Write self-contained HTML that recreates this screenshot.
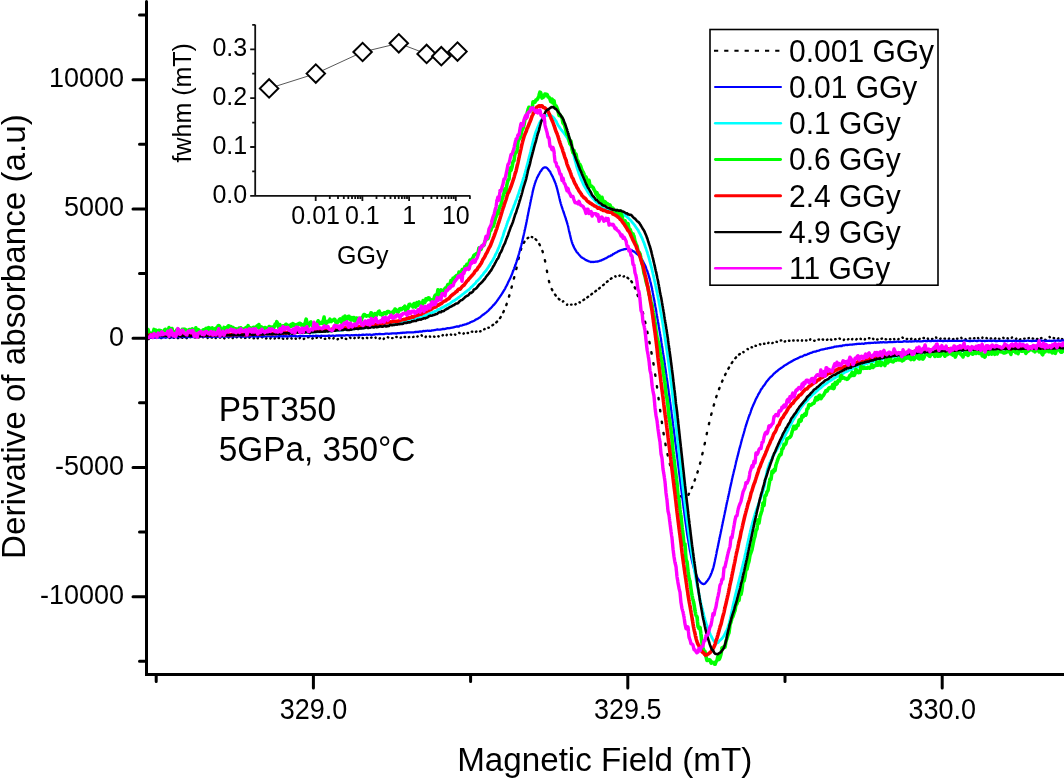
<!DOCTYPE html><html><head><meta charset="utf-8"><style>html,body{margin:0;padding:0;background:#fff;overflow:hidden}svg{display:block;will-change:transform}text{font-family:'Liberation Sans',sans-serif;fill:#000}</style></head><body>
<svg width="1064" height="778" viewBox="0 0 1064 778">
<rect width="1064" height="778" fill="#fff"/>
<defs><clipPath id="pc"><rect x="147.5" y="0" width="920" height="673"/></clipPath></defs>
<g clip-path="url(#pc)">
<path d="M148.6,339.0l0.28,-0.35M152.6,337.7l0.44,0.11M156.9,337.9l0.30,-0.34M161.2,338.1l0.23,-0.39M165.4,336.8l0.21,0.40M169.6,337.9l0.43,-0.14M173.6,337.7l0.42,0.17M177.9,338.2l0.29,-0.34M182.1,337.6l0.41,0.18M186.4,337.9l0.33,0.31M190.7,336.8l0.18,0.41M194.6,337.4l0.45,0.06M198.8,337.4l0.42,-0.16M203.1,337.3l0.36,-0.27M207.4,337.6l0.29,0.35M211.6,337.6l0.45,-0.04M215.7,338.1l0.24,-0.38M219.8,337.6l0.44,-0.08M224.1,338.2l0.41,0.18M228.4,337.2l0.26,0.37M232.7,338.1l0.20,-0.41M236.6,337.3l0.42,-0.16M240.9,337.2l0.25,0.37M245.1,338.0l0.42,-0.17M249.4,337.7l0.31,-0.33M253.6,338.3l0.45,-0.04M257.7,338.3l0.22,-0.39M261.9,337.1l0.30,0.33M266.1,338.4l0.40,-0.20M270.4,338.4l0.25,-0.38M274.7,338.6l0.19,-0.41M278.6,338.1l0.45,-0.04M282.8,338.5l0.38,0.24M287.2,338.6l0.22,-0.39M291.4,338.2l0.26,0.37M295.6,338.5l0.33,0.30M299.7,338.2l0.25,-0.37M303.8,338.9l0.40,-0.21M308.1,337.4l0.45,-0.01M312.4,338.5l0.35,-0.28M316.6,337.8l0.38,-0.25M320.7,337.3l0.22,0.39M324.8,338.9l0.44,-0.07M329.1,337.9l0.37,0.25M333.4,338.5l0.23,-0.39M337.6,339.3l0.37,-0.26M341.6,337.7l0.38,0.25M345.8,338.8l0.42,0.17M350.1,337.6l0.35,0.28M354.4,338.2l0.30,-0.34M358.6,337.8l0.30,-0.34M362.6,338.0l0.35,0.29M366.9,337.7l0.37,0.26M371.1,337.7l0.42,-0.15M375.5,337.5l0.16,0.42M379.6,338.5l0.37,-0.26M383.7,338.9l0.22,-0.39M387.8,337.3l0.43,0.14M392.1,338.1l0.45,-0.00M396.3,336.9l0.43,0.12M400.7,337.8l0.20,-0.40M404.6,337.0l0.45,0.06M408.8,337.2l0.41,-0.18M413.1,337.0l0.42,-0.16M417.3,336.6l0.41,-0.19M421.6,335.3l0.25,0.38M425.6,337.0l0.25,-0.38M429.9,336.4l0.20,0.40M434.1,336.6l0.40,0.21M438.3,336.2l0.33,0.30M442.6,335.4l0.30,-0.34M446.6,335.2l0.21,-0.40M450.8,334.5l0.39,0.23M455.0,334.4l0.36,0.26M459.2,332.8l0.35,0.29M463.5,333.7l0.29,-0.34M467.6,333.0l0.45,-0.00M471.8,331.6l0.44,0.11M476.0,331.7l0.37,-0.26M480.1,331.4l0.42,-0.15M484.2,329.3l0.39,-0.22M488.4,327.7l0.44,-0.09M492.4,325.3l0.76,-0.51M496.3,322.4l0.76,-0.77M500.0,318.1l0.67,-1.02M503.3,312.3l0.54,-1.18M506.3,305.1l0.43,-1.27M509.0,296.6l0.38,-1.30M511.5,287.7l0.36,-1.31M513.9,278.5l0.33,-1.33M516.3,269.0l0.31,-1.34M518.5,259.0l0.30,-1.34M520.8,249.8l0.43,-1.27M523.8,242.8l0.66,-1.03M527.5,238.2l0.75,-0.48M531.8,237.0l0.41,0.18M535.6,239.2l0.75,0.81M539.3,244.1l0.60,1.12M542.4,250.9l0.42,1.28M544.9,260.1l0.28,1.35M546.9,270.6l0.24,1.36M548.9,280.9l0.36,1.31M551.7,289.0l0.58,1.15M555.0,294.6l0.72,0.92M558.7,298.8l0.77,0.68M562.9,301.6l0.38,-0.25M567.0,304.8l0.25,-0.37M571.1,304.6l0.45,0.05M575.4,304.4l0.30,-0.33M579.5,302.2l0.35,0.28M583.4,300.1l0.76,-0.49M587.3,297.4l0.77,-0.57M591.3,294.4l0.77,-0.59M595.3,291.4l0.77,-0.59M599.1,288.5l0.77,-0.61M603.1,285.2l0.77,-0.66M606.9,281.9l0.77,-0.66M610.8,278.8l0.75,-0.49M615.3,276.2l0.26,0.37M619.4,275.7l0.40,-0.21M623.6,276.5l0.42,-0.17M627.5,277.8l0.77,0.57M631.3,281.3l0.69,0.99M634.7,287.3l0.50,1.22M637.5,294.8l0.43,1.27M640.2,303.1l0.38,1.30M642.8,312.3l0.34,1.32M645.1,321.7l0.30,1.34M647.3,331.8l0.28,1.35M649.4,342.0l0.27,1.35M651.4,352.3l0.26,1.36M653.4,363.2l0.23,1.36M655.2,374.5l0.21,1.37M656.9,386.1l0.19,1.38M658.5,398.0l0.18,1.38M660.1,409.9l0.19,1.38M661.8,421.6l0.20,1.37M663.5,432.9l0.23,1.37M665.4,443.8l0.26,1.36M667.5,454.1l0.30,1.34M669.8,463.8l0.34,1.32M672.2,473.2l0.33,1.32M674.5,482.7l0.35,1.32M677.2,490.8l0.59,1.13M680.7,496.2l0.77,0.69M684.9,498.2l0.28,0.35M688.4,494.8l0.61,-1.11M691.7,488.1l0.51,-1.21M694.6,480.6l0.45,-1.26M697.4,472.6l0.40,-1.29M700.0,463.7l0.35,-1.32M702.3,454.3l0.31,-1.34M704.6,444.3l0.29,-1.34M706.7,434.2l0.29,-1.34M708.9,424.2l0.31,-1.34M711.2,414.8l0.34,-1.32M713.7,405.6l0.38,-1.30M716.2,397.2l0.42,-1.28M719.0,389.2l0.47,-1.24M722.0,381.7l0.52,-1.20M725.1,374.9l0.58,-1.15M728.4,368.7l0.62,-1.09M731.7,363.1l0.68,-1.00M735.3,358.2l0.75,-0.81M739.1,354.5l0.77,-0.58M743.3,351.9l0.37,0.25M747.5,348.9l0.35,0.28M751.6,347.3l0.44,0.07M755.5,345.8l0.45,0.06M759.9,344.2l0.40,0.21M764.0,343.8l0.45,-0.00M768.2,343.1l0.27,-0.36M772.3,343.1l0.43,-0.14M776.5,341.8l0.43,0.13M780.8,340.5l0.44,-0.08M784.8,341.6l0.29,-0.34M789.0,340.8l0.44,-0.09M793.2,340.5l0.45,-0.00M797.5,340.5l0.45,0.01M801.9,340.7l0.17,-0.41M806.0,340.5l0.45,-0.04M810.1,339.7l0.21,-0.40M814.2,340.7l0.45,0.04M818.5,339.6l0.44,-0.09M822.7,339.4l0.39,0.22M827.0,339.8l0.39,-0.22M831.0,339.5l0.29,0.35M835.2,339.2l0.44,-0.07M839.5,338.5l0.38,0.24M843.8,339.9l0.24,-0.38M848.0,339.3l0.43,-0.15M852.1,339.3l0.23,-0.39M856.3,339.4l0.35,-0.28M860.5,338.8l0.38,0.24M864.8,339.5l0.19,-0.41M869.0,338.3l0.45,-0.05M873.1,338.7l0.27,0.36M877.2,339.5l0.44,-0.10M881.5,338.7l0.43,-0.14M885.7,339.3l0.44,0.08M890.0,339.2l0.42,0.17M894.1,338.9l0.24,0.38M898.3,339.3l0.27,-0.36M902.5,337.5l0.28,0.35M906.7,338.9l0.44,0.10M911.0,338.9l0.43,-0.13M915.0,339.5l0.39,-0.22M919.2,339.0l0.41,-0.18M923.5,338.0l0.45,0.00M927.8,338.6l0.20,0.41M932.0,338.9l0.45,-0.01M936.1,337.4l0.22,0.39M940.2,338.8l0.41,-0.18M944.5,338.6l0.44,0.10M948.8,338.9l0.28,-0.35M953.0,339.2l0.43,-0.12M957.0,338.7l0.45,0.02M961.3,337.8l0.25,0.38M965.5,339.1l0.34,0.30M969.7,338.4l0.45,0.03M974.0,338.3l0.44,-0.11M978.0,338.0l0.34,0.30M982.3,337.9l0.19,-0.41M986.5,338.1l0.39,0.22M990.7,338.5l0.43,-0.14M995.0,338.7l0.31,-0.33M999.0,338.7l0.44,0.10M1003.3,337.7l0.29,0.35M1007.5,338.2l0.35,0.29M1011.8,337.8l0.19,-0.41M1016.0,338.9l0.36,-0.27M1020.0,339.5l0.28,-0.35M1024.2,338.6l0.44,0.07M1028.5,338.2l0.43,-0.14M1032.7,338.5l0.44,0.08M1037.0,339.0l0.43,-0.12M1041.0,338.2l0.43,-0.12M1045.2,339.8l0.45,0.06M1049.6,336.9l0.20,0.40M1053.7,338.0l0.42,0.16M1058.0,338.6l0.35,-0.28M1062.0,338.9l0.37,0.25" fill="none" stroke="#000" stroke-width="2.4" stroke-linecap="round"/>
<path d="M148.0,337.9 L148.6,337.8 L149.2,337.8 L149.8,337.9 L150.4,337.9 L151.0,337.7 L151.6,337.7 L152.2,337.7 L152.8,337.6 L153.4,337.7 L154.0,337.8 L154.6,337.7 L155.2,337.7 L155.8,337.7 L156.4,337.6 L157.0,337.5 L157.6,337.6 L158.2,337.6 L158.8,337.4 L159.4,337.5 L160.0,337.6 L160.6,337.6 L161.2,337.5 L161.8,337.5 L162.4,337.5 L163.0,337.5 L163.6,337.3 L164.2,337.3 L164.8,337.4 L165.4,337.6 L166.0,337.7 L166.6,337.3 L167.2,337.1 L167.8,337.0 L168.4,337.0 L169.0,337.0 L169.6,337.2 L170.2,337.3 L170.8,337.3 L171.4,337.3 L172.0,337.4 L172.6,337.3 L173.2,337.3 L173.8,337.2 L174.4,337.2 L175.0,337.2 L175.6,337.1 L176.2,337.1 L176.8,337.2 L177.4,337.1 L178.0,336.9 L178.6,337.0 L179.2,337.0 L179.8,337.1 L180.4,337.2 L181.0,337.3 L181.6,337.0 L182.2,336.9 L182.8,336.8 L183.4,336.8 L184.0,336.9 L184.6,337.0 L185.2,337.0 L185.8,336.9 L186.4,337.0 L187.0,337.1 L187.6,336.8 L188.2,336.7 L188.8,337.0 L189.4,337.0 L190.0,337.0 L190.6,336.8 L191.2,336.7 L191.8,336.8 L192.4,336.9 L193.0,337.0 L193.6,336.9 L194.2,336.8 L194.8,336.9 L195.4,337.0 L196.0,337.1 L196.6,336.9 L197.2,336.8 L197.8,336.7 L198.4,336.7 L199.0,336.6 L199.6,336.7 L200.2,336.8 L200.8,336.7 L201.4,336.7 L202.0,336.7 L202.6,336.7 L203.2,336.7 L203.8,336.8 L204.4,336.7 L205.0,336.5 L205.6,336.5 L206.2,336.4 L206.8,336.3 L207.4,336.5 L208.0,336.8 L208.6,336.7 L209.2,336.7 L209.8,336.8 L210.4,336.8 L211.0,336.6 L211.6,336.5 L212.2,336.5 L212.8,336.6 L213.4,336.6 L214.0,336.6 L214.6,336.5 L215.2,336.4 L215.8,336.4 L216.4,336.6 L217.0,336.8 L217.6,336.7 L218.2,336.6 L218.8,336.6 L219.4,336.6 L220.0,336.5 L220.6,336.5 L221.2,336.5 L221.8,336.6 L222.4,336.6 L223.0,336.5 L223.6,336.4 L224.2,336.4 L224.8,336.5 L225.4,336.4 L226.0,336.4 L226.6,336.5 L227.2,336.5 L227.8,336.6 L228.4,336.5 L229.0,336.4 L229.6,336.6 L230.2,336.6 L230.8,336.4 L231.4,336.4 L232.0,336.5 L232.6,336.4 L233.2,336.4 L233.8,336.4 L234.4,336.4 L235.0,336.5 L235.6,336.4 L236.2,336.4 L236.8,336.3 L237.4,336.3 L238.0,336.3 L238.6,336.3 L239.2,336.3 L239.8,336.2 L240.4,336.3 L241.0,336.4 L241.6,336.4 L242.2,336.5 L242.8,336.5 L243.4,336.5 L244.0,336.5 L244.6,336.7 L245.2,336.7 L245.8,336.5 L246.4,336.4 L247.0,336.3 L247.6,336.5 L248.2,336.6 L248.8,336.3 L249.4,336.4 L250.0,336.5 L250.6,336.4 L251.2,336.3 L251.8,336.4 L252.4,336.3 L253.0,336.1 L253.6,336.3 L254.2,336.5 L254.8,336.4 L255.4,336.3 L256.0,336.2 L256.6,336.5 L257.2,336.6 L257.8,336.5 L258.4,336.4 L259.0,336.4 L259.6,336.3 L260.2,336.3 L260.8,336.3 L261.4,336.3 L262.0,336.3 L262.6,336.4 L263.2,336.5 L263.8,336.5 L264.4,336.4 L265.0,336.2 L265.6,336.3 L266.2,336.3 L266.8,336.3 L267.4,336.2 L268.0,336.1 L268.6,336.2 L269.2,336.3 L269.8,336.3 L270.4,336.4 L271.0,336.4 L271.6,336.5 L272.2,336.5 L272.8,336.3 L273.4,336.3 L274.0,336.4 L274.6,336.3 L275.2,336.3 L275.8,336.5 L276.4,336.5 L277.0,336.3 L277.6,336.3 L278.2,336.3 L278.8,336.2 L279.4,336.2 L280.0,336.2 L280.6,336.3 L281.2,336.3 L281.8,336.2 L282.4,336.3 L283.0,336.3 L283.6,336.1 L284.2,336.1 L284.8,336.3 L285.4,336.3 L286.0,336.1 L286.6,336.3 L287.2,336.4 L287.8,336.3 L288.4,336.3 L289.0,336.4 L289.6,336.2 L290.2,336.1 L290.8,336.2 L291.4,336.2 L292.0,336.1 L292.6,336.1 L293.2,336.1 L293.8,336.2 L294.4,336.2 L295.0,336.1 L295.6,336.2 L296.2,336.2 L296.8,336.3 L297.4,336.3 L298.0,336.3 L298.6,336.2 L299.2,336.1 L299.8,336.0 L300.4,336.0 L301.0,336.0 L301.6,336.1 L302.2,336.0 L302.8,335.9 L303.4,336.0 L304.0,336.2 L304.6,336.1 L305.2,336.1 L305.8,336.1 L306.4,336.1 L307.0,336.2 L307.6,336.2 L308.2,336.2 L308.8,336.1 L309.4,336.0 L310.0,335.9 L310.6,336.0 L311.2,336.1 L311.8,336.1 L312.4,336.0 L313.0,335.9 L313.6,336.0 L314.2,336.1 L314.8,336.1 L315.4,335.9 L316.0,335.7 L316.6,335.9 L317.2,335.9 L317.8,335.8 L318.4,335.9 L319.0,336.1 L319.6,336.1 L320.2,336.0 L320.8,335.8 L321.4,335.7 L322.0,335.8 L322.6,335.8 L323.2,335.9 L323.8,335.8 L324.4,335.9 L325.0,336.1 L325.6,336.0 L326.2,335.9 L326.8,335.8 L327.4,335.8 L328.0,335.9 L328.6,335.6 L329.2,335.5 L329.8,335.7 L330.4,335.8 L331.0,335.9 L331.6,335.8 L332.2,335.7 L332.8,335.6 L333.4,335.7 L334.0,335.8 L334.6,335.9 L335.2,335.9 L335.8,335.7 L336.4,335.6 L337.0,335.4 L337.6,335.7 L338.2,335.7 L338.8,335.4 L339.4,335.4 L340.0,335.6 L340.6,335.5 L341.2,335.5 L341.8,335.6 L342.4,335.5 L343.0,335.3 L343.6,335.5 L344.2,335.6 L344.8,335.5 L345.4,335.3 L346.0,335.1 L346.6,335.1 L347.2,335.1 L347.8,335.2 L348.4,335.4 L349.0,335.5 L349.6,335.4 L350.2,335.3 L350.8,335.3 L351.4,335.2 L352.0,335.2 L352.6,335.3 L353.2,335.3 L353.8,335.2 L354.4,335.2 L355.0,335.2 L355.6,335.1 L356.2,335.0 L356.8,335.2 L357.4,335.3 L358.0,335.2 L358.6,335.0 L359.2,334.9 L359.8,335.2 L360.4,335.2 L361.0,335.1 L361.6,334.9 L362.2,334.8 L362.8,334.6 L363.4,334.7 L364.0,334.9 L364.6,334.9 L365.2,334.8 L365.8,334.7 L366.4,334.6 L367.0,334.5 L367.6,334.7 L368.2,334.8 L368.8,334.6 L369.4,334.6 L370.0,334.5 L370.6,334.8 L371.2,335.0 L371.8,334.9 L372.4,334.8 L373.0,334.6 L373.6,334.5 L374.2,334.4 L374.8,334.5 L375.4,334.3 L376.0,334.0 L376.6,334.2 L377.2,334.3 L377.8,334.2 L378.4,334.1 L379.0,334.0 L379.6,334.0 L380.2,334.0 L380.8,334.1 L381.4,334.2 L382.0,334.1 L382.6,334.1 L383.2,334.1 L383.8,334.1 L384.4,334.0 L385.0,333.8 L385.6,333.7 L386.2,333.7 L386.8,333.6 L387.4,333.6 L388.0,333.7 L388.6,333.8 L389.2,333.8 L389.8,333.7 L390.4,333.7 L391.0,333.7 L391.6,333.5 L392.1,333.4 L392.7,333.4 L393.3,333.4 L393.9,333.3 L394.5,333.3 L395.1,333.3 L395.7,333.5 L396.3,333.5 L396.9,333.4 L397.5,333.2 L398.1,333.1 L398.7,333.1 L399.3,333.1 L399.9,333.1 L400.5,332.9 L401.1,332.8 L401.7,333.0 L402.3,332.9 L402.9,332.7 L403.5,332.7 L404.1,332.8 L404.7,332.7 L405.3,332.6 L405.9,332.6 L406.5,332.5 L407.1,332.4 L407.7,332.4 L408.3,332.3 L408.9,332.3 L409.5,332.3 L410.1,332.3 L410.7,332.3 L411.3,332.3 L411.9,332.3 L412.5,332.3 L413.1,332.4 L413.7,332.3 L414.3,332.2 L414.9,332.0 L415.5,332.0 L416.1,332.0 L416.7,331.8 L417.3,331.8 L417.9,332.0 L418.5,331.9 L419.1,331.7 L419.7,331.5 L420.3,331.5 L420.9,331.6 L421.5,331.6 L422.1,331.5 L422.7,331.1 L423.3,331.0 L423.9,331.1 L424.5,331.1 L425.1,331.0 L425.7,330.9 L426.3,330.8 L426.8,330.8 L427.4,330.7 L428.0,330.7 L428.6,330.8 L429.2,330.8 L429.8,330.7 L430.4,330.8 L431.0,330.9 L431.6,330.5 L432.2,330.4 L432.8,330.4 L433.4,330.3 L434.0,330.2 L434.6,330.1 L435.2,330.0 L435.8,329.8 L436.4,329.7 L437.0,329.5 L437.6,329.5 L438.2,329.6 L438.8,329.6 L439.4,329.7 L440.0,329.7 L440.6,329.5 L441.1,329.4 L441.7,329.3 L442.3,329.1 L442.9,328.9 L443.5,329.0 L444.1,329.1 L444.7,329.0 L445.3,328.8 L445.9,328.6 L446.5,328.5 L447.1,328.4 L447.7,328.2 L448.3,328.2 L448.9,328.3 L449.5,328.2 L450.1,328.0 L450.6,327.9 L451.2,327.8 L451.8,327.7 L452.4,327.6 L453.0,327.5 L453.6,327.3 L454.2,327.1 L454.8,327.0 L455.4,326.8 L456.0,326.7 L456.5,326.5 L457.1,326.4 L457.7,326.5 L458.3,326.5 L458.9,326.5 L459.5,326.1 L460.0,325.7 L460.6,325.7 L461.2,325.7 L461.8,325.5 L462.4,325.3 L462.9,325.0 L463.5,324.9 L464.1,324.8 L464.7,324.5 L465.2,324.3 L465.8,324.3 L466.4,324.1 L466.9,323.8 L467.5,323.6 L468.1,323.4 L468.6,323.3 L469.2,323.0 L469.7,322.7 L470.3,322.4 L470.8,322.0 L471.4,321.8 L471.9,321.6 L472.5,321.5 L473.0,321.3 L473.5,321.0 L474.1,320.7 L474.6,320.4 L475.1,320.1 L475.6,319.7 L476.2,319.4 L476.7,319.2 L477.2,318.9 L477.7,318.7 L478.2,318.4 L478.7,318.0 L479.2,317.7 L479.7,317.5 L480.2,317.2 L480.7,316.7 L481.2,316.2 L481.7,315.8 L482.2,315.4 L482.7,315.0 L483.1,314.6 L483.6,314.5 L484.1,314.3 L484.5,313.8 L485.0,313.3 L485.5,313.0 L485.9,312.7 L486.4,312.3 L486.8,311.9 L487.3,311.5 L487.7,311.2 L488.2,310.8 L488.6,310.4 L489.0,309.9 L489.5,309.4 L489.9,308.9 L490.3,308.5 L490.8,308.1 L491.2,307.7 L491.6,307.3 L492.0,306.9 L492.4,306.4 L492.8,305.8 L493.2,305.3 L493.6,305.1 L494.0,304.8 L494.4,304.3 L494.8,303.8 L495.2,303.3 L495.6,302.9 L495.9,302.4 L496.3,301.9 L496.7,301.3 L497.0,300.8 L497.4,300.4 L497.8,299.9 L498.1,299.4 L498.5,298.9 L498.8,298.3 L499.2,297.8 L499.5,297.4 L499.9,296.9 L500.2,296.4 L500.5,295.9 L500.9,295.4 L501.2,294.9 L501.5,294.4 L501.9,293.9 L502.2,293.4 L502.5,292.9 L502.8,292.4 L503.1,291.9 L503.4,291.4 L503.7,290.9 L504.0,290.4 L504.3,289.9 L504.6,289.5 L504.9,289.0 L505.2,288.4 L505.5,287.7 L505.8,287.1 L506.1,286.5 L506.4,286.1 L506.6,285.7 L506.9,285.2 L507.2,284.6 L507.5,284.0 L507.7,283.3 L508.0,282.7 L508.3,282.1 L508.5,281.6 L508.8,281.0 L509.0,280.5 L509.3,280.0 L509.5,279.5 L509.8,279.1 L510.0,278.6 L510.3,278.0 L510.5,277.5 L510.8,277.0 L511.0,276.4 L511.2,275.9 L511.5,275.3 L511.7,274.8 L511.9,274.3 L512.2,273.7 L512.4,273.0 L512.6,272.4 L512.8,271.8 L513.0,271.2 L513.3,270.7 L513.5,270.2 L513.7,269.6 L513.9,269.1 L514.1,268.6 L514.3,268.0 L514.5,267.5 L514.7,266.9 L514.9,266.4 L515.1,265.8 L515.3,265.3 L515.5,264.8 L515.7,264.2 L515.9,263.7 L516.1,263.1 L516.3,262.5 L516.5,261.9 L516.7,261.3 L516.8,260.7 L517.0,260.1 L517.2,259.5 L517.4,259.0 L517.6,258.4 L517.8,257.9 L517.9,257.3 L518.1,256.7 L518.3,256.1 L518.4,255.5 L518.6,254.9 L518.8,254.3 L519.0,253.6 L519.1,253.1 L519.3,252.5 L519.4,252.0 L519.6,251.4 L519.8,250.8 L519.9,250.3 L520.1,249.7 L520.2,249.1 L520.4,248.5 L520.6,248.0 L520.7,247.4 L520.9,246.8 L521.0,246.2 L521.2,245.6 L521.3,245.1 L521.5,244.5 L521.6,244.0 L521.8,243.4 L521.9,242.9 L522.0,242.3 L522.2,241.7 L522.3,241.0 L522.5,240.4 L522.6,239.8 L522.7,239.2 L522.9,238.6 L523.0,238.0 L523.2,237.4 L523.3,236.8 L523.4,236.2 L523.6,235.6 L523.7,235.0 L523.8,234.5 L523.9,233.9 L524.1,233.3 L524.2,232.8 L524.3,232.2 L524.5,231.6 L524.6,231.1 L524.7,230.5 L524.8,230.0 L525.0,229.4 L525.1,228.8 L525.2,228.3 L525.3,227.7 L525.5,227.1 L525.6,226.6 L525.7,226.0 L525.8,225.4 L526.0,224.9 L526.1,224.3 L526.2,223.7 L526.3,223.1 L526.4,222.4 L526.6,221.8 L526.7,221.2 L526.8,220.6 L526.9,220.0 L527.0,219.4 L527.2,218.8 L527.3,218.2 L527.4,217.6 L527.5,217.0 L527.6,216.4 L527.7,215.8 L527.9,215.3 L528.0,214.7 L528.1,214.1 L528.2,213.5 L528.3,212.9 L528.4,212.3 L528.6,211.7 L528.7,211.1 L528.8,210.5 L528.9,209.9 L529.0,209.3 L529.1,208.7 L529.3,208.2 L529.4,207.6 L529.5,207.0 L529.6,206.5 L529.7,205.9 L529.9,205.3 L530.0,204.8 L530.1,204.2 L530.2,203.6 L530.3,203.0 L530.4,202.4 L530.6,201.8 L530.7,201.2 L530.8,200.6 L530.9,200.0 L531.1,199.4 L531.2,198.9 L531.3,198.3 L531.4,197.7 L531.5,197.2 L531.7,196.6 L531.8,196.0 L531.9,195.5 L532.0,194.9 L532.2,194.3 L532.3,193.7 L532.4,193.0 L532.6,192.4 L532.7,191.8 L532.8,191.2 L533.0,190.6 L533.1,190.0 L533.3,189.4 L533.4,188.8 L533.6,188.2 L533.7,187.5 L533.9,186.9 L534.1,186.3 L534.2,185.8 L534.4,185.2 L534.6,184.6 L534.7,184.1 L534.9,183.5 L535.1,182.9 L535.3,182.4 L535.5,181.8 L535.7,181.2 L535.9,180.6 L536.1,180.1 L536.3,179.5 L536.6,178.9 L536.8,178.4 L537.0,177.8 L537.3,177.4 L537.5,176.9 L537.8,176.5 L538.0,176.0 L538.3,175.4 L538.6,174.9 L538.9,174.3 L539.2,173.8 L539.5,173.2 L539.8,172.5 L540.1,172.0 L540.4,171.6 L540.7,171.3 L541.1,170.9 L541.4,170.3 L541.8,169.8 L542.1,169.2 L542.5,168.7 L543.0,168.2 L543.4,167.9 L543.9,167.7 L544.5,167.4 L545.1,167.4 L545.7,167.4 L546.2,167.6 L546.7,167.8 L547.2,168.2 L547.7,168.7 L548.1,169.2 L548.5,169.7 L548.8,170.2 L549.2,170.6 L549.5,171.0 L549.9,171.3 L550.2,171.8 L550.5,172.5 L550.8,173.2 L551.1,173.8 L551.4,174.3 L551.7,174.8 L551.9,175.4 L552.2,175.9 L552.5,176.4 L552.7,176.9 L553.0,177.4 L553.2,177.9 L553.5,178.5 L553.7,179.1 L553.9,179.7 L554.2,180.2 L554.4,180.7 L554.6,181.3 L554.9,181.8 L555.1,182.4 L555.3,182.9 L555.5,183.5 L555.7,184.0 L555.9,184.6 L556.1,185.1 L556.2,185.7 L556.4,186.3 L556.6,186.9 L556.8,187.5 L556.9,188.1 L557.1,188.7 L557.3,189.3 L557.4,189.9 L557.6,190.5 L557.7,191.2 L557.9,191.8 L558.0,192.4 L558.2,192.9 L558.3,193.4 L558.4,194.0 L558.6,194.5 L558.7,195.0 L558.8,195.5 L559.0,196.1 L559.1,196.7 L559.2,197.3 L559.4,197.9 L559.5,198.5 L559.7,199.1 L559.8,199.8 L559.9,200.4 L560.1,201.0 L560.2,201.6 L560.4,202.1 L560.6,202.7 L560.7,203.3 L560.9,203.9 L561.1,204.4 L561.2,205.0 L561.4,205.5 L561.6,206.1 L561.8,206.6 L561.9,207.2 L562.1,207.7 L562.3,208.3 L562.5,208.9 L562.7,209.5 L562.9,210.1 L563.1,210.6 L563.3,211.2 L563.5,211.7 L563.6,212.2 L563.8,212.8 L564.0,213.3 L564.2,213.9 L564.4,214.5 L564.6,215.1 L564.8,215.7 L565.0,216.2 L565.2,216.8 L565.4,217.4 L565.6,218.0 L565.8,218.6 L565.9,219.2 L566.1,219.8 L566.3,220.4 L566.5,221.0 L566.7,221.5 L566.9,222.1 L567.0,222.7 L567.2,223.2 L567.4,223.8 L567.5,224.3 L567.7,224.9 L567.9,225.4 L568.0,226.0 L568.2,226.7 L568.3,227.3 L568.5,228.0 L568.6,228.7 L568.7,229.3 L568.9,230.0 L569.0,230.7 L569.1,231.2 L569.3,231.7 L569.4,232.2 L569.5,232.7 L569.6,233.2 L569.8,233.8 L569.9,234.3 L570.0,234.8 L570.2,235.4 L570.3,236.0 L570.4,236.6 L570.6,237.2 L570.7,237.8 L570.8,238.4 L571.0,239.0 L571.2,239.6 L571.3,240.1 L571.5,240.7 L571.7,241.3 L571.8,241.8 L572.0,242.4 L572.2,243.0 L572.4,243.5 L572.6,244.1 L572.8,244.6 L573.1,245.2 L573.3,245.8 L573.6,246.4 L573.8,247.0 L574.1,247.6 L574.4,248.0 L574.6,248.5 L574.9,248.9 L575.2,249.5 L575.6,250.1 L575.9,250.7 L576.2,251.2 L576.5,251.7 L576.9,252.2 L577.3,252.6 L577.6,252.9 L578.0,253.3 L578.4,253.9 L578.8,254.4 L579.2,254.9 L579.6,255.3 L580.0,255.6 L580.4,256.2 L580.9,256.8 L581.3,257.2 L581.7,257.4 L582.2,257.6 L582.7,258.0 L583.2,258.3 L583.6,258.5 L584.1,258.8 L584.6,259.2 L585.2,259.6 L585.7,259.9 L586.2,260.2 L586.8,260.4 L587.3,260.7 L587.9,260.9 L588.4,261.1 L589.0,261.3 L589.6,261.5 L590.2,261.8 L590.7,262.0 L591.3,262.0 L591.9,261.8 L592.5,261.9 L593.1,262.0 L593.7,261.9 L594.3,261.9 L594.9,261.8 L595.5,261.7 L596.1,261.6 L596.7,261.6 L597.3,261.5 L597.9,261.5 L598.5,261.3 L599.0,261.1 L599.6,260.9 L600.2,260.7 L600.7,260.6 L601.3,260.4 L601.8,260.1 L602.4,259.8 L602.9,259.6 L603.5,259.4 L604.0,259.1 L604.6,258.8 L605.1,258.5 L605.6,258.3 L606.2,258.1 L606.7,257.8 L607.2,257.5 L607.8,257.1 L608.3,256.8 L608.8,256.4 L609.3,256.3 L609.9,256.2 L610.4,255.9 L610.9,255.4 L611.4,255.3 L612.0,255.3 L612.5,254.7 L613.0,254.1 L613.5,253.9 L614.0,253.8 L614.6,253.4 L615.1,253.0 L615.6,252.8 L616.1,252.5 L616.7,252.3 L617.2,252.0 L617.7,251.6 L618.3,251.3 L618.8,251.1 L619.4,250.9 L619.9,250.6 L620.5,250.4 L621.0,250.2 L621.6,250.0 L622.1,249.8 L622.7,249.7 L623.3,249.5 L623.9,249.4 L624.5,249.2 L625.1,249.1 L625.7,249.0 L626.3,248.9 L626.9,248.9 L627.4,248.9 L628.0,249.1 L628.6,249.2 L629.2,249.4 L629.8,249.7 L630.3,249.9 L630.9,250.0 L631.4,250.2 L632.0,250.4 L632.5,250.8 L633.0,251.2 L633.6,251.4 L634.1,251.6 L634.6,252.0 L635.0,252.3 L635.5,252.7 L636.0,253.1 L636.5,253.6 L636.9,254.0 L637.4,254.3 L637.8,254.5 L638.2,254.9 L638.6,255.4 L639.1,255.9 L639.5,256.4 L639.8,256.9 L640.2,257.4 L640.6,257.9 L641.0,258.3 L641.3,258.8 L641.7,259.2 L642.0,259.7 L642.3,260.2 L642.6,260.7 L643.0,261.3 L643.3,261.9 L643.5,262.5 L643.8,263.1 L644.1,263.6 L644.4,264.1 L644.6,264.6 L644.9,265.0 L645.1,265.6 L645.4,266.2 L645.6,266.8 L645.9,267.4 L646.1,267.9 L646.3,268.5 L646.5,269.1 L646.7,269.6 L646.9,270.2 L647.1,270.7 L647.3,271.3 L647.5,271.8 L647.7,272.3 L647.9,272.9 L648.1,273.4 L648.3,274.0 L648.4,274.6 L648.6,275.2 L648.8,275.8 L648.9,276.4 L649.1,277.0 L649.3,277.5 L649.4,278.1 L649.6,278.7 L649.7,279.2 L649.9,279.8 L650.0,280.3 L650.2,280.9 L650.3,281.5 L650.5,282.1 L650.6,282.7 L650.8,283.2 L650.9,283.8 L651.0,284.4 L651.2,285.0 L651.3,285.5 L651.4,286.1 L651.6,286.7 L651.7,287.3 L651.8,287.9 L652.0,288.4 L652.1,289.0 L652.2,289.7 L652.3,290.3 L652.4,290.9 L652.6,291.5 L652.7,292.2 L652.8,292.8 L652.9,293.4 L653.0,294.0 L653.1,294.6 L653.3,295.1 L653.4,295.7 L653.5,296.3 L653.6,296.9 L653.7,297.4 L653.8,298.0 L653.9,298.6 L654.0,299.1 L654.1,299.7 L654.3,300.3 L654.4,300.9 L654.5,301.5 L654.6,302.1 L654.7,302.7 L654.8,303.2 L654.9,303.8 L655.0,304.4 L655.1,305.0 L655.2,305.6 L655.3,306.2 L655.4,306.7 L655.5,307.3 L655.6,307.9 L655.8,308.5 L655.9,309.1 L656.0,309.7 L656.1,310.3 L656.2,310.9 L656.3,311.5 L656.4,312.2 L656.5,312.8 L656.6,313.5 L656.7,314.1 L656.8,314.7 L656.9,315.4 L657.0,316.0 L657.1,316.6 L657.2,317.1 L657.3,317.7 L657.4,318.3 L657.5,318.9 L657.6,319.4 L657.7,320.0 L657.8,320.6 L657.9,321.2 L658.0,321.7 L658.1,322.3 L658.2,322.9 L658.3,323.5 L658.4,324.1 L658.5,324.6 L658.6,325.2 L658.7,325.8 L658.8,326.4 L658.9,327.0 L659.0,327.5 L659.1,328.1 L659.2,328.7 L659.3,329.3 L659.4,329.9 L659.5,330.5 L659.6,331.0 L659.7,331.6 L659.8,332.2 L659.9,332.8 L660.0,333.4 L660.1,334.0 L660.2,334.5 L660.3,335.1 L660.4,335.7 L660.5,336.3 L660.6,336.9 L660.7,337.4 L660.8,338.0 L660.9,338.6 L661.0,339.2 L661.1,339.8 L661.1,340.4 L661.2,341.0 L661.3,341.6 L661.4,342.2 L661.5,342.9 L661.6,343.5 L661.7,344.1 L661.8,344.7 L661.9,345.3 L662.0,346.0 L662.1,346.6 L662.2,347.1 L662.3,347.7 L662.4,348.3 L662.5,348.9 L662.5,349.5 L662.6,350.1 L662.7,350.7 L662.8,351.3 L662.9,351.9 L663.0,352.5 L663.1,353.0 L663.2,353.6 L663.3,354.2 L663.4,354.8 L663.5,355.3 L663.6,355.9 L663.6,356.5 L663.7,357.0 L663.8,357.6 L663.9,358.2 L664.0,358.8 L664.1,359.4 L664.2,360.0 L664.3,360.6 L664.4,361.3 L664.4,361.9 L664.5,362.5 L664.6,363.1 L664.7,363.8 L664.8,364.4 L664.9,365.0 L665.0,365.7 L665.1,366.3 L665.2,366.8 L665.2,367.4 L665.3,368.0 L665.4,368.6 L665.5,369.2 L665.6,369.8 L665.7,370.4 L665.8,371.0 L665.8,371.6 L665.9,372.1 L666.0,372.7 L666.1,373.3 L666.2,373.9 L666.3,374.4 L666.4,375.0 L666.4,375.6 L666.5,376.2 L666.6,376.7 L666.7,377.3 L666.8,377.9 L666.9,378.4 L667.0,379.0 L667.0,379.6 L667.1,380.2 L667.2,380.8 L667.3,381.4 L667.4,382.0 L667.5,382.6 L667.5,383.2 L667.6,383.8 L667.7,384.4 L667.8,385.0 L667.9,385.6 L668.0,386.2 L668.0,386.8 L668.1,387.4 L668.2,388.0 L668.3,388.6 L668.4,389.2 L668.5,389.8 L668.5,390.4 L668.6,391.0 L668.7,391.6 L668.8,392.2 L668.9,392.7 L669.0,393.3 L669.0,393.9 L669.1,394.5 L669.2,395.1 L669.3,395.7 L669.4,396.3 L669.4,397.0 L669.5,397.6 L669.6,398.2 L669.7,398.8 L669.8,399.4 L669.8,400.0 L669.9,400.6 L670.0,401.2 L670.1,401.8 L670.2,402.3 L670.3,402.9 L670.3,403.5 L670.4,404.1 L670.5,404.7 L670.6,405.3 L670.7,405.9 L670.7,406.5 L670.8,407.1 L670.9,407.7 L671.0,408.3 L671.0,408.8 L671.1,409.4 L671.2,410.0 L671.3,410.6 L671.4,411.1 L671.4,411.7 L671.5,412.3 L671.6,412.9 L671.7,413.5 L671.8,414.0 L671.8,414.6 L671.9,415.2 L672.0,415.8 L672.1,416.4 L672.2,417.0 L672.2,417.7 L672.3,418.3 L672.4,418.9 L672.5,419.5 L672.5,420.2 L672.6,420.8 L672.7,421.4 L672.8,422.1 L672.9,422.7 L672.9,423.3 L673.0,424.0 L673.1,424.5 L673.2,425.1 L673.2,425.7 L673.3,426.3 L673.4,426.9 L673.5,427.4 L673.5,428.0 L673.6,428.6 L673.7,429.2 L673.8,429.8 L673.9,430.4 L673.9,430.9 L674.0,431.5 L674.1,432.1 L674.2,432.7 L674.2,433.3 L674.3,433.9 L674.4,434.6 L674.5,435.2 L674.5,435.8 L674.6,436.4 L674.7,437.0 L674.8,437.6 L674.8,438.2 L674.9,438.8 L675.0,439.4 L675.1,440.0 L675.1,440.6 L675.2,441.2 L675.3,441.8 L675.4,442.4 L675.5,443.0 L675.5,443.6 L675.6,444.2 L675.7,444.8 L675.8,445.4 L675.8,445.9 L675.9,446.5 L676.0,447.1 L676.1,447.7 L676.1,448.3 L676.2,448.9 L676.3,449.5 L676.4,450.0 L676.4,450.6 L676.5,451.2 L676.6,451.8 L676.7,452.4 L676.7,452.9 L676.8,453.5 L676.9,454.1 L677.0,454.7 L677.0,455.3 L677.1,455.9 L677.2,456.5 L677.3,457.1 L677.3,457.7 L677.4,458.3 L677.5,458.9 L677.6,459.5 L677.6,460.1 L677.7,460.7 L677.8,461.3 L677.9,461.9 L677.9,462.5 L678.0,463.1 L678.1,463.7 L678.2,464.3 L678.2,464.9 L678.3,465.5 L678.4,466.1 L678.5,466.7 L678.5,467.3 L678.6,467.9 L678.7,468.5 L678.8,469.1 L678.8,469.7 L678.9,470.3 L679.0,470.9 L679.0,471.5 L679.1,472.1 L679.2,472.7 L679.3,473.3 L679.3,473.9 L679.4,474.4 L679.5,475.0 L679.6,475.6 L679.6,476.2 L679.7,476.8 L679.8,477.4 L679.9,478.0 L679.9,478.6 L680.0,479.2 L680.1,479.8 L680.2,480.4 L680.2,481.0 L680.3,481.5 L680.4,482.1 L680.5,482.7 L680.5,483.3 L680.6,483.9 L680.7,484.5 L680.8,485.1 L680.8,485.6 L680.9,486.2 L681.0,486.8 L681.1,487.4 L681.1,488.0 L681.2,488.6 L681.3,489.2 L681.4,489.8 L681.4,490.4 L681.5,490.9 L681.6,491.5 L681.7,492.1 L681.7,492.7 L681.8,493.3 L681.9,493.9 L682.0,494.5 L682.0,495.1 L682.1,495.7 L682.2,496.3 L682.3,496.9 L682.3,497.5 L682.4,498.1 L682.5,498.7 L682.6,499.3 L682.6,499.9 L682.7,500.5 L682.8,501.1 L682.9,501.7 L682.9,502.3 L683.0,502.9 L683.1,503.5 L683.2,504.1 L683.2,504.7 L683.3,505.3 L683.4,505.8 L683.5,506.4 L683.5,507.0 L683.6,507.6 L683.7,508.2 L683.8,508.8 L683.9,509.4 L683.9,509.9 L684.0,510.5 L684.1,511.1 L684.2,511.7 L684.2,512.3 L684.3,512.9 L684.4,513.5 L684.5,514.1 L684.5,514.7 L684.6,515.3 L684.7,515.9 L684.8,516.5 L684.8,517.1 L684.9,517.7 L685.0,518.3 L685.1,518.9 L685.2,519.5 L685.2,520.0 L685.3,520.6 L685.4,521.2 L685.5,521.8 L685.6,522.3 L685.6,522.9 L685.7,523.5 L685.8,524.1 L685.9,524.6 L686.0,525.2 L686.0,525.8 L686.1,526.4 L686.2,527.1 L686.3,527.7 L686.4,528.3 L686.5,528.9 L686.5,529.5 L686.6,530.2 L686.7,530.8 L686.8,531.4 L686.9,532.0 L687.0,532.6 L687.1,533.2 L687.1,533.8 L687.2,534.4 L687.3,535.0 L687.4,535.6 L687.5,536.1 L687.6,536.7 L687.7,537.3 L687.8,537.9 L687.9,538.4 L688.0,539.0 L688.1,539.6 L688.2,540.2 L688.3,540.8 L688.4,541.4 L688.5,542.0 L688.6,542.6 L688.7,543.2 L688.8,543.8 L688.9,544.4 L689.0,545.0 L689.1,545.6 L689.2,546.2 L689.3,546.8 L689.4,547.4 L689.5,548.0 L689.6,548.6 L689.7,549.2 L689.8,549.8 L689.9,550.4 L690.0,551.0 L690.2,551.6 L690.3,552.2 L690.4,552.8 L690.5,553.4 L690.6,554.0 L690.7,554.6 L690.9,555.1 L691.0,555.7 L691.1,556.4 L691.2,557.0 L691.3,557.6 L691.5,558.2 L691.6,558.8 L691.7,559.4 L691.8,560.1 L692.0,560.7 L692.1,561.2 L692.2,561.8 L692.4,562.3 L692.5,562.9 L692.6,563.4 L692.8,564.0 L692.9,564.5 L693.1,565.1 L693.2,565.6 L693.4,566.2 L693.5,566.7 L693.7,567.3 L693.8,567.8 L694.0,568.3 L694.1,568.9 L694.3,569.6 L694.5,570.2 L694.7,570.8 L694.8,571.4 L695.0,572.0 L695.2,572.6 L695.4,573.1 L695.6,573.6 L695.9,574.2 L696.1,574.7 L696.3,575.3 L696.6,575.9 L696.8,576.5 L697.1,577.0 L697.4,577.5 L697.6,578.0 L697.9,578.5 L698.2,579.0 L698.5,579.5 L698.9,580.0 L699.2,580.5 L699.5,581.0 L699.9,581.5 L700.3,582.0 L700.7,582.4 L701.1,582.8 L701.5,583.2 L702.0,583.4 L702.5,583.8 L703.1,584.0 L703.7,584.0 L704.3,583.9 L704.8,583.7 L705.3,583.3 L705.7,582.8 L706.1,582.3 L706.5,581.8 L706.9,581.3 L707.2,580.9 L707.6,580.5 L707.9,580.0 L708.2,579.5 L708.6,579.0 L708.9,578.5 L709.2,578.0 L709.5,577.5 L709.7,577.0 L710.0,576.5 L710.3,576.0 L710.5,575.4 L710.8,574.8 L711.0,574.2 L711.3,573.6 L711.5,573.1 L711.7,572.5 L711.9,571.9 L712.1,571.3 L712.3,570.8 L712.5,570.3 L712.7,569.8 L712.9,569.2 L713.0,568.7 L713.2,568.1 L713.4,567.5 L713.5,567.0 L713.7,566.4 L713.8,565.8 L714.0,565.2 L714.1,564.6 L714.2,564.0 L714.4,563.4 L714.5,562.7 L714.6,562.1 L714.8,561.5 L714.9,560.9 L715.0,560.2 L715.1,559.7 L715.3,559.1 L715.4,558.5 L715.5,557.9 L715.6,557.4 L715.8,556.8 L715.9,556.2 L716.0,555.6 L716.1,555.0 L716.2,554.4 L716.4,553.8 L716.5,553.2 L716.6,552.5 L716.7,551.9 L716.8,551.3 L717.0,550.7 L717.1,550.1 L717.2,549.5 L717.3,549.0 L717.5,548.4 L717.6,547.8 L717.7,547.3 L717.8,546.7 L717.9,546.1 L718.1,545.6 L718.2,545.0 L718.3,544.4 L718.4,543.8 L718.5,543.2 L718.7,542.6 L718.8,542.0 L718.9,541.4 L719.0,540.8 L719.1,540.2 L719.3,539.6 L719.4,539.1 L719.5,538.5 L719.6,537.9 L719.7,537.3 L719.9,536.8 L720.0,536.2 L720.1,535.6 L720.2,535.0 L720.3,534.4 L720.5,533.8 L720.6,533.2 L720.7,532.6 L720.8,532.0 L721.0,531.5 L721.1,530.9 L721.2,530.3 L721.3,529.7 L721.4,529.1 L721.6,528.5 L721.7,528.0 L721.8,527.4 L721.9,526.8 L722.0,526.2 L722.2,525.6 L722.3,525.0 L722.4,524.4 L722.5,523.9 L722.6,523.3 L722.8,522.7 L722.9,522.1 L723.0,521.5 L723.1,520.9 L723.3,520.4 L723.4,519.8 L723.5,519.2 L723.6,518.6 L723.7,518.1 L723.9,517.5 L724.0,516.9 L724.1,516.3 L724.2,515.7 L724.3,515.1 L724.5,514.5 L724.6,513.9 L724.7,513.4 L724.8,512.8 L725.0,512.2 L725.1,511.6 L725.2,511.0 L725.3,510.4 L725.5,509.8 L725.6,509.2 L725.7,508.6 L725.8,508.0 L725.9,507.4 L726.1,506.8 L726.2,506.2 L726.3,505.6 L726.4,505.0 L726.6,504.4 L726.7,503.8 L726.8,503.2 L726.9,502.6 L727.1,502.0 L727.2,501.4 L727.3,500.9 L727.4,500.4 L727.6,499.8 L727.7,499.3 L727.8,498.7 L727.9,498.2 L728.1,497.6 L728.2,497.1 L728.3,496.5 L728.5,495.9 L728.6,495.3 L728.7,494.7 L728.8,494.1 L729.0,493.6 L729.1,493.0 L729.2,492.3 L729.3,491.7 L729.5,491.1 L729.6,490.5 L729.7,489.8 L729.9,489.2 L730.0,488.6 L730.1,488.0 L730.2,487.5 L730.4,486.9 L730.5,486.3 L730.6,485.8 L730.8,485.2 L730.9,484.6 L731.0,484.1 L731.2,483.4 L731.3,482.8 L731.4,482.2 L731.6,481.5 L731.7,480.9 L731.8,480.3 L732.0,479.7 L732.1,479.1 L732.2,478.5 L732.3,477.9 L732.5,477.3 L732.6,476.7 L732.8,476.1 L732.9,475.6 L733.0,475.0 L733.2,474.4 L733.3,473.9 L733.4,473.3 L733.6,472.7 L733.7,472.2 L733.8,471.6 L734.0,471.1 L734.1,470.5 L734.2,470.0 L734.4,469.4 L734.5,468.9 L734.7,468.3 L734.8,467.8 L734.9,467.2 L735.1,466.6 L735.2,466.0 L735.3,465.4 L735.5,464.7 L735.6,464.1 L735.8,463.5 L735.9,462.8 L736.0,462.2 L736.2,461.6 L736.3,461.0 L736.5,460.5 L736.6,459.9 L736.8,459.3 L736.9,458.7 L737.0,458.2 L737.2,457.6 L737.3,457.1 L737.5,456.6 L737.6,456.0 L737.8,455.5 L737.9,455.0 L738.1,454.4 L738.2,453.7 L738.4,453.1 L738.5,452.4 L738.7,451.8 L738.8,451.1 L739.0,450.5 L739.1,449.9 L739.3,449.4 L739.4,448.8 L739.6,448.3 L739.7,447.8 L739.9,447.3 L740.0,446.7 L740.2,446.2 L740.3,445.6 L740.5,445.0 L740.6,444.4 L740.8,443.8 L740.9,443.2 L741.1,442.7 L741.2,442.1 L741.4,441.5 L741.6,440.9 L741.7,440.3 L741.9,439.7 L742.0,439.1 L742.2,438.5 L742.3,437.9 L742.5,437.4 L742.7,436.8 L742.8,436.2 L743.0,435.7 L743.2,435.2 L743.3,434.6 L743.5,434.1 L743.6,433.6 L743.8,433.1 L744.0,432.6 L744.1,431.9 L744.3,431.2 L744.5,430.6 L744.7,429.9 L744.8,429.2 L745.0,428.6 L745.2,428.0 L745.3,427.5 L745.5,426.9 L745.7,426.3 L745.9,425.8 L746.1,425.2 L746.2,424.7 L746.4,424.1 L746.6,423.5 L746.8,423.0 L747.0,422.4 L747.1,421.8 L747.3,421.2 L747.5,420.6 L747.7,420.1 L747.9,419.5 L748.1,418.9 L748.3,418.3 L748.5,417.7 L748.7,417.1 L748.9,416.5 L749.1,416.0 L749.3,415.5 L749.5,415.0 L749.7,414.6 L749.9,414.1 L750.1,413.6 L750.3,413.0 L750.5,412.4 L750.7,411.8 L750.9,411.1 L751.1,410.5 L751.3,409.9 L751.6,409.3 L751.8,408.7 L752.0,408.0 L752.2,407.5 L752.4,407.0 L752.7,406.5 L752.9,406.0 L753.1,405.4 L753.4,404.9 L753.6,404.4 L753.8,403.9 L754.1,403.4 L754.3,402.8 L754.5,402.3 L754.8,401.7 L755.0,401.2 L755.3,400.6 L755.5,399.9 L755.8,399.3 L756.1,398.7 L756.3,398.3 L756.6,397.8 L756.8,397.3 L757.1,396.8 L757.4,396.3 L757.7,395.7 L757.9,395.2 L758.2,394.7 L758.5,394.2 L758.8,393.7 L759.1,393.1 L759.4,392.6 L759.7,392.1 L760.0,391.6 L760.3,391.0 L760.6,390.3 L760.9,389.7 L761.2,389.3 L761.5,388.9 L761.8,388.6 L762.1,388.2 L762.5,387.6 L762.8,387.0 L763.1,386.5 L763.5,386.1 L763.8,385.7 L764.2,385.2 L764.5,384.8 L764.9,384.4 L765.2,383.8 L765.6,383.2 L766.0,382.5 L766.3,382.0 L766.7,381.5 L767.1,381.0 L767.5,380.6 L767.8,380.3 L768.2,379.8 L768.6,379.3 L769.0,378.8 L769.4,378.4 L769.8,377.9 L770.2,377.4 L770.7,377.0 L771.1,376.5 L771.5,376.3 L771.9,376.0 L772.3,375.5 L772.8,375.0 L773.2,374.5 L773.6,374.0 L774.1,373.5 L774.5,373.2 L775.0,372.9 L775.4,372.4 L775.9,372.0 L776.3,371.6 L776.8,371.4 L777.3,371.0 L777.7,370.6 L778.2,370.1 L778.7,369.7 L779.1,369.4 L779.6,369.1 L780.1,368.8 L780.6,368.4 L781.1,368.0 L781.5,367.7 L782.0,367.5 L782.5,367.1 L783.0,366.8 L783.5,366.4 L784.0,365.9 L784.5,365.6 L785.0,365.2 L785.5,365.0 L786.0,364.7 L786.5,364.4 L787.0,364.2 L787.5,363.8 L788.1,363.4 L788.6,363.1 L789.1,362.8 L789.6,362.5 L790.1,362.2 L790.6,361.9 L791.2,361.6 L791.7,361.4 L792.2,361.1 L792.7,360.7 L793.3,360.4 L793.8,360.1 L794.3,359.8 L794.9,359.6 L795.4,359.3 L795.9,359.0 L796.5,358.8 L797.0,358.6 L797.6,358.4 L798.1,358.1 L798.7,357.8 L799.2,357.5 L799.7,357.2 L800.3,356.9 L800.8,356.7 L801.4,356.6 L801.9,356.6 L802.5,356.3 L803.0,356.0 L803.6,355.6 L804.2,355.2 L804.7,355.0 L805.3,354.9 L805.8,355.0 L806.4,354.8 L807.0,354.5 L807.5,354.2 L808.1,353.9 L808.6,353.8 L809.2,353.6 L809.8,353.2 L810.3,352.9 L810.9,352.9 L811.5,352.8 L812.0,352.6 L812.6,352.2 L813.2,351.9 L813.8,351.8 L814.3,351.7 L814.9,351.7 L815.5,351.6 L816.0,351.4 L816.6,351.1 L817.2,350.8 L817.8,350.8 L818.4,350.7 L818.9,350.6 L819.5,350.4 L820.1,350.0 L820.7,349.8 L821.2,349.6 L821.8,349.6 L822.4,349.5 L823.0,349.3 L823.6,349.3 L824.2,349.2 L824.7,349.0 L825.3,348.8 L825.9,348.6 L826.5,348.6 L827.1,348.7 L827.7,348.3 L828.3,348.1 L828.8,348.1 L829.4,348.0 L830.0,347.9 L830.6,347.8 L831.2,347.6 L831.8,347.5 L832.4,347.4 L833.0,347.3 L833.6,347.1 L834.1,346.9 L834.7,346.7 L835.3,346.6 L835.9,346.6 L836.5,346.5 L837.1,346.4 L837.7,346.3 L838.3,346.3 L838.9,346.2 L839.5,346.1 L840.1,345.9 L840.7,346.0 L841.2,346.0 L841.8,346.0 L842.4,345.6 L843.0,345.3 L843.6,345.4 L844.2,345.4 L844.8,345.3 L845.4,345.0 L846.0,344.8 L846.6,345.0 L847.2,345.1 L847.8,344.9 L848.4,344.8 L849.0,344.8 L849.6,344.7 L850.2,344.6 L850.8,344.7 L851.4,344.7 L852.0,344.7 L852.6,344.5 L853.2,344.4 L853.8,344.4 L854.4,344.3 L855.0,344.2 L855.5,344.2 L856.1,344.1 L856.7,344.0 L857.3,343.9 L857.9,343.9 L858.5,343.8 L859.1,343.7 L859.7,343.8 L860.3,343.8 L860.9,343.8 L861.5,343.7 L862.1,343.7 L862.7,343.7 L863.3,343.8 L863.9,343.9 L864.5,343.5 L865.1,343.1 L865.7,343.3 L866.3,343.3 L866.9,343.2 L867.5,343.1 L868.1,343.1 L868.7,343.0 L869.3,343.0 L869.9,343.1 L870.5,343.0 L871.1,342.9 L871.7,342.9 L872.3,342.8 L872.9,342.8 L873.5,342.8 L874.1,342.7 L874.7,342.5 L875.3,342.6 L875.9,342.8 L876.5,342.7 L877.1,342.6 L877.7,342.5 L878.3,342.5 L878.9,342.6 L879.5,342.5 L880.1,342.4 L880.7,342.2 L881.3,342.3 L881.9,342.5 L882.5,342.3 L883.1,342.1 L883.7,342.2 L884.3,342.3 L884.9,342.3 L885.5,342.4 L886.1,342.4 L886.7,342.4 L887.3,342.3 L887.9,342.2 L888.5,342.1 L889.1,342.0 L889.7,342.0 L890.3,342.0 L890.9,342.2 L891.5,342.2 L892.1,342.2 L892.7,342.1 L893.3,342.0 L893.9,341.8 L894.5,341.9 L895.1,342.0 L895.7,341.8 L896.3,341.8 L896.9,341.7 L897.5,341.7 L898.1,341.7 L898.7,341.8 L899.3,341.8 L899.9,341.7 L900.5,341.8 L901.1,341.8 L901.7,341.8 L902.3,341.8 L902.9,341.7 L903.5,341.4 L904.1,341.2 L904.7,341.3 L905.3,341.3 L905.9,341.5 L906.5,341.5 L907.1,341.5 L907.7,341.7 L908.3,341.7 L908.9,341.5 L909.5,341.4 L910.1,341.4 L910.7,341.5 L911.3,341.5 L911.9,341.5 L912.5,341.4 L913.1,341.3 L913.7,341.3 L914.3,341.3 L914.9,341.1 L915.5,341.1 L916.1,341.1 L916.7,341.3 L917.3,341.3 L917.9,341.1 L918.5,341.2 L919.1,341.3 L919.7,341.3 L920.3,341.3 L920.9,341.3 L921.5,341.3 L922.1,341.3 L922.7,341.2 L923.3,341.1 L923.9,340.8 L924.5,340.9 L925.1,340.9 L925.7,341.0 L926.3,341.0 L926.9,341.2 L927.5,341.0 L928.1,340.9 L928.7,340.9 L929.3,340.9 L929.9,341.0 L930.5,341.1 L931.1,341.2 L931.7,340.9 L932.3,340.8 L932.9,340.8 L933.5,340.9 L934.1,341.0 L934.7,340.8 L935.3,340.7 L935.9,340.9 L936.5,340.9 L937.1,340.9 L937.7,340.7 L938.3,340.7 L938.9,340.8 L939.5,340.8 L940.1,340.8 L940.7,340.9 L941.3,340.9 L941.9,340.9 L942.5,341.0 L943.1,341.1 L943.7,341.0 L944.3,340.9 L944.9,340.9 L945.5,340.8 L946.1,340.8 L946.7,340.8 L947.3,340.9 L947.9,341.0 L948.5,340.8 L949.1,340.6 L949.7,340.8 L950.3,340.9 L950.9,340.8 L951.5,340.8 L952.1,340.8 L952.7,340.9 L953.3,340.9 L953.9,340.9 L954.5,340.9 L955.1,340.9 L955.7,340.8 L956.3,340.8 L956.9,340.9 L957.5,340.8 L958.1,340.8 L958.7,340.8 L959.3,340.8 L959.9,340.8 L960.5,340.9 L961.1,340.9 L961.7,340.9 L962.3,340.8 L962.9,340.8 L963.5,340.7 L964.1,340.6 L964.7,340.7 L965.3,340.7 L965.9,340.6 L966.5,340.7 L967.1,340.9 L967.7,340.8 L968.3,340.8 L968.9,341.0 L969.5,341.1 L970.1,341.2 L970.7,340.9 L971.3,340.8 L971.9,341.0 L972.5,340.9 L973.1,340.9 L973.7,340.8 L974.3,340.7 L974.9,340.7 L975.5,340.8 L976.1,340.9 L976.7,341.0 L977.3,341.0 L977.9,340.9 L978.5,340.7 L979.1,340.6 L979.7,340.6 L980.3,340.7 L980.9,340.8 L981.5,340.9 L982.1,341.0 L982.7,340.9 L983.3,340.9 L983.9,340.9 L984.5,341.0 L985.1,341.0 L985.7,340.9 L986.3,340.8 L986.9,340.8 L987.5,340.8 L988.1,340.8 L988.7,340.7 L989.3,340.7 L989.9,340.9 L990.5,340.9 L991.1,340.9 L991.7,341.0 L992.3,340.9 L992.9,340.7 L993.5,340.7 L994.1,340.8 L994.7,340.9 L995.3,341.0 L995.9,340.9 L996.5,341.0 L997.1,341.1 L997.7,340.9 L998.3,340.8 L998.9,340.9 L999.5,340.8 L1000.1,340.8 L1000.7,340.9 L1001.3,340.9 L1001.9,340.8 L1002.5,340.9 L1003.1,341.0 L1003.7,341.0 L1004.3,341.0 L1004.9,341.0 L1005.5,340.8 L1006.1,340.6 L1006.7,340.9 L1007.3,341.0 L1007.9,341.0 L1008.5,340.9 L1009.1,340.7 L1009.7,340.8 L1010.3,340.8 L1010.9,340.9 L1011.5,340.9 L1012.1,341.0 L1012.7,340.9 L1013.3,340.8 L1013.9,340.7 L1014.5,340.8 L1015.1,340.9 L1015.7,340.9 L1016.3,341.0 L1016.9,341.2 L1017.5,341.0 L1018.1,340.7 L1018.7,341.1 L1019.3,341.2 L1019.9,341.2 L1020.5,341.1 L1021.1,341.0 L1021.7,341.1 L1022.3,341.1 L1022.9,340.9 L1023.5,341.0 L1024.1,341.0 L1024.7,340.9 L1025.3,340.8 L1025.9,340.9 L1026.5,340.8 L1027.1,340.7 L1027.7,340.7 L1028.3,340.7 L1028.9,340.8 L1029.5,340.8 L1030.1,340.8 L1030.7,340.9 L1031.3,341.0 L1031.9,341.0 L1032.5,341.0 L1033.1,340.8 L1033.7,340.9 L1034.3,340.9 L1034.9,340.9 L1035.5,340.7 L1036.1,340.6 L1036.7,340.8 L1037.3,340.9 L1037.9,340.8 L1038.5,340.8 L1039.1,340.8 L1039.7,340.7 L1040.3,340.6 L1040.9,340.5 L1041.5,340.6 L1042.1,340.8 L1042.7,340.8 L1043.3,340.9 L1043.9,341.0 L1044.5,341.0 L1045.1,340.9 L1045.7,341.0 L1046.3,340.9 L1046.9,340.8 L1047.5,340.9 L1048.1,340.9 L1048.7,340.8 L1049.3,340.7 L1049.9,340.8 L1050.5,340.8 L1051.1,340.9 L1051.7,341.0 L1052.3,341.0 L1052.9,340.8 L1053.5,340.6 L1054.1,340.5 L1054.7,340.7 L1055.3,340.8 L1055.9,340.6 L1056.5,340.6 L1057.1,340.6 L1057.7,340.6 L1058.3,340.5 L1058.9,340.5 L1059.5,340.6 L1060.1,340.8 L1060.7,340.7 L1061.3,340.6 L1061.9,340.5 L1062.5,340.5 L1063.1,340.5 L1063.7,340.5" fill="none" stroke="#0000ff" stroke-width="2.3" stroke-linejoin="round" stroke-linecap="round"/>
<path d="M148.0,335.9 L148.6,336.2 L149.2,336.4 L149.8,336.1 L150.4,335.9 L151.0,335.9 L151.6,335.9 L152.2,335.9 L152.8,335.8 L153.4,335.8 L154.0,335.7 L154.6,335.8 L155.2,335.8 L155.8,335.9 L156.4,335.9 L157.0,335.8 L157.6,335.9 L158.2,335.9 L158.8,335.8 L159.4,335.8 L160.0,335.8 L160.6,335.9 L161.2,335.9 L161.8,335.8 L162.4,335.7 L163.0,335.6 L163.6,335.6 L164.2,335.7 L164.8,335.7 L165.4,335.8 L166.0,335.9 L166.6,335.7 L167.2,335.6 L167.8,335.6 L168.4,335.6 L169.0,335.8 L169.6,335.6 L170.2,335.5 L170.8,335.5 L171.4,335.6 L172.0,335.7 L172.6,335.7 L173.2,335.6 L173.8,335.6 L174.4,335.6 L175.0,335.6 L175.6,335.3 L176.2,335.2 L176.8,335.5 L177.4,335.5 L178.0,335.3 L178.6,335.2 L179.2,335.3 L179.8,335.4 L180.4,335.5 L181.0,335.5 L181.6,335.4 L182.2,335.3 L182.8,335.3 L183.4,335.3 L184.0,335.4 L184.6,335.4 L185.2,335.4 L185.8,335.5 L186.4,335.5 L187.0,335.5 L187.6,335.4 L188.2,335.4 L188.8,335.5 L189.4,335.4 L190.0,335.3 L190.6,335.2 L191.2,335.2 L191.8,335.3 L192.4,335.4 L193.0,335.3 L193.6,335.3 L194.2,335.2 L194.8,335.1 L195.4,335.2 L196.0,335.3 L196.6,335.0 L197.2,334.9 L197.8,335.2 L198.4,335.3 L199.0,335.3 L199.6,335.1 L200.2,335.0 L200.8,335.1 L201.4,335.1 L202.0,335.0 L202.6,335.1 L203.2,335.2 L203.8,334.9 L204.4,334.9 L205.0,335.0 L205.6,335.1 L206.2,335.2 L206.8,335.2 L207.4,335.0 L208.0,334.7 L208.6,334.9 L209.2,335.0 L209.8,335.1 L210.4,335.0 L211.0,334.9 L211.6,335.1 L212.2,335.2 L212.8,334.9 L213.4,334.9 L214.0,335.0 L214.6,334.9 L215.2,334.9 L215.8,335.1 L216.4,335.1 L217.0,334.9 L217.6,334.9 L218.2,334.8 L218.8,334.7 L219.4,334.8 L220.0,335.1 L220.6,335.1 L221.2,335.0 L221.8,335.0 L222.4,335.0 L223.0,335.0 L223.6,334.9 L224.2,334.9 L224.8,334.8 L225.4,334.7 L226.0,334.7 L226.6,334.7 L227.2,334.7 L227.8,334.9 L228.4,334.8 L229.0,334.5 L229.6,334.6 L230.2,334.7 L230.8,334.7 L231.4,334.7 L232.0,334.7 L232.6,334.8 L233.2,334.7 L233.8,334.6 L234.4,334.5 L235.0,334.4 L235.6,334.5 L236.2,334.7 L236.8,334.8 L237.4,334.8 L238.0,334.7 L238.6,334.7 L239.2,334.6 L239.8,334.5 L240.4,334.5 L241.0,334.6 L241.6,334.5 L242.2,334.5 L242.8,334.6 L243.4,334.5 L244.0,334.4 L244.6,334.4 L245.2,334.5 L245.8,334.4 L246.4,334.5 L247.0,334.5 L247.6,334.5 L248.2,334.5 L248.8,334.7 L249.4,334.7 L250.0,334.6 L250.6,334.6 L251.2,334.5 L251.8,334.1 L252.4,334.1 L253.0,334.2 L253.6,334.2 L254.2,334.2 L254.8,334.3 L255.4,334.2 L256.0,333.9 L256.6,334.2 L257.2,334.4 L257.8,334.3 L258.4,334.2 L259.0,334.0 L259.6,334.0 L260.2,334.0 L260.8,334.0 L261.4,334.0 L262.0,334.1 L262.6,334.1 L263.2,334.2 L263.8,334.3 L264.4,334.2 L265.0,334.0 L265.6,334.0 L266.2,334.1 L266.8,334.0 L267.4,334.0 L268.0,334.2 L268.6,334.1 L269.2,334.0 L269.8,334.0 L270.4,333.9 L271.0,333.7 L271.6,333.7 L272.2,333.7 L272.8,333.7 L273.4,333.7 L274.0,333.9 L274.6,333.8 L275.2,333.7 L275.8,333.6 L276.4,333.6 L277.0,333.5 L277.6,333.6 L278.2,333.6 L278.8,333.5 L279.4,333.4 L280.0,333.4 L280.6,333.5 L281.2,333.6 L281.8,333.7 L282.4,333.6 L283.0,333.4 L283.6,333.3 L284.2,333.2 L284.8,333.2 L285.4,333.1 L286.0,333.1 L286.6,333.2 L287.2,333.3 L287.8,333.3 L288.4,333.3 L289.0,333.2 L289.6,333.2 L290.2,333.2 L290.8,333.1 L291.4,333.1 L292.0,333.0 L292.6,332.9 L293.2,332.8 L293.8,332.8 L294.4,332.9 L295.0,332.9 L295.6,332.8 L296.2,332.7 L296.8,332.7 L297.4,332.7 L298.0,332.6 L298.6,332.6 L299.2,332.7 L299.8,332.8 L300.4,332.7 L301.0,332.6 L301.6,332.5 L302.2,332.5 L302.8,332.6 L303.4,332.6 L304.0,332.6 L304.5,332.6 L305.1,332.6 L305.7,332.2 L306.3,332.2 L306.9,332.4 L307.5,332.3 L308.1,332.2 L308.7,332.2 L309.3,332.2 L309.9,332.3 L310.5,332.2 L311.1,332.2 L311.7,332.2 L312.3,332.1 L312.9,332.0 L313.5,332.1 L314.1,332.1 L314.7,331.9 L315.3,331.8 L315.9,331.8 L316.5,331.8 L317.1,331.8 L317.7,331.6 L318.3,331.7 L318.9,331.9 L319.5,331.8 L320.1,331.7 L320.7,331.8 L321.3,331.7 L321.9,331.4 L322.5,331.3 L323.1,331.3 L323.7,331.3 L324.3,331.3 L324.9,331.3 L325.5,331.2 L326.1,331.0 L326.7,331.1 L327.3,331.1 L327.9,331.0 L328.5,331.1 L329.1,331.1 L329.7,330.9 L330.3,330.8 L330.9,330.9 L331.5,330.7 L332.1,330.6 L332.7,330.5 L333.3,330.4 L333.9,330.4 L334.5,330.3 L335.1,330.3 L335.7,330.3 L336.3,330.4 L336.9,330.4 L337.5,330.3 L338.1,330.2 L338.7,330.2 L339.3,330.2 L339.9,330.3 L340.5,330.1 L341.1,330.0 L341.7,329.9 L342.3,329.9 L342.9,329.8 L343.5,329.6 L344.1,329.5 L344.7,329.6 L345.2,329.6 L345.8,329.3 L346.4,329.4 L347.0,329.5 L347.6,329.4 L348.2,329.3 L348.8,329.4 L349.4,329.3 L350.0,329.1 L350.6,329.0 L351.2,328.9 L351.8,329.0 L352.4,328.9 L353.0,328.8 L353.6,328.8 L354.2,328.7 L354.8,328.7 L355.4,328.6 L356.0,328.5 L356.6,328.5 L357.2,328.4 L357.8,328.3 L358.4,328.2 L359.0,328.2 L359.6,328.0 L360.2,327.9 L360.8,328.0 L361.4,327.9 L362.0,327.8 L362.6,327.9 L363.2,328.0 L363.8,327.9 L364.4,327.7 L364.9,327.3 L365.5,327.4 L366.1,327.5 L366.7,327.4 L367.3,327.3 L367.9,327.1 L368.5,327.2 L369.1,327.2 L369.7,327.0 L370.3,326.9 L370.9,326.7 L371.5,326.7 L372.1,326.7 L372.7,326.7 L373.3,326.6 L373.9,326.6 L374.5,326.4 L375.1,326.3 L375.7,326.3 L376.3,326.4 L376.9,326.3 L377.5,326.1 L378.1,325.9 L378.7,325.8 L379.2,325.8 L379.8,325.8 L380.4,325.7 L381.0,325.6 L381.6,325.7 L382.2,325.7 L382.8,325.5 L383.4,325.3 L384.0,325.1 L384.6,325.0 L385.2,324.9 L385.8,324.9 L386.4,325.0 L387.0,325.1 L387.6,324.8 L388.2,324.6 L388.7,324.5 L389.3,324.4 L389.9,324.4 L390.5,324.2 L391.1,324.1 L391.7,324.2 L392.3,324.1 L392.9,323.8 L393.5,323.7 L394.1,323.7 L394.7,323.5 L395.2,323.4 L395.8,323.3 L396.4,323.1 L397.0,322.9 L397.6,323.0 L398.2,323.0 L398.8,322.7 L399.4,322.6 L400.0,322.5 L400.5,322.3 L401.1,322.1 L401.7,322.0 L402.3,321.9 L402.9,321.9 L403.5,321.8 L404.1,321.7 L404.6,321.6 L405.2,321.4 L405.8,321.3 L406.4,321.2 L407.0,321.0 L407.6,320.8 L408.2,320.6 L408.7,320.5 L409.3,320.4 L409.9,320.2 L410.5,320.0 L411.1,319.8 L411.6,319.8 L412.2,319.7 L412.8,319.5 L413.4,319.3 L413.9,319.1 L414.5,318.9 L415.1,318.7 L415.7,318.6 L416.2,318.5 L416.8,318.4 L417.4,318.2 L418.0,317.8 L418.5,317.6 L419.1,317.5 L419.7,317.3 L420.2,317.1 L420.8,317.0 L421.4,316.7 L422.0,316.3 L422.5,316.2 L423.1,316.2 L423.7,316.0 L424.2,315.8 L424.8,315.4 L425.3,315.3 L425.9,315.3 L426.5,315.0 L427.0,314.7 L427.6,314.4 L428.1,314.1 L428.7,314.0 L429.3,313.7 L429.8,313.4 L430.4,313.1 L430.9,313.0 L431.5,312.9 L432.0,312.9 L432.6,312.4 L433.1,312.0 L433.7,312.0 L434.2,311.8 L434.8,311.4 L435.3,311.2 L435.8,311.0 L436.4,310.7 L436.9,310.4 L437.5,310.0 L438.0,309.5 L438.6,309.4 L439.1,309.2 L439.6,309.0 L440.2,308.8 L440.7,308.4 L441.2,308.0 L441.8,307.8 L442.3,307.5 L442.8,307.4 L443.4,307.1 L443.9,306.7 L444.4,306.4 L444.9,306.0 L445.5,305.8 L446.0,305.5 L446.5,305.4 L447.0,305.2 L447.5,304.8 L448.1,304.4 L448.6,304.2 L449.1,304.0 L449.6,303.7 L450.1,303.4 L450.6,303.0 L451.1,302.6 L451.6,302.2 L452.1,301.8 L452.6,301.4 L453.2,301.1 L453.7,300.9 L454.2,300.6 L454.7,300.4 L455.2,300.1 L455.6,299.7 L456.1,299.3 L456.6,299.0 L457.1,298.7 L457.6,298.2 L458.1,297.8 L458.6,297.6 L459.1,297.2 L459.6,296.8 L460.0,296.4 L460.5,296.1 L461.0,295.7 L461.5,295.3 L462.0,294.9 L462.4,294.5 L462.9,294.1 L463.4,293.8 L463.8,293.5 L464.3,293.1 L464.8,292.7 L465.2,292.3 L465.7,291.9 L466.2,291.5 L466.6,291.3 L467.1,291.0 L467.5,290.5 L468.0,290.1 L468.4,289.9 L468.9,289.7 L469.3,289.2 L469.8,288.7 L470.2,288.2 L470.7,287.7 L471.1,287.2 L471.5,286.9 L472.0,286.6 L472.4,286.1 L472.8,285.7 L473.3,285.2 L473.7,284.7 L474.1,284.3 L474.5,284.0 L475.0,283.6 L475.4,283.1 L475.8,282.6 L476.2,282.0 L476.6,281.4 L477.0,280.9 L477.4,280.7 L477.8,280.5 L478.2,280.1 L478.6,279.5 L479.0,279.0 L479.4,278.7 L479.8,278.4 L480.2,277.9 L480.6,277.3 L481.0,276.7 L481.4,276.2 L481.8,275.7 L482.1,275.3 L482.5,275.0 L482.9,274.7 L483.3,274.2 L483.6,273.5 L484.0,272.9 L484.4,272.5 L484.7,272.1 L485.1,271.7 L485.5,271.3 L485.8,270.9 L486.2,270.4 L486.5,269.8 L486.9,269.3 L487.2,268.8 L487.6,268.2 L487.9,267.7 L488.2,267.2 L488.6,266.8 L488.9,266.3 L489.2,265.8 L489.5,265.3 L489.9,264.9 L490.2,264.3 L490.5,263.7 L490.8,263.1 L491.1,262.6 L491.4,262.2 L491.8,261.7 L492.1,261.3 L492.4,260.7 L492.7,260.2 L493.0,259.7 L493.2,259.2 L493.5,258.8 L493.8,258.3 L494.1,257.8 L494.4,257.2 L494.7,256.5 L494.9,255.9 L495.2,255.3 L495.5,254.7 L495.7,254.2 L496.0,253.6 L496.3,253.1 L496.5,252.7 L496.8,252.2 L497.0,251.7 L497.3,251.1 L497.5,250.5 L497.8,249.9 L498.0,249.3 L498.2,248.8 L498.5,248.3 L498.7,247.7 L498.9,247.2 L499.1,246.6 L499.4,246.1 L499.6,245.5 L499.8,245.0 L500.0,244.4 L500.2,243.9 L500.4,243.3 L500.6,242.8 L500.8,242.3 L501.0,241.7 L501.2,241.1 L501.4,240.5 L501.6,239.9 L501.8,239.2 L502.0,238.6 L502.2,238.1 L502.4,237.5 L502.6,237.0 L502.8,236.4 L503.0,235.9 L503.2,235.2 L503.4,234.6 L503.6,234.0 L503.7,233.3 L503.9,232.7 L504.1,232.1 L504.3,231.6 L504.5,231.1 L504.7,230.5 L504.9,230.0 L505.1,229.5 L505.3,229.0 L505.4,228.5 L505.6,228.0 L505.8,227.5 L506.0,227.0 L506.2,226.4 L506.4,225.7 L506.6,225.1 L506.8,224.5 L507.0,223.8 L507.2,223.3 L507.4,222.7 L507.6,222.1 L507.8,221.6 L508.0,221.0 L508.3,220.4 L508.5,219.9 L508.7,219.3 L508.9,218.7 L509.1,218.2 L509.3,217.7 L509.5,217.2 L509.8,216.7 L510.0,216.2 L510.2,215.6 L510.4,215.0 L510.6,214.4 L510.8,213.9 L511.1,213.3 L511.3,212.7 L511.5,212.1 L511.7,211.5 L511.9,210.9 L512.2,210.4 L512.4,209.9 L512.6,209.4 L512.8,208.9 L513.0,208.4 L513.3,207.8 L513.5,207.2 L513.7,206.6 L513.9,206.1 L514.1,205.5 L514.3,205.0 L514.6,204.4 L514.8,203.9 L515.0,203.3 L515.2,202.7 L515.4,202.1 L515.6,201.5 L515.8,200.9 L516.1,200.3 L516.3,199.8 L516.5,199.4 L516.7,198.9 L516.9,198.4 L517.1,197.8 L517.3,197.2 L517.5,196.6 L517.7,196.0 L517.9,195.4 L518.1,194.8 L518.3,194.2 L518.5,193.7 L518.7,193.1 L518.9,192.5 L519.1,191.9 L519.3,191.3 L519.4,190.8 L519.6,190.2 L519.8,189.6 L520.0,189.0 L520.2,188.5 L520.4,187.9 L520.6,187.3 L520.8,186.8 L520.9,186.2 L521.1,185.7 L521.3,185.1 L521.5,184.6 L521.7,184.0 L521.9,183.5 L522.0,182.9 L522.2,182.3 L522.4,181.7 L522.6,181.1 L522.7,180.5 L522.9,179.9 L523.1,179.3 L523.3,178.8 L523.4,178.3 L523.6,177.7 L523.8,177.2 L524.0,176.6 L524.1,176.1 L524.3,175.5 L524.5,174.9 L524.6,174.3 L524.8,173.7 L525.0,173.1 L525.1,172.6 L525.3,172.0 L525.4,171.4 L525.6,170.9 L525.8,170.3 L525.9,169.8 L526.1,169.2 L526.3,168.6 L526.4,168.0 L526.6,167.4 L526.7,166.8 L526.9,166.2 L527.0,165.6 L527.2,165.0 L527.3,164.4 L527.5,163.8 L527.7,163.2 L527.8,162.6 L528.0,162.0 L528.1,161.4 L528.3,160.8 L528.4,160.2 L528.6,159.5 L528.7,158.9 L528.9,158.3 L529.0,157.7 L529.1,157.1 L529.3,156.6 L529.4,156.1 L529.6,155.5 L529.7,155.0 L529.9,154.5 L530.0,153.9 L530.2,153.4 L530.3,152.8 L530.4,152.2 L530.6,151.6 L530.7,151.1 L530.9,150.5 L531.0,149.9 L531.1,149.3 L531.3,148.7 L531.4,148.1 L531.5,147.5 L531.7,146.9 L531.8,146.3 L532.0,145.7 L532.1,145.2 L532.2,144.6 L532.4,144.0 L532.5,143.4 L532.7,142.9 L532.8,142.3 L533.0,141.7 L533.1,141.1 L533.3,140.5 L533.4,139.9 L533.6,139.3 L533.7,138.7 L533.9,138.1 L534.0,137.5 L534.2,136.9 L534.4,136.4 L534.6,135.8 L534.7,135.2 L534.9,134.7 L535.1,134.1 L535.3,133.5 L535.5,132.9 L535.7,132.3 L535.9,131.7 L536.1,131.2 L536.3,130.7 L536.5,130.2 L536.7,129.7 L536.9,129.2 L537.1,128.7 L537.4,128.1 L537.6,127.5 L537.8,126.9 L538.1,126.3 L538.3,125.7 L538.6,125.2 L538.8,124.6 L539.1,124.0 L539.4,123.5 L539.6,122.9 L539.9,122.3 L540.2,121.8 L540.5,121.3 L540.8,120.9 L541.1,120.4 L541.4,120.0 L541.8,119.6 L542.1,119.1 L542.5,118.6 L542.9,118.1 L543.3,117.6 L543.7,117.1 L544.1,116.6 L544.6,116.4 L545.1,116.2 L545.6,115.9 L546.1,115.6 L546.7,115.4 L547.3,115.2 L547.9,115.2 L548.5,115.2 L549.1,115.3 L549.7,115.3 L550.2,115.5 L550.8,115.7 L551.3,115.9 L551.9,116.1 L552.4,116.5 L552.8,117.0 L553.3,117.4 L553.7,117.8 L554.1,118.2 L554.4,118.8 L554.8,119.4 L555.1,119.9 L555.4,120.2 L555.7,120.5 L556.0,120.9 L556.3,121.5 L556.6,122.2 L556.9,122.8 L557.2,123.4 L557.5,123.9 L557.7,124.5 L558.0,125.0 L558.3,125.5 L558.6,125.9 L559.0,126.4 L559.3,126.9 L559.6,127.4 L560.0,128.0 L560.3,128.5 L560.7,129.0 L561.0,129.5 L561.4,129.9 L561.8,130.4 L562.1,130.8 L562.5,131.3 L562.9,131.7 L563.2,132.1 L563.6,132.6 L564.0,133.1 L564.3,133.7 L564.7,134.2 L565.1,134.7 L565.4,135.2 L565.7,135.7 L566.1,136.2 L566.4,136.7 L566.7,137.1 L567.0,137.6 L567.3,138.1 L567.6,138.7 L567.9,139.2 L568.2,139.7 L568.4,140.3 L568.7,140.8 L569.0,141.3 L569.2,141.9 L569.5,142.5 L569.7,143.1 L569.9,143.7 L570.1,144.2 L570.4,144.7 L570.6,145.2 L570.8,145.7 L571.0,146.2 L571.2,146.7 L571.4,147.3 L571.6,147.8 L571.8,148.4 L571.9,149.0 L572.1,149.6 L572.3,150.2 L572.5,150.8 L572.6,151.4 L572.8,152.0 L573.0,152.6 L573.1,153.2 L573.3,153.7 L573.5,154.3 L573.6,154.8 L573.8,155.4 L573.9,155.9 L574.1,156.5 L574.2,157.1 L574.4,157.7 L574.5,158.3 L574.7,158.9 L574.8,159.5 L575.0,160.1 L575.1,160.7 L575.3,161.3 L575.4,161.8 L575.6,162.4 L575.8,163.0 L575.9,163.6 L576.1,164.2 L576.2,164.8 L576.4,165.4 L576.5,166.0 L576.7,166.6 L576.9,167.2 L577.0,167.7 L577.2,168.3 L577.4,168.8 L577.6,169.3 L577.7,169.9 L577.9,170.4 L578.1,171.0 L578.3,171.6 L578.5,172.2 L578.7,172.9 L578.9,173.5 L579.1,174.1 L579.3,174.5 L579.5,175.0 L579.7,175.5 L579.9,176.0 L580.1,176.5 L580.3,177.2 L580.5,177.8 L580.8,178.4 L581.0,179.1 L581.2,179.6 L581.4,180.0 L581.7,180.5 L581.9,181.0 L582.2,181.5 L582.4,182.1 L582.7,182.6 L582.9,183.2 L583.2,183.8 L583.5,184.4 L583.7,185.0 L584.0,185.6 L584.3,186.1 L584.6,186.6 L584.9,187.1 L585.2,187.6 L585.5,188.1 L585.8,188.6 L586.1,189.1 L586.4,189.6 L586.7,190.1 L587.0,190.7 L587.4,191.2 L587.7,191.7 L588.0,192.3 L588.4,192.8 L588.7,193.2 L589.1,193.7 L589.4,194.2 L589.8,194.6 L590.1,195.1 L590.5,195.7 L590.9,196.2 L591.3,196.6 L591.7,197.0 L592.0,197.3 L592.4,197.8 L592.8,198.3 L593.2,198.7 L593.6,199.2 L594.1,199.6 L594.5,200.1 L594.9,200.7 L595.3,201.1 L595.8,201.5 L596.2,201.9 L596.6,202.3 L597.1,202.7 L597.5,203.0 L598.0,203.3 L598.5,203.7 L598.9,204.1 L599.4,204.5 L599.9,205.0 L600.4,205.3 L600.9,205.5 L601.3,205.9 L601.8,206.3 L602.3,206.7 L602.8,207.0 L603.4,207.2 L603.9,207.4 L604.4,207.8 L604.9,208.1 L605.4,208.4 L606.0,208.7 L606.5,209.1 L607.0,209.5 L607.6,209.8 L608.1,210.1 L608.7,210.1 L609.2,210.2 L609.8,210.4 L610.3,210.5 L610.9,210.6 L611.5,210.9 L612.0,211.3 L612.6,211.5 L613.2,211.6 L613.8,211.7 L614.3,211.9 L614.9,212.2 L615.5,212.2 L616.1,212.2 L616.7,212.4 L617.2,212.6 L617.8,212.8 L618.4,212.9 L619.0,212.9 L619.6,213.2 L620.1,213.5 L620.7,213.7 L621.3,213.8 L621.9,213.8 L622.4,214.0 L623.0,214.2 L623.5,214.7 L624.0,215.1 L624.6,215.3 L625.1,215.6 L625.6,215.8 L626.1,216.1 L626.6,216.5 L627.0,216.9 L627.5,217.3 L628.0,217.7 L628.4,218.1 L628.9,218.5 L629.3,219.0 L629.7,219.4 L630.2,219.9 L630.6,220.3 L631.0,220.7 L631.4,221.2 L631.8,221.8 L632.2,222.3 L632.6,222.7 L632.9,223.1 L633.3,223.6 L633.7,224.0 L634.0,224.4 L634.4,224.9 L634.8,225.4 L635.1,226.0 L635.5,226.5 L635.8,227.0 L636.1,227.5 L636.5,227.9 L636.8,228.4 L637.1,228.9 L637.4,229.3 L637.7,229.7 L638.1,230.2 L638.4,230.8 L638.7,231.4 L638.9,232.0 L639.2,232.5 L639.5,233.0 L639.8,233.5 L640.1,234.0 L640.3,234.6 L640.6,235.2 L640.9,235.8 L641.1,236.4 L641.4,236.8 L641.6,237.3 L641.9,237.8 L642.1,238.4 L642.4,238.9 L642.6,239.5 L642.8,240.1 L643.1,240.6 L643.3,241.2 L643.5,241.7 L643.7,242.3 L644.0,242.8 L644.2,243.4 L644.4,244.0 L644.6,244.6 L644.8,245.2 L645.0,245.8 L645.2,246.4 L645.4,246.9 L645.6,247.4 L645.8,247.9 L646.0,248.5 L646.2,249.0 L646.4,249.6 L646.5,250.1 L646.7,250.7 L646.9,251.2 L647.1,251.8 L647.3,252.4 L647.5,253.0 L647.6,253.6 L647.8,254.2 L648.0,254.8 L648.2,255.3 L648.3,255.9 L648.5,256.4 L648.7,257.0 L648.8,257.5 L649.0,258.1 L649.2,258.7 L649.3,259.3 L649.5,259.9 L649.6,260.5 L649.8,261.1 L650.0,261.7 L650.1,262.2 L650.3,262.8 L650.4,263.4 L650.6,264.0 L650.7,264.5 L650.9,265.1 L651.0,265.7 L651.2,266.3 L651.3,266.9 L651.5,267.5 L651.6,268.0 L651.8,268.6 L651.9,269.2 L652.1,269.8 L652.2,270.4 L652.3,271.1 L652.5,271.7 L652.6,272.3 L652.8,272.9 L652.9,273.5 L653.0,274.1 L653.2,274.7 L653.3,275.2 L653.4,275.7 L653.6,276.3 L653.7,276.8 L653.8,277.4 L654.0,277.9 L654.1,278.5 L654.2,279.1 L654.4,279.7 L654.5,280.3 L654.6,280.9 L654.7,281.4 L654.9,282.0 L655.0,282.6 L655.1,283.2 L655.3,283.8 L655.4,284.4 L655.5,285.0 L655.6,285.6 L655.7,286.1 L655.9,286.7 L656.0,287.3 L656.1,287.9 L656.2,288.5 L656.4,289.1 L656.5,289.7 L656.6,290.3 L656.7,290.9 L656.8,291.5 L657.0,292.1 L657.1,292.7 L657.2,293.3 L657.3,293.8 L657.4,294.4 L657.5,294.9 L657.7,295.5 L657.8,296.0 L657.9,296.6 L658.0,297.2 L658.1,297.8 L658.2,298.3 L658.3,298.9 L658.5,299.5 L658.6,300.1 L658.7,300.7 L658.8,301.3 L658.9,301.9 L659.0,302.5 L659.1,303.1 L659.2,303.7 L659.4,304.3 L659.5,304.9 L659.6,305.5 L659.7,306.1 L659.8,306.7 L659.9,307.3 L660.0,307.9 L660.1,308.5 L660.2,309.1 L660.3,309.7 L660.4,310.3 L660.5,310.9 L660.6,311.5 L660.7,312.1 L660.9,312.7 L661.0,313.3 L661.1,313.9 L661.2,314.5 L661.3,315.1 L661.4,315.7 L661.5,316.3 L661.6,316.8 L661.7,317.4 L661.8,318.0 L661.9,318.6 L662.0,319.2 L662.1,319.7 L662.2,320.3 L662.3,320.9 L662.4,321.5 L662.5,322.1 L662.6,322.7 L662.7,323.3 L662.8,323.8 L662.9,324.4 L663.0,325.0 L663.1,325.6 L663.2,326.2 L663.3,326.8 L663.4,327.4 L663.5,327.9 L663.6,328.5 L663.7,329.1 L663.7,329.7 L663.8,330.3 L663.9,330.9 L664.0,331.5 L664.1,332.1 L664.2,332.7 L664.3,333.3 L664.4,333.9 L664.5,334.5 L664.6,335.2 L664.7,335.8 L664.8,336.4 L664.9,337.0 L665.0,337.6 L665.0,338.2 L665.1,338.8 L665.2,339.4 L665.3,340.0 L665.4,340.6 L665.5,341.2 L665.6,341.8 L665.7,342.4 L665.8,343.1 L665.8,343.7 L665.9,344.3 L666.0,344.9 L666.1,345.4 L666.2,346.0 L666.3,346.6 L666.4,347.2 L666.5,347.8 L666.5,348.3 L666.6,348.9 L666.7,349.5 L666.8,350.1 L666.9,350.7 L667.0,351.2 L667.1,351.8 L667.1,352.4 L667.2,353.0 L667.3,353.6 L667.4,354.2 L667.5,354.8 L667.6,355.4 L667.6,356.0 L667.7,356.6 L667.8,357.2 L667.9,357.7 L668.0,358.3 L668.0,358.9 L668.1,359.5 L668.2,360.1 L668.3,360.7 L668.4,361.3 L668.5,361.9 L668.5,362.5 L668.6,363.1 L668.7,363.7 L668.8,364.3 L668.8,364.9 L668.9,365.5 L669.0,366.1 L669.1,366.7 L669.2,367.3 L669.2,367.8 L669.3,368.4 L669.4,369.0 L669.5,369.6 L669.6,370.2 L669.6,370.7 L669.7,371.3 L669.8,371.9 L669.9,372.5 L669.9,373.1 L670.0,373.6 L670.1,374.2 L670.2,374.8 L670.2,375.4 L670.3,376.0 L670.4,376.7 L670.5,377.3 L670.5,377.9 L670.6,378.5 L670.7,379.1 L670.8,379.7 L670.8,380.3 L670.9,380.9 L671.0,381.5 L671.1,382.1 L671.1,382.7 L671.2,383.3 L671.3,383.9 L671.4,384.5 L671.4,385.0 L671.5,385.6 L671.6,386.2 L671.6,386.8 L671.7,387.4 L671.8,388.0 L671.9,388.6 L671.9,389.2 L672.0,389.8 L672.1,390.4 L672.1,391.0 L672.2,391.6 L672.3,392.2 L672.4,392.8 L672.4,393.4 L672.5,394.0 L672.6,394.6 L672.6,395.2 L672.7,395.8 L672.8,396.4 L672.8,397.0 L672.9,397.6 L673.0,398.2 L673.1,398.8 L673.1,399.4 L673.2,400.0 L673.3,400.6 L673.3,401.2 L673.4,401.8 L673.5,402.4 L673.5,403.0 L673.6,403.6 L673.7,404.2 L673.7,404.8 L673.8,405.4 L673.9,405.9 L674.0,406.5 L674.0,407.1 L674.1,407.7 L674.2,408.3 L674.2,408.9 L674.3,409.5 L674.4,410.1 L674.4,410.6 L674.5,411.2 L674.6,411.8 L674.6,412.4 L674.7,413.0 L674.8,413.6 L674.8,414.1 L674.9,414.7 L675.0,415.3 L675.0,415.9 L675.1,416.5 L675.2,417.1 L675.2,417.8 L675.3,418.4 L675.4,419.0 L675.4,419.6 L675.5,420.2 L675.6,420.9 L675.6,421.5 L675.7,422.1 L675.8,422.7 L675.8,423.3 L675.9,424.0 L676.0,424.6 L676.0,425.2 L676.1,425.8 L676.2,426.4 L676.2,427.0 L676.3,427.6 L676.3,428.2 L676.4,428.8 L676.5,429.4 L676.5,430.0 L676.6,430.6 L676.7,431.2 L676.7,431.8 L676.8,432.4 L676.9,433.0 L676.9,433.6 L677.0,434.2 L677.1,434.8 L677.1,435.4 L677.2,436.0 L677.3,436.5 L677.3,437.1 L677.4,437.7 L677.5,438.3 L677.5,438.8 L677.6,439.4 L677.7,440.0 L677.7,440.6 L677.8,441.2 L677.9,441.7 L677.9,442.3 L678.0,442.9 L678.0,443.5 L678.1,444.1 L678.2,444.7 L678.2,445.3 L678.3,445.9 L678.4,446.5 L678.4,447.1 L678.5,447.7 L678.6,448.3 L678.6,448.9 L678.7,449.5 L678.8,450.1 L678.8,450.7 L678.9,451.3 L679.0,451.9 L679.0,452.5 L679.1,453.1 L679.2,453.7 L679.2,454.3 L679.3,454.9 L679.4,455.5 L679.4,456.1 L679.5,456.7 L679.6,457.3 L679.6,457.9 L679.7,458.5 L679.8,459.1 L679.8,459.7 L679.9,460.3 L679.9,460.9 L680.0,461.4 L680.1,462.1 L680.1,462.7 L680.2,463.3 L680.3,463.9 L680.3,464.5 L680.4,465.1 L680.5,465.7 L680.5,466.3 L680.6,466.9 L680.7,467.5 L680.7,468.1 L680.8,468.7 L680.9,469.3 L680.9,469.9 L681.0,470.5 L681.1,471.0 L681.2,471.6 L681.2,472.2 L681.3,472.8 L681.4,473.3 L681.4,473.9 L681.5,474.5 L681.6,475.0 L681.6,475.6 L681.7,476.2 L681.8,476.8 L681.8,477.3 L681.9,477.9 L682.0,478.5 L682.0,479.1 L682.1,479.7 L682.2,480.3 L682.2,481.0 L682.3,481.6 L682.4,482.2 L682.4,482.9 L682.5,483.5 L682.6,484.1 L682.7,484.7 L682.7,485.4 L682.8,486.0 L682.9,486.6 L682.9,487.3 L683.0,487.9 L683.1,488.5 L683.1,489.0 L683.2,489.6 L683.3,490.2 L683.4,490.7 L683.4,491.3 L683.5,491.9 L683.6,492.5 L683.6,493.0 L683.7,493.6 L683.8,494.2 L683.9,494.8 L683.9,495.3 L684.0,495.9 L684.1,496.5 L684.1,497.1 L684.2,497.8 L684.3,498.4 L684.4,499.0 L684.4,499.6 L684.5,500.2 L684.6,500.8 L684.7,501.4 L684.7,502.1 L684.8,502.7 L684.9,503.3 L684.9,503.9 L685.0,504.5 L685.1,505.1 L685.2,505.7 L685.2,506.2 L685.3,506.8 L685.4,507.4 L685.5,508.0 L685.5,508.6 L685.6,509.2 L685.7,509.7 L685.8,510.3 L685.8,510.9 L685.9,511.5 L686.0,512.1 L686.1,512.7 L686.1,513.2 L686.2,513.8 L686.3,514.4 L686.4,515.0 L686.5,515.6 L686.5,516.2 L686.6,516.8 L686.7,517.4 L686.8,518.0 L686.8,518.6 L686.9,519.1 L687.0,519.7 L687.1,520.3 L687.2,520.9 L687.2,521.5 L687.3,522.1 L687.4,522.7 L687.5,523.3 L687.6,523.9 L687.6,524.5 L687.7,525.1 L687.8,525.7 L687.9,526.3 L688.0,526.9 L688.0,527.5 L688.1,528.1 L688.2,528.7 L688.3,529.3 L688.4,529.9 L688.4,530.5 L688.5,531.1 L688.6,531.8 L688.7,532.4 L688.8,533.0 L688.9,533.6 L688.9,534.2 L689.0,534.8 L689.1,535.4 L689.2,535.9 L689.3,536.5 L689.4,537.1 L689.4,537.6 L689.5,538.2 L689.6,538.8 L689.7,539.4 L689.8,539.9 L689.9,540.5 L690.0,541.1 L690.0,541.7 L690.1,542.3 L690.2,542.9 L690.3,543.5 L690.4,544.1 L690.5,544.7 L690.6,545.3 L690.7,545.9 L690.7,546.5 L690.8,547.1 L690.9,547.7 L691.0,548.3 L691.1,548.8 L691.2,549.4 L691.3,550.0 L691.4,550.6 L691.5,551.2 L691.5,551.8 L691.6,552.4 L691.7,553.0 L691.8,553.6 L691.9,554.2 L692.0,554.8 L692.1,555.3 L692.2,555.9 L692.3,556.5 L692.4,557.1 L692.5,557.6 L692.6,558.2 L692.7,558.8 L692.7,559.4 L692.8,559.9 L692.9,560.5 L693.0,561.1 L693.1,561.7 L693.2,562.4 L693.3,563.0 L693.4,563.7 L693.5,564.3 L693.6,564.9 L693.7,565.6 L693.8,566.2 L693.9,566.8 L694.0,567.5 L694.1,568.1 L694.2,568.6 L694.3,569.2 L694.4,569.8 L694.5,570.4 L694.6,571.0 L694.7,571.5 L694.8,572.1 L694.9,572.7 L695.0,573.3 L695.1,573.9 L695.2,574.4 L695.3,575.0 L695.4,575.6 L695.5,576.2 L695.6,576.8 L695.7,577.4 L695.8,577.9 L695.9,578.5 L696.0,579.1 L696.1,579.7 L696.3,580.3 L696.4,580.9 L696.5,581.5 L696.6,582.2 L696.7,582.8 L696.8,583.4 L696.9,584.0 L697.0,584.6 L697.1,585.1 L697.2,585.7 L697.4,586.2 L697.5,586.8 L697.6,587.3 L697.7,587.9 L697.8,588.4 L697.9,589.0 L698.1,589.6 L698.2,590.2 L698.3,590.8 L698.4,591.4 L698.5,592.0 L698.6,592.6 L698.8,593.2 L698.9,593.8 L699.0,594.4 L699.1,595.0 L699.3,595.6 L699.4,596.3 L699.5,596.9 L699.6,597.5 L699.8,598.1 L699.9,598.7 L700.0,599.4 L700.1,599.9 L700.3,600.5 L700.4,601.1 L700.5,601.7 L700.7,602.2 L700.8,602.8 L700.9,603.4 L701.0,603.9 L701.2,604.4 L701.3,605.0 L701.4,605.5 L701.6,606.0 L701.7,606.5 L701.9,607.0 L702.0,607.6 L702.1,608.1 L702.3,608.7 L702.4,609.2 L702.6,609.8 L702.7,610.4 L702.8,610.9 L703.0,611.5 L703.1,612.1 L703.3,612.7 L703.4,613.4 L703.6,614.0 L703.7,614.6 L703.9,615.3 L704.0,615.9 L704.2,616.5 L704.3,617.1 L704.5,617.8 L704.7,618.4 L704.8,619.0 L705.0,619.7 L705.2,620.2 L705.3,620.7 L705.5,621.3 L705.7,621.8 L705.8,622.3 L706.0,622.9 L706.2,623.5 L706.4,624.0 L706.6,624.6 L706.8,625.2 L707.0,625.8 L707.1,626.4 L707.3,627.0 L707.5,627.5 L707.8,628.1 L708.0,628.7 L708.2,629.2 L708.4,629.8 L708.6,630.3 L708.8,630.8 L709.1,631.3 L709.3,631.9 L709.5,632.5 L709.8,633.1 L710.0,633.7 L710.3,634.2 L710.5,634.8 L710.8,635.4 L711.0,635.9 L711.3,636.4 L711.6,637.0 L711.8,637.5 L712.1,638.0 L712.4,638.5 L712.7,639.1 L713.0,639.6 L713.3,640.1 L713.6,640.5 L713.9,641.0 L714.3,641.5 L714.7,642.0 L715.1,642.5 L715.6,642.7 L716.2,642.9 L716.8,643.0 L717.4,642.9 L717.9,642.7 L718.4,642.2 L718.9,641.6 L719.3,641.1 L719.8,640.6 L720.2,640.2 L720.6,639.8 L721.0,639.5 L721.4,639.1 L721.8,638.7 L722.1,638.2 L722.5,637.8 L722.9,637.4 L723.2,636.9 L723.5,636.4 L723.9,635.9 L724.2,635.3 L724.5,634.7 L724.8,634.1 L725.1,633.5 L725.4,633.0 L725.6,632.5 L725.9,631.9 L726.1,631.4 L726.4,631.0 L726.6,630.5 L726.9,630.0 L727.1,629.5 L727.3,628.8 L727.5,628.2 L727.7,627.6 L727.9,626.9 L728.1,626.4 L728.3,625.8 L728.5,625.3 L728.7,624.8 L728.8,624.3 L729.0,623.8 L729.2,623.2 L729.3,622.6 L729.5,621.9 L729.6,621.3 L729.8,620.7 L729.9,620.1 L730.0,619.5 L730.2,619.0 L730.3,618.4 L730.4,617.8 L730.6,617.3 L730.7,616.7 L730.8,616.1 L730.9,615.5 L731.1,615.0 L731.2,614.4 L731.3,613.8 L731.4,613.2 L731.5,612.6 L731.7,612.0 L731.8,611.4 L731.9,610.8 L732.0,610.3 L732.1,609.7 L732.3,609.1 L732.4,608.5 L732.5,607.9 L732.6,607.3 L732.8,606.7 L732.9,606.2 L733.0,605.6 L733.1,605.0 L733.3,604.4 L733.4,603.8 L733.5,603.2 L733.7,602.7 L733.8,602.1 L733.9,601.5 L734.1,600.9 L734.2,600.3 L734.3,599.6 L734.5,599.0 L734.6,598.4 L734.7,597.8 L734.9,597.2 L735.0,596.5 L735.2,596.0 L735.3,595.4 L735.4,594.9 L735.6,594.3 L735.7,593.8 L735.9,593.2 L736.0,592.6 L736.1,592.1 L736.3,591.5 L736.4,590.9 L736.6,590.3 L736.7,589.7 L736.9,589.1 L737.0,588.5 L737.1,587.9 L737.3,587.4 L737.4,586.8 L737.6,586.2 L737.7,585.6 L737.9,585.1 L738.0,584.5 L738.2,583.9 L738.3,583.4 L738.5,582.8 L738.6,582.3 L738.8,581.7 L738.9,581.1 L739.0,580.5 L739.2,579.9 L739.3,579.3 L739.5,578.7 L739.6,578.1 L739.8,577.5 L739.9,576.9 L740.1,576.3 L740.2,575.7 L740.4,575.1 L740.5,574.5 L740.7,573.9 L740.8,573.3 L740.9,572.7 L741.1,572.1 L741.2,571.5 L741.4,571.0 L741.5,570.4 L741.7,569.8 L741.8,569.2 L741.9,568.6 L742.1,568.0 L742.2,567.5 L742.4,566.9 L742.5,566.3 L742.7,565.7 L742.8,565.2 L742.9,564.6 L743.1,564.0 L743.2,563.5 L743.3,562.9 L743.5,562.3 L743.6,561.8 L743.8,561.2 L743.9,560.7 L744.0,560.1 L744.2,559.5 L744.3,558.8 L744.4,558.2 L744.6,557.6 L744.7,557.0 L744.8,556.4 L744.9,555.8 L745.1,555.2 L745.2,554.6 L745.3,554.1 L745.5,553.5 L745.6,553.0 L745.7,552.4 L745.8,551.9 L746.0,551.4 L746.1,550.8 L746.2,550.2 L746.3,549.6 L746.5,549.0 L746.6,548.4 L746.7,547.7 L746.9,547.1 L747.0,546.5 L747.1,545.9 L747.2,545.3 L747.4,544.8 L747.5,544.2 L747.6,543.6 L747.7,543.0 L747.9,542.4 L748.0,541.8 L748.1,541.2 L748.3,540.6 L748.4,539.9 L748.5,539.3 L748.6,538.7 L748.8,538.1 L748.9,537.5 L749.0,536.9 L749.2,536.4 L749.3,535.8 L749.4,535.3 L749.6,534.7 L749.7,534.2 L749.8,533.6 L750.0,533.0 L750.1,532.5 L750.2,531.9 L750.4,531.3 L750.5,530.8 L750.7,530.2 L750.8,529.6 L750.9,529.0 L751.1,528.4 L751.2,527.8 L751.4,527.2 L751.5,526.5 L751.7,525.9 L751.8,525.2 L752.0,524.6 L752.1,524.1 L752.3,523.5 L752.4,523.0 L752.6,522.5 L752.7,522.0 L752.9,521.5 L753.0,521.0 L753.2,520.4 L753.4,519.8 L753.5,519.3 L753.7,518.7 L753.9,518.2 L754.0,517.6 L754.2,517.0 L754.4,516.4 L754.5,515.8 L754.7,515.1 L754.9,514.5 L755.1,513.9 L755.2,513.4 L755.4,512.8 L755.6,512.2 L755.8,511.7 L756.0,511.1 L756.2,510.6 L756.4,510.1 L756.6,509.6 L756.7,509.1 L756.9,508.5 L757.1,508.0 L757.3,507.4 L757.5,506.8 L757.8,506.2 L758.0,505.6 L758.2,504.9 L758.4,504.3 L758.6,503.7 L758.8,503.1 L759.0,502.4 L759.2,501.9 L759.4,501.4 L759.6,500.8 L759.8,500.3 L760.1,499.7 L760.3,499.2 L760.5,498.6 L760.7,498.0 L760.9,497.5 L761.1,496.9 L761.3,496.3 L761.5,495.8 L761.7,495.2 L761.9,494.6 L762.1,494.1 L762.3,493.4 L762.4,492.8 L762.6,492.2 L762.8,491.5 L763.0,490.9 L763.2,490.4 L763.3,489.9 L763.5,489.4 L763.6,488.9 L763.8,488.4 L763.9,487.9 L764.1,487.3 L764.2,486.7 L764.4,486.1 L764.5,485.4 L764.6,484.8 L764.7,484.2 L764.8,483.6 L764.9,483.0 L765.0,482.4 L765.1,481.8 L765.2,481.2 L765.3,480.7 L765.4,480.1 L765.5,479.5 L765.6,478.9 L765.7,478.3 L765.8,477.8 L765.9,477.2 L766.0,476.6 L766.1,476.0 L766.2,475.4 L766.3,474.8 L766.4,474.2 L766.5,473.6 L766.7,473.0 L766.8,472.4 L766.9,471.8 L767.0,471.3 L767.2,470.7 L767.3,470.1 L767.5,469.6 L767.7,469.0 L767.8,468.5 L768.0,467.9 L768.2,467.3 L768.4,466.7 L768.6,466.1 L768.8,465.5 L769.0,464.9 L769.2,464.3 L769.4,463.8 L769.7,463.2 L769.9,462.6 L770.1,462.1 L770.4,461.6 L770.6,461.1 L770.9,460.6 L771.1,460.1 L771.4,459.6 L771.7,459.1 L771.9,458.6 L772.2,458.0 L772.5,457.4 L772.8,456.8 L773.0,456.2 L773.3,455.8 L773.6,455.3 L773.9,454.9 L774.2,454.3 L774.5,453.8 L774.8,453.2 L775.1,452.6 L775.4,452.1 L775.7,451.5 L776.0,451.0 L776.3,450.6 L776.6,450.1 L776.9,449.7 L777.2,449.1 L777.5,448.5 L777.9,447.9 L778.2,447.4 L778.5,446.9 L778.8,446.5 L779.1,446.0 L779.4,445.5 L779.7,444.9 L780.0,444.3 L780.3,443.8 L780.6,443.4 L780.9,442.9 L781.3,442.3 L781.6,441.7 L781.9,441.1 L782.2,440.6 L782.5,440.1 L782.8,439.6 L783.1,439.1 L783.4,438.6 L783.6,438.2 L783.9,437.8 L784.2,437.2 L784.5,436.7 L784.8,436.1 L785.1,435.5 L785.4,435.0 L785.7,434.5 L785.9,433.9 L786.2,433.4 L786.5,432.8 L786.8,432.3 L787.1,431.7 L787.3,431.3 L787.6,430.8 L787.9,430.3 L788.2,429.7 L788.4,429.1 L788.7,428.5 L789.0,427.9 L789.3,427.4 L789.6,426.8 L789.8,426.3 L790.1,425.8 L790.4,425.3 L790.7,424.8 L791.0,424.3 L791.2,423.8 L791.5,423.2 L791.8,422.7 L792.1,422.1 L792.4,421.6 L792.7,421.1 L792.9,420.6 L793.2,420.1 L793.5,419.6 L793.8,419.1 L794.1,418.6 L794.4,418.0 L794.7,417.5 L795.0,417.0 L795.3,416.5 L795.6,415.9 L795.9,415.4 L796.2,415.0 L796.6,414.6 L796.9,414.1 L797.2,413.6 L797.5,413.1 L797.8,412.6 L798.2,412.1 L798.5,411.6 L798.8,411.1 L799.2,410.6 L799.5,410.0 L799.8,409.4 L800.2,408.9 L800.5,408.4 L800.9,407.9 L801.2,407.4 L801.6,406.8 L802.0,406.3 L802.3,405.9 L802.7,405.5 L803.1,405.0 L803.5,404.5 L803.8,403.9 L804.2,403.4 L804.6,403.1 L805.0,402.7 L805.4,402.3 L805.8,401.9 L806.2,401.5 L806.6,401.2 L807.0,400.8 L807.4,400.3 L807.8,399.8 L808.2,399.3 L808.6,398.7 L809.0,398.2 L809.4,397.8 L809.8,397.5 L810.2,397.1 L810.7,396.5 L811.1,396.1 L811.5,395.8 L811.9,395.4 L812.4,395.0 L812.8,394.5 L813.3,394.1 L813.7,393.8 L814.1,393.4 L814.6,393.1 L815.0,392.8 L815.5,392.3 L815.9,391.8 L816.4,391.5 L816.8,391.2 L817.3,390.8 L817.7,390.2 L818.2,389.7 L818.6,389.3 L819.1,388.9 L819.6,388.7 L820.0,388.4 L820.5,388.0 L821.0,387.7 L821.5,387.2 L821.9,386.6 L822.4,386.3 L822.9,386.0 L823.4,385.5 L823.8,385.1 L824.3,384.7 L824.8,384.5 L825.3,384.2 L825.8,383.9 L826.3,383.6 L826.8,383.2 L827.3,382.8 L827.7,382.4 L828.2,382.0 L828.7,381.6 L829.2,381.3 L829.7,381.1 L830.2,380.9 L830.7,380.6 L831.2,380.3 L831.7,379.9 L832.3,379.6 L832.8,379.2 L833.3,378.8 L833.8,378.4 L834.3,378.2 L834.8,378.1 L835.3,377.8 L835.8,377.3 L836.4,377.0 L836.9,376.7 L837.4,376.4 L837.9,376.2 L838.4,375.7 L839.0,375.2 L839.5,375.1 L840.0,374.9 L840.6,374.7 L841.1,374.4 L841.6,374.1 L842.1,373.9 L842.7,373.7 L843.2,373.5 L843.7,373.1 L844.3,372.7 L844.8,372.3 L845.4,372.0 L845.9,371.9 L846.4,371.7 L847.0,371.5 L847.5,371.2 L848.1,370.9 L848.6,370.6 L849.2,370.2 L849.7,369.9 L850.2,369.8 L850.8,369.7 L851.3,369.5 L851.9,369.3 L852.4,369.0 L853.0,368.7 L853.6,368.3 L854.1,368.1 L854.7,368.1 L855.2,367.9 L855.8,367.3 L856.3,367.0 L856.9,367.0 L857.4,367.0 L858.0,367.0 L858.6,366.6 L859.1,366.3 L859.7,366.1 L860.3,365.8 L860.8,365.5 L861.4,365.4 L861.9,365.4 L862.5,365.0 L863.1,364.7 L863.6,364.6 L864.2,364.5 L864.8,364.3 L865.3,364.0 L865.9,363.7 L866.5,363.7 L867.1,363.6 L867.6,363.2 L868.2,362.9 L868.8,362.8 L869.3,362.7 L869.9,362.6 L870.5,362.4 L871.1,362.2 L871.6,362.1 L872.2,362.0 L872.8,361.9 L873.4,361.7 L874.0,361.4 L874.5,361.2 L875.1,361.0 L875.7,360.9 L876.3,360.7 L876.8,360.6 L877.4,360.5 L878.0,360.5 L878.6,360.2 L879.2,360.0 L879.8,359.9 L880.3,359.8 L880.9,359.6 L881.5,359.4 L882.1,359.2 L882.7,359.2 L883.3,359.1 L883.8,358.8 L884.4,358.7 L885.0,358.7 L885.6,358.7 L886.2,358.6 L886.8,358.2 L887.4,358.0 L887.9,358.0 L888.5,357.8 L889.1,357.6 L889.7,357.5 L890.3,357.4 L890.9,357.2 L891.5,357.2 L892.1,357.1 L892.6,357.0 L893.2,356.9 L893.8,356.9 L894.4,356.9 L895.0,356.9 L895.6,356.7 L896.2,356.5 L896.8,356.4 L897.4,356.3 L898.0,356.1 L898.6,356.0 L899.1,355.9 L899.7,355.8 L900.3,355.6 L900.9,355.4 L901.5,355.5 L902.1,355.5 L902.7,355.6 L903.3,355.5 L903.9,355.3 L904.5,355.1 L905.1,355.0 L905.7,355.1 L906.3,355.0 L906.9,354.8 L907.5,354.6 L908.1,354.5 L908.6,354.4 L909.2,354.3 L909.8,354.3 L910.4,354.2 L911.0,354.2 L911.6,354.4 L912.2,354.3 L912.8,354.1 L913.4,353.9 L914.0,353.8 L914.6,353.7 L915.2,353.7 L915.8,353.7 L916.4,353.5 L917.0,353.3 L917.6,353.4 L918.2,353.5 L918.8,353.5 L919.4,353.4 L920.0,353.3 L920.6,353.3 L921.2,353.2 L921.8,353.0 L922.4,352.8 L923.0,352.7 L923.6,352.9 L924.2,353.1 L924.8,353.0 L925.4,352.8 L925.9,352.5 L926.5,352.6 L927.1,352.6 L927.7,352.6 L928.3,352.5 L928.9,352.5 L929.5,352.5 L930.1,352.4 L930.7,352.3 L931.3,352.2 L931.9,352.3 L932.5,352.2 L933.1,352.2 L933.7,352.1 L934.3,352.0 L934.9,351.8 L935.5,351.6 L936.1,351.5 L936.7,351.7 L937.3,351.7 L937.9,351.6 L938.5,351.7 L939.1,351.8 L939.7,351.8 L940.3,351.7 L940.9,351.7 L941.5,351.6 L942.1,351.5 L942.7,351.5 L943.3,351.5 L943.9,351.6 L944.5,351.4 L945.1,351.3 L945.7,351.4 L946.3,351.4 L946.9,351.4 L947.5,351.3 L948.1,351.2 L948.7,351.3 L949.3,351.2 L949.9,351.0 L950.5,351.1 L951.1,351.1 L951.7,350.9 L952.3,350.8 L952.9,350.8 L953.5,350.7 L954.1,350.7 L954.7,350.8 L955.3,350.8 L955.9,350.6 L956.5,350.7 L957.1,350.7 L957.7,350.5 L958.3,350.6 L958.9,350.7 L959.5,350.8 L960.1,350.8 L960.7,350.6 L961.3,350.6 L961.9,350.7 L962.5,350.6 L963.1,350.5 L963.7,350.6 L964.3,350.6 L964.9,350.4 L965.5,350.2 L966.1,350.0 L966.7,350.3 L967.3,350.4 L967.9,350.2 L968.5,350.1 L969.1,350.0 L969.7,350.0 L970.3,349.9 L970.9,349.8 L971.5,349.9 L972.1,349.9 L972.7,349.8 L973.3,349.9 L973.9,350.1 L974.5,350.0 L975.1,349.9 L975.7,349.7 L976.3,349.6 L976.9,349.6 L977.5,349.6 L978.1,349.6 L978.7,349.5 L979.3,349.5 L979.9,349.6 L980.5,349.6 L981.1,349.6 L981.7,349.5 L982.3,349.5 L982.9,349.5 L983.5,349.5 L984.1,349.6 L984.7,349.6 L985.3,349.7 L985.9,349.7 L986.5,349.5 L987.1,349.4 L987.7,349.5 L988.3,349.4 L988.9,349.3 L989.5,349.3 L990.1,349.3 L990.7,349.2 L991.3,349.2 L991.8,349.3 L992.4,349.2 L993.0,349.0 L993.6,349.0 L994.2,349.0 L994.8,349.1 L995.4,349.2 L996.0,349.2 L996.6,349.0 L997.2,348.9 L997.8,348.9 L998.4,349.0 L999.0,349.0 L999.6,349.0 L1000.2,349.0 L1000.8,348.9 L1001.4,348.9 L1002.0,348.9 L1002.6,348.9 L1003.2,348.9 L1003.8,349.0 L1004.4,349.0 L1005.0,348.9 L1005.6,348.7 L1006.2,348.6 L1006.8,348.5 L1007.4,348.6 L1008.0,348.8 L1008.6,348.9 L1009.2,348.9 L1009.8,348.8 L1010.4,348.8 L1011.0,348.8 L1011.6,348.7 L1012.2,348.6 L1012.8,348.5 L1013.4,348.6 L1014.0,348.7 L1014.6,348.7 L1015.2,348.6 L1015.8,348.7 L1016.4,348.5 L1017.0,348.4 L1017.6,348.5 L1018.2,348.5 L1018.8,348.4 L1019.4,348.5 L1020.0,348.6 L1020.6,348.5 L1021.2,348.4 L1021.8,348.4 L1022.4,348.4 L1023.0,348.4 L1023.6,348.5 L1024.2,348.6 L1024.8,348.4 L1025.4,348.3 L1026.0,348.3 L1026.6,348.2 L1027.2,348.2 L1027.8,348.2 L1028.4,348.4 L1029.0,348.5 L1029.6,348.2 L1030.2,348.1 L1030.8,348.2 L1031.4,348.3 L1032.0,348.4 L1032.6,348.4 L1033.2,348.4 L1033.8,348.3 L1034.4,348.3 L1035.0,348.4 L1035.6,348.4 L1036.2,348.4 L1036.8,348.4 L1037.4,348.3 L1038.0,348.2 L1038.6,348.4 L1039.2,348.4 L1039.8,348.3 L1040.4,348.3 L1041.0,348.4 L1041.6,348.1 L1042.2,348.1 L1042.8,348.2 L1043.4,348.1 L1044.0,348.0 L1044.6,347.9 L1045.2,348.0 L1045.8,348.1 L1046.4,348.1 L1047.0,348.0 L1047.6,348.1 L1048.2,348.1 L1048.8,348.0 L1049.4,348.1 L1050.0,348.3 L1050.6,348.2 L1051.2,348.0 L1051.8,347.9 L1052.4,348.0 L1053.0,348.1 L1053.6,348.2 L1054.2,348.1 L1054.8,348.0 L1055.4,348.0 L1056.0,348.1 L1056.6,348.3 L1057.2,348.3 L1057.8,348.2 L1058.4,348.1 L1059.0,348.0 L1059.6,348.0 L1060.2,348.0 L1060.8,348.1 L1061.4,348.0 L1062.0,347.8 L1062.6,347.6 L1063.2,347.6 L1063.8,347.9" fill="none" stroke="#00ffff" stroke-width="2.8" stroke-linejoin="round" stroke-linecap="round"/>
<path d="M148.0,329.5 L148.6,331.6 L149.2,332.9 L149.8,332.9 L150.4,333.9 L151.0,335.4 L151.6,333.9 L152.2,333.0 L152.8,333.2 L153.4,331.7 L154.0,329.4 L154.6,333.6 L155.2,334.8 L155.8,330.1 L156.4,330.7 L157.0,334.1 L157.6,332.5 L158.2,331.1 L158.8,330.4 L159.4,330.4 L160.0,330.6 L160.6,330.5 L161.2,330.8 L161.8,332.0 L162.4,332.1 L163.0,331.5 L163.6,333.2 L164.2,333.3 L164.8,329.5 L165.4,329.4 L166.0,331.4 L166.6,330.5 L167.2,330.3 L167.8,332.2 L168.4,330.8 L169.0,327.5 L169.6,329.2 L170.2,330.8 L170.8,331.4 L171.4,330.4 L172.0,328.5 L172.6,331.0 L173.2,332.7 L173.8,331.8 L174.4,332.0 L175.0,332.9 L175.6,332.9 L176.2,332.2 L176.8,329.9 L177.4,329.2 L178.0,329.3 L178.6,330.0 L179.2,330.7 L179.8,331.8 L180.4,332.2 L181.0,332.3 L181.6,330.7 L182.2,329.4 L182.8,329.4 L183.4,329.3 L184.0,329.1 L184.6,329.3 L185.2,329.5 L185.8,329.9 L186.4,330.1 L187.0,330.2 L187.6,332.5 L188.2,333.6 L188.7,330.6 L189.3,329.5 L189.9,329.7 L190.5,330.5 L191.1,330.7 L191.7,329.1 L192.3,328.8 L192.9,329.4 L193.5,329.8 L194.1,330.4 L194.7,331.2 L195.3,330.2 L195.9,327.8 L196.5,330.3 L197.1,332.1 L197.7,330.2 L198.3,329.6 L198.9,330.2 L199.5,330.9 L200.1,331.4 L200.7,331.2 L201.3,331.3 L201.9,331.8 L202.5,330.9 L203.1,330.0 L203.7,329.8 L204.3,329.9 L204.9,330.2 L205.5,328.9 L206.1,328.3 L206.7,330.8 L207.3,330.6 L207.9,328.3 L208.5,327.6 L209.1,327.9 L209.7,331.7 L210.3,332.0 L210.9,329.5 L211.5,328.1 L212.1,327.9 L212.7,331.3 L213.3,331.5 L213.9,329.0 L214.5,330.0 L215.1,330.8 L215.7,328.6 L216.3,328.0 L216.9,328.6 L217.5,327.2 L218.1,325.9 L218.7,325.6 L219.3,326.0 L219.9,327.0 L220.5,328.1 L221.1,329.0 L221.7,330.0 L222.3,331.4 L222.9,333.3 L223.5,330.1 L224.1,327.4 L224.7,329.7 L225.3,329.8 L225.9,327.9 L226.5,328.1 L227.1,328.2 L227.7,326.6 L228.3,325.9 L228.9,325.9 L229.5,326.5 L230.1,327.0 L230.7,326.5 L231.3,327.0 L231.9,328.3 L232.5,327.8 L233.1,327.6 L233.7,329.8 L234.3,330.2 L234.9,328.9 L235.5,328.7 L236.1,328.9 L236.7,329.9 L237.3,330.1 L237.9,329.4 L238.5,328.7 L239.1,328.1 L239.7,328.0 L240.3,328.0 L240.9,327.9 L241.5,329.0 L242.1,330.1 L242.7,329.7 L243.3,329.3 L243.9,328.8 L244.5,329.1 L245.1,329.2 L245.7,327.6 L246.3,327.4 L246.9,328.6 L247.5,327.0 L248.1,325.6 L248.7,328.7 L249.3,329.6 L249.9,328.1 L250.5,327.9 L251.1,328.1 L251.7,328.5 L252.3,328.4 L252.9,327.7 L253.5,327.3 L254.1,327.3 L254.7,328.9 L255.3,329.1 L255.9,327.9 L256.5,326.6 L257.1,325.8 L257.7,327.3 L258.3,327.0 L258.9,324.5 L259.5,327.0 L260.1,330.1 L260.7,327.9 L261.3,326.9 L261.9,327.1 L262.5,329.1 L263.1,331.3 L263.7,331.1 L264.3,330.0 L264.9,327.6 L265.5,327.6 L266.1,328.1 L266.7,328.6 L267.3,329.2 L267.9,329.8 L268.5,328.3 L269.1,326.5 L269.7,326.7 L270.3,327.4 L270.9,328.6 L271.5,328.0 L272.1,327.1 L272.7,327.6 L273.3,327.8 L273.9,327.6 L274.5,326.0 L275.1,324.2 L275.7,324.5 L276.3,323.8 L276.8,321.7 L277.4,323.2 L278.0,325.8 L278.6,327.5 L279.2,327.4 L279.8,324.6 L280.4,325.8 L281.0,328.2 L281.6,327.9 L282.2,327.3 L282.8,326.0 L283.4,325.7 L284.0,325.7 L284.6,325.8 L285.2,325.4 L285.8,324.3 L286.4,324.4 L287.0,325.0 L287.6,325.2 L288.2,325.6 L288.8,326.3 L289.4,326.6 L290.0,326.7 L290.6,324.9 L291.2,324.4 L291.8,326.1 L292.4,325.4 L293.0,323.6 L293.6,324.2 L294.2,324.8 L294.8,325.4 L295.4,325.3 L296.0,324.8 L296.6,324.6 L297.2,324.6 L297.8,325.0 L298.4,324.5 L299.0,323.5 L299.6,323.4 L300.2,323.4 L300.8,323.8 L301.4,324.8 L302.0,326.1 L302.6,324.9 L303.2,324.7 L303.8,326.9 L304.4,326.5 L305.0,324.6 L305.6,321.0 L306.2,319.1 L306.8,321.9 L307.4,324.4 L308.0,326.8 L308.6,325.1 L309.1,323.5 L309.7,323.0 L310.3,322.4 L310.9,321.9 L311.5,324.0 L312.1,325.8 L312.7,325.4 L313.3,325.0 L313.9,324.5 L314.5,324.2 L315.1,324.1 L315.7,325.2 L316.3,325.3 L316.9,324.6 L317.5,322.4 L318.1,320.8 L318.7,323.0 L319.3,323.8 L319.9,323.0 L320.5,322.6 L321.1,322.4 L321.7,323.3 L322.3,323.4 L322.9,322.5 L323.5,319.6 L324.1,317.1 L324.7,322.2 L325.3,324.7 L325.9,324.0 L326.5,322.8 L327.1,321.5 L327.6,321.2 L328.2,321.2 L328.8,321.8 L329.4,320.7 L330.0,319.1 L330.6,320.8 L331.2,321.6 L331.8,321.0 L332.4,320.6 L333.0,320.4 L333.6,319.7 L334.2,319.3 L334.8,319.5 L335.4,320.8 L336.0,322.7 L336.6,323.0 L337.2,322.8 L337.8,321.8 L338.4,321.0 L339.0,320.3 L339.6,319.3 L340.1,318.9 L340.7,320.6 L341.3,321.9 L341.9,322.8 L342.5,319.7 L343.1,317.3 L343.7,320.4 L344.3,319.8 L344.9,316.0 L345.5,317.0 L346.1,318.8 L346.7,319.5 L347.3,319.0 L347.9,316.9 L348.5,316.2 L349.1,316.2 L349.7,318.0 L350.2,319.4 L350.8,320.1 L351.4,319.1 L352.0,317.6 L352.6,319.6 L353.2,320.0 L353.8,317.5 L354.4,318.5 L355.0,321.3 L355.6,319.4 L356.2,318.1 L356.8,318.1 L357.4,318.3 L358.0,318.6 L358.5,318.3 L359.1,318.3 L359.7,319.9 L360.3,320.8 L360.9,321.1 L361.5,319.5 L362.1,317.7 L362.7,316.8 L363.3,315.8 L363.9,314.5 L364.5,314.5 L365.1,314.9 L365.6,315.7 L366.2,316.1 L366.8,315.8 L367.4,315.7 L368.0,315.7 L368.6,315.6 L369.2,315.7 L369.8,316.2 L370.4,315.0 L371.0,312.8 L371.5,312.9 L372.1,313.6 L372.7,315.9 L373.3,316.7 L373.9,316.3 L374.5,314.9 L375.1,313.7 L375.7,315.6 L376.3,315.7 L376.8,313.4 L377.4,313.0 L378.0,313.3 L378.6,311.4 L379.2,311.2 L379.8,314.0 L380.4,314.4 L381.0,313.3 L381.6,314.3 L382.1,315.0 L382.7,314.4 L383.3,313.8 L383.9,313.0 L384.5,312.8 L385.1,312.9 L385.7,313.9 L386.2,313.8 L386.8,312.2 L387.4,311.6 L388.0,311.5 L388.6,311.6 L389.2,311.9 L389.8,312.6 L390.3,312.9 L390.9,312.9 L391.5,313.7 L392.1,314.1 L392.7,311.8 L393.3,311.1 L393.9,312.5 L394.4,311.1 L395.0,309.0 L395.6,310.3 L396.2,310.9 L396.8,310.2 L397.4,311.0 L397.9,312.6 L398.5,311.6 L399.1,310.2 L399.7,308.9 L400.3,308.6 L400.9,309.6 L401.4,309.6 L402.0,309.2 L402.6,308.3 L403.2,307.6 L403.8,307.5 L404.3,306.9 L404.9,306.1 L405.5,309.3 L406.1,312.3 L406.7,309.3 L407.2,307.7 L407.8,308.5 L408.4,307.1 L409.0,304.6 L409.5,304.3 L410.1,304.4 L410.7,305.3 L411.3,305.6 L411.8,305.5 L412.4,306.0 L413.0,306.9 L413.5,304.9 L414.1,303.5 L414.7,304.9 L415.3,306.2 L415.8,307.0 L416.4,305.3 L417.0,302.5 L417.5,303.9 L418.1,305.1 L418.7,302.9 L419.2,302.0 L419.8,303.1 L420.3,303.5 L420.9,303.3 L421.5,304.3 L422.0,305.4 L422.6,302.6 L423.1,300.6 L423.7,301.3 L424.2,302.0 L424.8,302.6 L425.3,301.4 L425.9,298.8 L426.4,299.0 L427.0,300.0 L427.5,298.9 L428.1,297.9 L428.6,297.8 L429.1,298.0 L429.7,299.2 L430.2,299.8 L430.7,299.5 L431.3,300.3 L431.8,301.9 L432.3,301.5 L432.9,300.0 L433.4,299.3 L433.9,298.9 L434.4,297.4 L434.9,295.7 L435.5,295.1 L436.0,294.7 L436.5,294.8 L437.0,294.9 L437.5,292.3 L438.0,289.7 L438.5,293.1 L439.0,296.4 L439.5,293.9 L440.0,291.4 L440.5,290.6 L441.0,289.9 L441.4,290.1 L441.9,290.2 L442.4,291.0 L442.9,291.8 L443.4,292.0 L443.8,292.0 L444.3,290.8 L444.7,289.0 L445.2,288.2 L445.7,288.5 L446.1,288.5 L446.6,287.7 L447.0,286.9 L447.4,285.7 L447.9,284.5 L448.3,284.6 L448.8,285.1 L449.2,285.2 L449.6,284.6 L450.0,284.0 L450.5,282.3 L450.9,280.6 L451.3,281.4 L451.7,283.0 L452.1,283.3 L452.5,280.8 L453.0,278.3 L453.4,278.9 L453.8,279.8 L454.2,279.7 L454.6,278.3 L455.0,276.8 L455.4,276.6 L455.8,276.3 L456.2,276.0 L456.6,275.6 L457.0,275.3 L457.4,275.9 L457.8,276.5 L458.2,275.9 L458.6,273.9 L459.0,272.0 L459.4,272.3 L459.8,272.6 L460.2,273.2 L460.6,274.1 L461.0,274.9 L461.4,273.0 L461.8,270.9 L462.2,269.6 L462.6,269.7 L463.0,269.7 L463.4,269.8 L463.7,269.9 L464.1,269.4 L464.5,268.0 L464.9,266.6 L465.3,266.7 L465.7,267.0 L466.1,266.9 L466.5,265.6 L466.9,264.3 L467.3,264.4 L467.7,264.9 L468.1,265.2 L468.5,264.3 L468.9,263.3 L469.3,262.2 L469.6,261.0 L470.0,260.0 L470.4,261.3 L470.8,262.5 L471.2,262.4 L471.6,260.9 L471.9,259.3 L472.3,258.6 L472.7,258.0 L473.1,257.3 L473.5,256.4 L473.8,255.5 L474.2,255.0 L474.6,254.8 L474.9,254.7 L475.3,254.5 L475.7,254.3 L476.0,254.0 L476.4,253.7 L476.8,253.4 L477.1,253.3 L477.5,253.4 L477.8,253.6 L478.2,252.5 L478.5,250.4 L478.9,248.3 L479.2,247.8 L479.6,247.9 L479.9,248.0 L480.3,248.5 L480.6,248.9 L480.9,249.4 L481.3,248.6 L481.6,247.5 L481.9,246.3 L482.2,245.8 L482.6,245.4 L482.9,245.0 L483.2,245.0 L483.5,245.2 L483.8,245.4 L484.1,245.0 L484.4,243.7 L484.7,242.5 L485.0,241.4 L485.3,240.9 L485.6,240.5 L485.9,240.0 L486.2,239.3 L486.5,238.5 L486.8,237.7 L487.1,237.3 L487.4,237.8 L487.7,238.2 L487.9,238.6 L488.2,238.0 L488.5,237.1 L488.8,236.2 L489.0,235.2 L489.3,233.8 L489.6,232.3 L489.8,230.9 L490.1,230.0 L490.4,230.1 L490.6,230.2 L490.9,230.3 L491.1,229.6 L491.4,228.3 L491.6,226.9 L491.9,225.6 L492.1,225.2 L492.4,225.7 L492.6,226.2 L492.9,226.7 L493.1,226.6 L493.3,225.9 L493.6,225.1 L493.8,224.4 L494.0,223.6 L494.3,222.7 L494.5,221.8 L494.7,220.9 L495.0,220.0 L495.2,219.3 L495.4,218.6 L495.6,217.9 L495.9,217.3 L496.1,216.5 L496.3,215.3 L496.5,214.2 L496.7,213.1 L496.9,211.9 L497.2,211.9 L497.4,212.4 L497.6,212.9 L497.8,213.3 L498.0,213.8 L498.2,212.9 L498.4,212.0 L498.6,211.1 L498.8,210.2 L499.0,209.3 L499.2,208.7 L499.4,208.0 L499.6,207.4 L499.8,206.8 L500.0,206.1 L500.2,205.9 L500.4,205.7 L500.6,205.5 L500.8,205.3 L501.0,205.1 L501.1,204.3 L501.3,203.2 L501.5,202.2 L501.7,201.1 L501.9,200.0 L502.1,199.2 L502.3,198.6 L502.4,198.1 L502.6,197.6 L502.8,197.0 L503.0,196.5 L503.2,195.9 L503.3,195.3 L503.5,194.6 L503.7,194.0 L503.9,193.4 L504.1,192.8 L504.2,192.0 L504.4,191.2 L504.6,190.4 L504.8,189.6 L504.9,188.8 L505.1,188.9 L505.3,189.5 L505.4,190.2 L505.6,190.8 L505.8,191.5 L506.0,192.1 L506.1,191.2 L506.3,189.7 L506.5,188.3 L506.6,186.9 L506.8,185.5 L507.0,184.1 L507.2,183.4 L507.3,182.8 L507.5,182.1 L507.7,181.5 L507.8,180.9 L508.0,180.2 L508.2,180.1 L508.3,179.9 L508.5,179.7 L508.7,179.5 L508.8,179.4 L509.0,179.1 L509.2,177.2 L509.3,175.4 L509.5,173.5 L509.7,171.7 L509.8,169.8 L510.0,168.1 L510.2,168.5 L510.3,168.9 L510.5,169.3 L510.7,169.7 L510.8,170.1 L511.0,170.5 L511.2,169.9 L511.3,169.4 L511.5,168.8 L511.7,168.2 L511.8,167.7 L512.0,167.1 L512.2,166.2 L512.3,165.3 L512.5,164.4 L512.7,163.6 L512.8,162.7 L513.0,161.8 L513.2,161.6 L513.3,161.5 L513.5,161.3 L513.6,161.2 L513.8,161.1 L514.0,160.9 L514.1,159.8 L514.3,158.5 L514.5,157.1 L514.6,155.8 L514.8,154.4 L514.9,153.1 L515.1,152.7 L515.3,152.7 L515.4,152.8 L515.6,152.8 L515.8,152.9 L515.9,152.9 L516.1,152.8 L516.2,152.5 L516.4,152.2 L516.6,151.8 L516.7,151.5 L516.9,151.2 L517.1,150.5 L517.2,148.9 L517.4,147.4 L517.5,145.9 L517.7,144.4 L517.9,142.8 L518.0,141.5 L518.2,141.1 L518.3,140.8 L518.5,140.4 L518.7,140.1 L518.8,139.7 L519.0,139.4 L519.1,139.2 L519.3,139.0 L519.5,138.8 L519.6,138.6 L519.8,138.4 L519.9,138.2 L520.1,137.8 L520.3,137.3 L520.4,136.7 L520.6,136.2 L520.7,135.7 L520.9,135.1 L521.1,134.5 L521.2,133.7 L521.4,132.9 L521.5,132.2 L521.7,131.4 L521.9,130.6 L522.0,129.9 L522.2,129.7 L522.4,129.4 L522.5,129.1 L522.7,128.9 L522.9,128.6 L523.0,128.3 L523.2,127.7 L523.4,127.1 L523.6,126.4 L523.7,125.8 L523.9,125.2 L524.1,124.3 L524.3,123.2 L524.5,122.0 L524.7,120.9 L524.9,119.7 L525.1,118.9 L525.3,118.8 L525.5,118.7 L525.7,118.6 L525.9,118.6 L526.1,118.1 L526.3,117.0 L526.5,116.0 L526.8,114.9 L527.0,113.8 L527.2,112.9 L527.4,112.0 L527.7,111.1 L527.9,110.2 L528.2,109.4 L528.4,108.7 L528.7,108.0 L528.9,107.3 L529.2,108.0 L529.5,109.2 L529.7,110.4 L530.0,111.6 L530.3,110.4 L530.6,109.3 L530.9,108.1 L531.2,107.9 L531.5,108.6 L531.8,109.2 L532.1,109.3 L532.4,106.8 L532.7,104.2 L533.0,101.7 L533.3,101.8 L533.7,102.0 L534.0,102.2 L534.3,102.2 L534.7,102.1 L535.0,102.1 L535.4,101.3 L535.7,100.4 L536.1,99.8 L536.5,99.8 L536.9,99.8 L537.2,99.4 L537.7,98.7 L538.1,97.9 L538.5,96.9 L538.9,95.8 L539.4,94.1 L539.9,92.2 L540.4,92.4 L540.9,93.4 L541.4,95.5 L542.0,98.1 L542.5,97.1 L543.1,96.3 L543.7,97.0 L544.3,96.1 L544.9,94.0 L545.5,94.2 L546.1,94.8 L546.6,94.3 L547.1,94.4 L547.6,95.9 L548.1,97.1 L548.6,97.2 L549.1,97.3 L549.5,98.1 L549.9,98.8 L550.3,100.2 L550.8,101.6 L551.2,101.9 L551.5,100.4 L551.9,99.0 L552.3,100.0 L552.7,101.6 L553.0,103.0 L553.4,102.1 L553.7,101.2 L554.0,100.7 L554.4,102.8 L554.7,104.8 L555.0,106.7 L555.3,106.3 L555.6,106.0 L555.9,105.6 L556.2,106.1 L556.5,106.8 L556.8,107.5 L557.1,108.2 L557.3,108.9 L557.6,109.5 L557.9,110.2 L558.1,111.1 L558.4,112.4 L558.6,113.6 L558.9,114.8 L559.1,115.5 L559.3,115.3 L559.6,115.2 L559.8,115.0 L560.0,114.8 L560.2,115.2 L560.4,115.6 L560.7,115.9 L560.9,116.3 L561.1,116.6 L561.3,116.9 L561.5,117.2 L561.8,117.5 L562.0,117.7 L562.2,118.8 L562.4,119.9 L562.6,121.1 L562.8,122.2 L563.0,123.2 L563.3,123.3 L563.5,123.4 L563.7,123.5 L563.9,123.6 L564.1,124.0 L564.3,124.7 L564.5,125.4 L564.8,126.1 L565.0,126.8 L565.2,127.6 L565.4,128.3 L565.6,129.1 L565.8,129.8 L566.0,130.6 L566.2,131.4 L566.5,132.3 L566.7,133.1 L566.9,134.0 L567.1,134.4 L567.3,134.4 L567.5,134.4 L567.7,134.4 L567.9,134.4 L568.2,135.3 L568.4,136.4 L568.6,137.5 L568.8,138.6 L569.0,139.7 L569.2,140.8 L569.4,141.8 L569.7,142.8 L569.9,143.8 L570.1,144.1 L570.3,143.3 L570.5,142.6 L570.7,141.8 L570.9,141.0 L571.2,142.1 L571.4,143.8 L571.6,145.5 L571.8,147.2 L572.0,148.9 L572.2,149.8 L572.4,150.7 L572.7,151.6 L572.9,152.4 L573.1,152.7 L573.3,152.1 L573.5,151.5 L573.7,151.0 L574.0,150.4 L574.2,151.2 L574.4,152.2 L574.6,153.3 L574.8,154.4 L575.1,155.1 L575.3,154.8 L575.5,154.5 L575.7,154.2 L575.9,154.0 L576.2,154.8 L576.4,156.1 L576.6,157.4 L576.8,158.7 L577.1,159.7 L577.3,160.0 L577.5,160.3 L577.7,160.5 L577.9,160.8 L578.2,161.5 L578.4,162.3 L578.6,163.2 L578.9,164.0 L579.1,164.5 L579.3,164.6 L579.5,164.6 L579.8,164.6 L580.0,164.6 L580.2,165.2 L580.5,165.8 L580.7,166.4 L581.0,167.0 L581.2,167.7 L581.4,168.4 L581.7,169.1 L581.9,169.9 L582.2,170.4 L582.4,170.8 L582.7,171.2 L582.9,171.6 L583.2,172.1 L583.4,172.7 L583.7,173.3 L584.0,173.9 L584.2,174.6 L584.5,175.4 L584.8,176.1 L585.0,176.8 L585.3,176.8 L585.6,176.9 L585.9,176.9 L586.2,177.5 L586.5,178.6 L586.7,179.6 L587.0,180.7 L587.3,181.6 L587.6,182.4 L587.9,183.3 L588.3,182.6 L588.6,181.4 L588.9,180.3 L589.2,181.0 L589.5,183.1 L589.8,185.1 L590.2,186.1 L590.5,186.0 L590.8,185.9 L591.2,186.0 L591.5,186.2 L591.9,186.4 L592.2,186.7 L592.6,187.1 L593.0,187.4 L593.3,188.1 L593.7,188.9 L594.1,189.7 L594.4,190.3 L594.8,190.8 L595.2,191.7 L595.6,193.0 L596.0,194.2 L596.4,193.4 L596.8,192.6 L597.2,193.5 L597.6,195.8 L598.1,197.5 L598.5,196.5 L598.9,195.4 L599.4,196.5 L599.8,198.1 L600.2,199.3 L600.7,200.1 L601.1,200.1 L601.6,198.5 L602.0,197.3 L602.5,199.7 L603.0,202.1 L603.4,203.6 L603.9,204.9 L604.4,203.6 L604.8,201.7 L605.3,201.9 L605.8,203.2 L606.3,203.6 L606.8,203.3 L607.2,203.5 L607.7,204.0 L608.2,204.4 L608.7,204.5 L609.1,204.7 L609.6,204.7 L610.1,205.1 L610.6,206.6 L611.0,208.0 L611.5,208.5 L612.0,209.0 L612.5,208.6 L612.9,208.2 L613.4,209.6 L613.9,211.4 L614.3,211.9 L614.8,211.9 L615.2,211.9 L615.7,212.0 L616.1,211.8 L616.6,211.0 L617.0,210.4 L617.4,212.9 L617.9,215.5 L618.3,216.2 L618.7,216.2 L619.1,215.5 L619.5,213.2 L619.9,211.0 L620.3,211.7 L620.7,213.0 L621.1,214.1 L621.5,215.0 L621.9,216.0 L622.3,217.3 L622.6,218.7 L623.0,220.2 L623.4,220.9 L623.7,221.6 L624.1,222.0 L624.4,221.5 L624.8,221.0 L625.1,220.9 L625.4,221.7 L625.8,222.6 L626.1,223.4 L626.4,224.2 L626.7,225.0 L627.1,225.5 L627.4,224.8 L627.7,224.2 L628.0,223.6 L628.3,225.0 L628.6,226.6 L628.9,228.1 L629.1,228.9 L629.4,228.9 L629.7,229.0 L630.0,229.1 L630.3,229.8 L630.5,230.6 L630.8,231.4 L631.0,232.1 L631.3,232.5 L631.6,233.0 L631.8,233.4 L632.1,233.7 L632.3,233.7 L632.6,233.8 L632.8,233.8 L633.0,233.9 L633.3,234.5 L633.5,235.2 L633.7,235.8 L634.0,236.5 L634.2,237.4 L634.4,238.4 L634.6,239.4 L634.8,240.3 L635.0,241.2 L635.3,241.8 L635.5,242.4 L635.7,243.0 L635.9,243.6 L636.1,244.1 L636.3,244.6 L636.5,245.0 L636.7,245.4 L636.9,245.8 L637.1,246.5 L637.3,247.6 L637.5,248.6 L637.7,249.7 L637.8,250.7 L638.0,251.6 L638.2,251.7 L638.4,251.7 L638.6,251.8 L638.8,251.9 L638.9,252.0 L639.1,252.2 L639.3,252.5 L639.5,252.8 L639.6,253.1 L639.8,253.4 L640.0,253.7 L640.1,254.5 L640.3,255.3 L640.5,256.2 L640.6,257.0 L640.8,257.9 L641.0,258.7 L641.1,259.4 L641.3,260.0 L641.4,260.6 L641.6,261.3 L641.8,261.9 L641.9,262.5 L642.1,263.1 L642.2,263.7 L642.4,264.3 L642.5,264.9 L642.7,265.5 L642.8,266.1 L643.0,266.7 L643.1,267.6 L643.3,268.5 L643.4,269.5 L643.6,270.4 L643.7,271.4 L643.9,272.3 L644.0,273.2 L644.1,273.6 L644.3,274.0 L644.4,274.4 L644.6,274.8 L644.7,275.3 L644.9,275.7 L645.0,276.1 L645.1,276.8 L645.3,277.5 L645.4,278.3 L645.6,279.0 L645.7,279.7 L645.9,280.5 L646.0,281.2 L646.1,281.7 L646.3,282.1 L646.4,282.6 L646.5,283.1 L646.7,283.6 L646.8,284.0 L647.0,284.5 L647.1,284.9 L647.2,285.3 L647.4,285.7 L647.5,286.1 L647.6,286.4 L647.8,286.8 L647.9,287.2 L648.0,287.7 L648.2,288.6 L648.3,289.5 L648.4,290.4 L648.6,291.3 L648.7,292.1 L648.8,293.0 L648.9,293.9 L649.1,294.4 L649.2,294.7 L649.3,295.0 L649.5,295.2 L649.6,295.5 L649.7,295.8 L649.8,296.0 L650.0,296.3 L650.1,296.9 L650.2,297.6 L650.3,298.3 L650.5,299.1 L650.6,299.8 L650.7,300.5 L650.8,301.2 L651.0,301.9 L651.1,302.3 L651.2,302.6 L651.3,302.9 L651.5,303.2 L651.6,303.5 L651.7,303.8 L651.8,304.1 L651.9,304.4 L652.1,305.0 L652.2,305.8 L652.3,306.6 L652.4,307.5 L652.5,308.3 L652.7,309.2 L652.8,310.0 L652.9,310.8 L653.0,311.6 L653.1,312.1 L653.2,312.6 L653.4,313.1 L653.5,313.6 L653.6,314.1 L653.7,314.6 L653.8,315.1 L653.9,315.6 L654.1,316.2 L654.2,316.9 L654.3,317.7 L654.4,318.4 L654.5,319.1 L654.6,319.9 L654.7,320.6 L654.8,321.4 L654.9,322.1 L655.1,322.9 L655.2,323.8 L655.3,324.7 L655.4,325.6 L655.5,326.5 L655.6,327.4 L655.7,328.3 L655.8,329.1 L655.9,330.0 L656.0,330.8 L656.1,331.6 L656.3,332.3 L656.4,333.0 L656.5,333.7 L656.6,334.4 L656.7,335.1 L656.8,335.8 L656.9,336.5 L657.0,337.2 L657.1,337.5 L657.2,337.8 L657.3,338.2 L657.4,338.5 L657.5,338.8 L657.6,339.1 L657.7,339.5 L657.8,339.8 L657.9,340.1 L658.0,340.5 L658.1,340.9 L658.2,341.3 L658.3,341.6 L658.4,342.0 L658.5,342.4 L658.6,342.8 L658.7,343.2 L658.8,343.6 L658.9,344.0 L659.0,344.5 L659.1,345.2 L659.2,346.0 L659.3,346.7 L659.4,347.5 L659.5,348.2 L659.6,349.0 L659.7,349.7 L659.8,350.5 L659.9,351.2 L660.0,352.0 L660.1,352.5 L660.2,353.0 L660.3,353.5 L660.4,353.9 L660.5,354.4 L660.6,354.9 L660.6,355.4 L660.7,355.9 L660.8,356.4 L660.9,356.9 L661.0,357.3 L661.1,357.8 L661.2,358.2 L661.3,358.7 L661.4,359.1 L661.5,359.6 L661.6,360.0 L661.7,360.5 L661.7,360.9 L661.8,361.4 L661.9,361.8 L662.0,362.3 L662.1,363.0 L662.2,363.7 L662.3,364.4 L662.4,365.1 L662.5,365.8 L662.6,366.4 L662.6,367.1 L662.7,367.8 L662.8,368.5 L662.9,369.2 L663.0,369.9 L663.1,370.4 L663.2,371.0 L663.2,371.6 L663.3,372.1 L663.4,372.7 L663.5,373.3 L663.6,373.8 L663.7,374.4 L663.8,375.0 L663.8,375.5 L663.9,376.1 L664.0,376.6 L664.1,377.2 L664.2,377.7 L664.3,378.3 L664.3,378.8 L664.4,379.3 L664.5,379.9 L664.6,380.4 L664.7,381.0 L664.8,381.5 L664.8,382.0 L664.9,382.6 L665.0,383.1 L665.1,384.0 L665.2,384.9 L665.2,385.8 L665.3,386.7 L665.4,387.6 L665.5,388.5 L665.6,389.4 L665.6,390.3 L665.7,391.2 L665.8,392.1 L665.9,393.0 L666.0,393.9 L666.0,394.5 L666.1,394.8 L666.2,395.1 L666.3,395.4 L666.3,395.7 L666.4,396.0 L666.5,396.3 L666.6,396.6 L666.7,397.0 L666.7,397.3 L666.8,397.6 L666.9,397.9 L667.0,398.2 L667.0,398.7 L667.1,399.3 L667.2,399.9 L667.3,400.5 L667.3,401.1 L667.4,401.7 L667.5,402.3 L667.6,402.9 L667.6,403.5 L667.7,404.1 L667.8,404.7 L667.9,405.3 L667.9,405.9 L668.0,406.6 L668.1,407.3 L668.2,408.1 L668.2,408.9 L668.3,409.6 L668.4,410.4 L668.5,411.1 L668.5,411.9 L668.6,412.7 L668.7,413.4 L668.8,414.2 L668.8,415.0 L668.9,415.7 L669.0,416.5 L669.0,417.0 L669.1,417.4 L669.2,417.8 L669.3,418.2 L669.3,418.6 L669.4,419.0 L669.5,419.4 L669.6,419.8 L669.6,420.2 L669.7,420.6 L669.8,421.1 L669.8,421.5 L669.9,421.9 L670.0,422.3 L670.0,422.8 L670.1,423.3 L670.2,423.8 L670.3,424.4 L670.3,424.9 L670.4,425.4 L670.5,426.0 L670.5,426.5 L670.6,427.1 L670.7,427.6 L670.8,428.1 L670.8,428.7 L670.9,429.2 L671.0,429.7 L671.0,430.3 L671.1,430.9 L671.2,431.6 L671.2,432.2 L671.3,432.9 L671.4,433.5 L671.4,434.1 L671.5,434.8 L671.6,435.4 L671.7,436.0 L671.7,436.7 L671.8,437.3 L671.9,437.9 L671.9,438.6 L672.0,439.2 L672.1,440.0 L672.1,440.7 L672.2,441.5 L672.3,442.3 L672.3,443.0 L672.4,443.8 L672.5,444.6 L672.5,445.3 L672.6,446.1 L672.7,446.9 L672.7,447.7 L672.8,448.4 L672.9,449.2 L672.9,450.0 L673.0,450.7 L673.1,451.3 L673.2,451.8 L673.2,452.4 L673.3,453.0 L673.4,453.6 L673.4,454.2 L673.5,454.8 L673.6,455.3 L673.6,455.9 L673.7,456.5 L673.8,457.1 L673.8,457.7 L673.9,458.3 L674.0,458.8 L674.0,459.4 L674.1,460.0 L674.2,460.6 L674.2,461.2 L674.3,461.8 L674.4,462.4 L674.4,462.9 L674.5,463.5 L674.6,464.1 L674.6,464.7 L674.7,465.3 L674.8,465.9 L674.8,466.5 L674.9,467.0 L675.0,467.6 L675.0,468.2 L675.1,468.7 L675.2,469.2 L675.2,469.7 L675.3,470.2 L675.4,470.7 L675.4,471.2 L675.5,471.7 L675.6,472.2 L675.6,472.7 L675.7,473.2 L675.8,473.7 L675.8,474.2 L675.9,474.7 L676.0,475.2 L676.0,475.7 L676.1,476.2 L676.2,476.8 L676.2,477.3 L676.3,477.8 L676.4,478.4 L676.5,478.9 L676.5,479.4 L676.6,480.0 L676.7,480.5 L676.7,481.1 L676.8,481.6 L676.9,482.1 L676.9,482.7 L677.0,483.2 L677.1,484.0 L677.1,484.9 L677.2,485.7 L677.3,486.5 L677.3,487.4 L677.4,488.2 L677.5,489.0 L677.5,489.8 L677.6,490.7 L677.7,491.5 L677.7,492.3 L677.8,493.2 L677.9,494.0 L678.0,494.9 L678.0,495.5 L678.1,495.8 L678.2,496.1 L678.2,496.4 L678.3,496.7 L678.4,496.9 L678.4,497.2 L678.5,497.5 L678.6,497.8 L678.6,498.1 L678.7,498.4 L678.8,498.7 L678.9,498.9 L678.9,499.2 L679.0,499.5 L679.1,500.2 L679.1,501.0 L679.2,501.8 L679.3,502.5 L679.3,503.3 L679.4,504.0 L679.5,504.8 L679.6,505.6 L679.6,506.3 L679.7,507.1 L679.8,507.9 L679.8,508.6 L679.9,509.4 L680.0,510.1 L680.1,510.6 L680.1,511.1 L680.2,511.5 L680.3,512.0 L680.3,512.4 L680.4,512.9 L680.5,513.3 L680.6,513.7 L680.6,514.2 L680.7,514.6 L680.8,515.1 L680.9,515.5 L680.9,515.9 L681.0,516.4 L681.1,517.1 L681.1,517.8 L681.2,518.6 L681.3,519.3 L681.4,520.0 L681.4,520.7 L681.5,521.5 L681.6,522.2 L681.7,522.9 L681.7,523.6 L681.8,524.4 L681.9,525.1 L682.0,525.8 L682.0,526.5 L682.1,527.1 L682.2,527.8 L682.3,528.4 L682.3,529.0 L682.4,529.7 L682.5,530.3 L682.6,530.9 L682.7,531.6 L682.7,532.2 L682.8,532.8 L682.9,533.4 L683.0,534.1 L683.0,534.8 L683.1,535.6 L683.2,536.4 L683.3,537.2 L683.4,538.0 L683.4,538.8 L683.5,539.6 L683.6,540.4 L683.7,541.2 L683.7,542.0 L683.8,542.8 L683.9,543.6 L684.0,544.4 L684.1,544.6 L684.1,544.5 L684.2,544.5 L684.3,544.5 L684.4,544.4 L684.5,544.4 L684.5,544.3 L684.6,544.3 L684.7,544.3 L684.8,544.2 L684.9,544.2 L685.0,544.1 L685.0,544.7 L685.1,546.0 L685.2,547.3 L685.3,548.5 L685.4,549.8 L685.5,551.0 L685.5,552.3 L685.6,553.6 L685.7,554.9 L685.8,556.1 L685.9,557.4 L686.0,558.7 L686.0,559.4 L686.1,559.6 L686.2,559.8 L686.3,560.1 L686.4,560.3 L686.5,560.5 L686.6,560.7 L686.7,561.0 L686.7,561.2 L686.8,561.4 L686.9,561.6 L687.0,561.8 L687.1,562.6 L687.2,563.4 L687.3,564.2 L687.4,565.0 L687.4,565.8 L687.5,566.6 L687.6,567.4 L687.7,568.2 L687.8,569.0 L687.9,569.8 L688.0,570.6 L688.1,571.3 L688.2,572.0 L688.3,572.6 L688.3,573.3 L688.4,574.0 L688.5,574.7 L688.6,575.4 L688.7,576.0 L688.8,576.7 L688.9,577.4 L689.0,578.1 L689.1,578.4 L689.2,578.7 L689.3,579.0 L689.4,579.3 L689.5,579.7 L689.6,580.0 L689.7,580.3 L689.8,580.6 L689.9,580.9 L690.0,581.2 L690.1,581.7 L690.1,582.4 L690.2,583.1 L690.3,583.9 L690.4,584.6 L690.5,585.3 L690.6,586.0 L690.7,586.7 L690.8,587.4 L690.9,588.2 L691.0,588.9 L691.1,589.6 L691.2,590.3 L691.3,591.0 L691.4,591.7 L691.5,592.4 L691.6,593.1 L691.7,593.8 L691.9,594.5 L692.0,595.2 L692.1,595.8 L692.2,596.3 L692.3,596.7 L692.4,597.2 L692.5,597.7 L692.6,598.1 L692.7,598.6 L692.8,599.0 L692.9,599.5 L693.0,600.0 L693.1,600.4 L693.2,600.9 L693.4,601.4 L693.5,601.8 L693.6,602.3 L693.7,602.7 L693.8,603.2 L693.9,603.7 L694.0,604.2 L694.1,605.0 L694.3,605.8 L694.4,606.6 L694.5,607.4 L694.6,608.2 L694.7,609.0 L694.9,609.8 L695.0,610.6 L695.1,611.2 L695.2,611.8 L695.3,612.3 L695.5,612.9 L695.6,613.5 L695.7,614.0 L695.8,614.6 L696.0,615.2 L696.1,615.5 L696.2,615.7 L696.3,615.9 L696.5,616.1 L696.6,616.3 L696.7,616.4 L696.9,616.6 L697.0,616.8 L697.1,618.1 L697.3,619.4 L697.4,620.7 L697.5,622.0 L697.7,623.4 L697.8,624.7 L697.9,626.0 L698.1,626.7 L698.2,627.0 L698.4,627.3 L698.5,627.5 L698.7,627.8 L698.8,628.1 L698.9,628.4 L699.1,628.4 L699.2,628.2 L699.4,628.1 L699.5,627.9 L699.7,627.7 L699.8,627.6 L700.0,627.4 L700.1,628.2 L700.3,629.2 L700.4,630.3 L700.6,631.3 L700.7,632.3 L700.8,633.3 L701.0,634.3 L701.1,635.6 L701.3,636.8 L701.4,638.1 L701.5,639.4 L701.7,640.6 L701.8,641.9 L702.0,643.1 L702.1,643.9 L702.2,644.4 L702.3,645.0 L702.5,645.5 L702.6,646.1 L702.7,646.7 L702.8,647.2 L703.0,647.8 L703.1,648.2 L703.2,648.5 L703.3,648.8 L703.4,649.1 L703.5,649.4 L703.6,649.7 L703.7,650.1 L703.8,650.4 L703.9,650.8 L704.0,651.1 L704.1,651.3 L704.2,651.5 L704.4,651.6 L704.5,651.7 L704.7,651.7 L704.8,651.6 L705.0,651.6 L705.2,652.7 L705.5,653.9 L705.7,655.2 L706.0,656.5 L706.3,657.7 L706.6,659.1 L707.0,660.4 L707.4,660.4 L707.8,660.3 L708.2,660.2 L708.7,660.0 L709.1,659.8 L709.6,659.8 L710.1,660.1 L710.6,661.9 L711.2,663.1 L711.7,662.2 L712.3,662.1 L712.9,662.7 L713.5,663.0 L714.1,663.2 L714.6,664.3 L715.2,664.3 L715.7,662.6 L716.1,661.4 L716.6,661.0 L717.0,660.6 L717.4,658.6 L717.8,656.7 L718.2,656.2 L718.5,657.7 L718.9,659.1 L719.2,659.3 L719.5,658.7 L719.8,658.0 L720.1,657.2 L720.4,656.2 L720.7,655.2 L721.0,654.2 L721.3,652.5 L721.5,650.9 L721.8,649.3 L722.0,647.7 L722.2,647.9 L722.4,648.0 L722.7,648.2 L722.9,648.3 L723.1,648.2 L723.3,647.9 L723.5,647.6 L723.7,647.2 L723.9,646.9 L724.0,646.6 L724.2,646.8 L724.4,646.9 L724.6,647.0 L724.8,647.1 L724.9,647.2 L725.1,646.6 L725.3,645.5 L725.5,644.5 L725.6,643.4 L725.8,642.3 L726.0,641.2 L726.2,640.7 L726.3,640.2 L726.5,639.6 L726.7,639.1 L726.9,638.6 L727.0,638.1 L727.2,637.6 L727.4,637.0 L727.6,636.4 L727.7,635.9 L727.9,635.3 L728.1,634.8 L728.3,634.4 L728.4,634.0 L728.6,633.6 L728.8,633.2 L729.0,632.8 L729.1,631.7 L729.3,630.3 L729.5,628.9 L729.7,627.5 L729.8,626.1 L730.0,624.7 L730.2,624.2 L730.4,623.7 L730.5,623.3 L730.7,622.8 L730.9,622.3 L731.0,621.8 L731.2,621.1 L731.4,620.4 L731.6,619.7 L731.7,619.0 L731.9,618.3 L732.1,617.9 L732.3,617.6 L732.4,617.3 L732.6,617.0 L732.8,616.8 L733.0,616.5 L733.1,616.0 L733.3,615.4 L733.5,614.8 L733.7,614.2 L733.8,613.6 L734.0,613.0 L734.2,612.5 L734.3,612.1 L734.5,611.7 L734.7,611.3 L734.9,610.8 L735.0,610.3 L735.2,609.4 L735.4,608.4 L735.5,607.5 L735.7,606.5 L735.9,605.6 L736.1,604.9 L736.2,604.7 L736.4,604.5 L736.6,604.3 L736.7,604.1 L736.9,603.9 L737.1,603.3 L737.3,602.4 L737.4,601.5 L737.6,600.7 L737.8,599.8 L737.9,598.9 L738.1,598.8 L738.3,599.1 L738.4,599.5 L738.6,599.9 L738.8,600.3 L738.9,600.6 L739.1,599.8 L739.3,598.4 L739.4,597.0 L739.6,595.6 L739.8,594.2 L739.9,592.8 L740.1,592.6 L740.3,593.0 L740.4,593.4 L740.6,593.8 L740.8,594.2 L740.9,594.6 L741.1,594.1 L741.3,593.2 L741.4,592.4 L741.6,591.5 L741.8,590.7 L741.9,589.8 L742.1,588.6 L742.3,587.1 L742.4,585.7 L742.6,584.2 L742.7,582.8 L742.9,581.3 L743.1,580.5 L743.2,580.6 L743.4,580.7 L743.6,580.8 L743.7,580.9 L743.9,581.0 L744.0,580.9 L744.2,580.2 L744.4,579.5 L744.5,578.8 L744.7,578.1 L744.8,577.4 L745.0,576.7 L745.2,575.5 L745.3,574.3 L745.5,573.1 L745.6,571.9 L745.8,570.6 L745.9,569.4 L746.1,569.0 L746.3,569.1 L746.4,569.2 L746.6,569.2 L746.7,569.3 L746.9,569.3 L747.0,569.2 L747.2,568.4 L747.3,567.6 L747.5,566.8 L747.7,566.0 L747.8,565.2 L748.0,564.5 L748.1,563.9 L748.3,563.5 L748.4,563.0 L748.6,562.6 L748.7,562.1 L748.9,561.6 L749.0,561.1 L749.2,560.2 L749.3,559.3 L749.5,558.4 L749.6,557.4 L749.8,556.5 L749.9,555.6 L750.1,554.9 L750.2,554.5 L750.4,554.2 L750.5,553.8 L750.6,553.5 L750.8,553.1 L750.9,552.7 L751.1,552.3 L751.2,551.9 L751.4,551.4 L751.5,551.0 L751.7,550.5 L751.8,550.1 L752.0,549.6 L752.1,549.0 L752.2,548.2 L752.4,547.5 L752.5,546.7 L752.7,546.0 L752.8,545.2 L753.0,544.5 L753.1,543.8 L753.2,543.1 L753.4,542.4 L753.5,541.7 L753.7,541.0 L753.8,540.3 L754.0,539.6 L754.1,539.1 L754.2,538.6 L754.4,538.1 L754.5,537.7 L754.7,537.2 L754.8,536.8 L755.0,536.3 L755.1,535.6 L755.2,534.8 L755.4,534.0 L755.5,533.2 L755.7,532.4 L755.8,531.6 L756.0,530.8 L756.1,530.3 L756.2,530.1 L756.4,529.9 L756.5,529.7 L756.7,529.5 L756.8,529.2 L757.0,529.0 L757.1,528.0 L757.2,526.6 L757.4,525.2 L757.5,523.9 L757.7,522.5 L757.8,521.1 L758.0,519.7 L758.1,519.8 L758.3,520.4 L758.4,520.9 L758.6,521.5 L758.7,522.0 L758.8,522.6 L759.0,523.1 L759.1,522.2 L759.3,521.2 L759.4,520.3 L759.6,519.3 L759.7,518.3 L759.9,517.3 L760.0,516.4 L760.2,515.9 L760.3,515.5 L760.5,515.0 L760.6,514.5 L760.8,514.1 L760.9,513.6 L761.1,513.2 L761.2,512.7 L761.4,512.2 L761.5,511.7 L761.7,511.3 L761.9,510.8 L762.0,510.3 L762.2,509.1 L762.3,507.9 L762.5,506.7 L762.6,505.5 L762.8,504.3 L763.0,503.1 L763.1,503.0 L763.3,503.5 L763.4,504.0 L763.6,504.5 L763.8,505.0 L763.9,505.5 L764.1,505.0 L764.2,503.4 L764.4,501.8 L764.6,500.1 L764.7,498.5 L764.9,496.8 L765.1,495.8 L765.2,495.7 L765.4,495.6 L765.6,495.6 L765.7,495.5 L765.9,495.5 L766.1,495.1 L766.2,494.5 L766.4,493.9 L766.6,493.3 L766.8,492.7 L766.9,492.0 L767.1,491.7 L767.3,491.4 L767.5,491.2 L767.6,490.9 L767.8,490.7 L768.0,490.4 L768.2,489.4 L768.4,488.4 L768.5,487.4 L768.7,486.3 L768.9,485.3 L769.1,484.2 L769.3,483.2 L769.5,482.1 L769.7,481.0 L769.8,480.0 L770.0,479.1 L770.2,479.2 L770.4,479.2 L770.6,479.3 L770.8,479.4 L771.0,479.4 L771.2,477.8 L771.4,476.2 L771.6,474.6 L771.8,473.0 L772.0,471.4 L772.2,471.6 L772.4,471.9 L772.6,472.2 L772.8,472.5 L773.0,472.8 L773.2,472.1 L773.4,471.5 L773.6,470.8 L773.8,470.1 L774.0,469.7 L774.3,469.9 L774.5,470.2 L774.7,470.4 L774.9,470.7 L775.1,470.1 L775.3,468.8 L775.5,467.5 L775.8,466.2 L776.0,464.8 L776.2,464.2 L776.4,463.5 L776.7,462.9 L776.9,462.3 L777.1,461.6 L777.3,460.9 L777.6,460.2 L777.8,459.5 L778.0,458.9 L778.3,458.3 L778.5,457.7 L778.7,457.1 L779.0,456.5 L779.2,456.0 L779.4,455.6 L779.7,455.2 L779.9,454.8 L780.2,454.7 L780.4,454.7 L780.7,454.7 L780.9,454.7 L781.2,453.7 L781.4,452.3 L781.7,450.8 L781.9,449.3 L782.2,448.8 L782.4,448.8 L782.7,448.8 L782.9,448.8 L783.2,447.9 L783.5,446.8 L783.7,445.6 L784.0,444.4 L784.3,444.5 L784.5,444.6 L784.8,444.7 L785.1,444.8 L785.3,444.4 L785.6,444.0 L785.9,443.7 L786.1,442.8 L786.4,441.6 L786.7,440.3 L787.0,439.0 L787.3,438.8 L787.5,438.6 L787.8,438.4 L788.1,438.2 L788.4,438.1 L788.7,437.9 L789.0,437.8 L789.3,437.6 L789.6,437.5 L789.9,437.3 L790.2,437.0 L790.4,436.6 L790.7,436.2 L791.0,435.7 L791.4,434.5 L791.7,433.4 L792.0,432.3 L792.3,431.2 L792.6,430.2 L792.9,429.1 L793.2,428.2 L793.5,427.3 L793.8,426.4 L794.1,426.4 L794.5,427.3 L794.8,428.3 L795.1,428.9 L795.4,428.8 L795.7,428.6 L796.1,428.3 L796.4,427.1 L796.7,426.0 L797.1,425.1 L797.4,425.4 L797.7,425.6 L798.1,425.5 L798.4,423.7 L798.7,421.9 L799.1,420.4 L799.4,420.0 L799.8,419.5 L800.1,419.5 L800.5,420.3 L800.8,421.1 L801.2,420.5 L801.5,418.3 L801.9,416.1 L802.2,415.7 L802.6,416.3 L802.9,416.9 L803.3,416.5 L803.7,415.8 L804.0,415.2 L804.4,414.6 L804.8,413.9 L805.1,413.8 L805.5,414.4 L805.9,415.1 L806.3,413.7 L806.6,411.4 L807.0,409.1 L807.4,408.9 L807.8,408.8 L808.2,408.0 L808.5,406.4 L808.9,404.7 L809.3,404.6 L809.7,404.9 L810.1,405.2 L810.5,405.1 L810.9,405.1 L811.3,404.8 L811.7,404.4 L812.1,404.1 L812.5,403.8 L812.9,403.5 L813.3,403.4 L813.7,403.3 L814.1,403.0 L814.5,401.8 L814.9,400.6 L815.4,399.1 L815.8,397.7 L816.2,397.4 L816.6,398.7 L817.0,399.9 L817.5,399.7 L817.9,399.5 L818.3,398.2 L818.7,396.5 L819.2,395.4 L819.6,395.3 L820.0,395.3 L820.5,397.0 L820.9,398.7 L821.3,398.3 L821.8,397.3 L822.2,396.6 L822.7,396.2 L823.1,395.8 L823.6,395.0 L824.0,394.3 L824.5,393.4 L824.9,392.6 L825.4,391.6 L825.8,390.7 L826.3,390.6 L826.7,391.2 L827.2,391.1 L827.7,390.0 L828.1,389.1 L828.6,388.5 L829.1,387.9 L829.5,387.9 L830.0,388.0 L830.5,387.5 L830.9,387.1 L831.4,387.5 L831.9,388.0 L832.4,386.6 L832.8,384.5 L833.3,385.8 L833.8,388.6 L834.3,387.5 L834.8,383.9 L835.3,382.4 L835.8,382.6 L836.3,383.2 L836.7,384.1 L837.2,383.6 L837.7,381.6 L838.2,380.5 L838.7,380.5 L839.2,380.6 L839.7,380.8 L840.2,379.4 L840.7,376.1 L841.3,375.5 L841.8,377.6 L842.3,378.2 L842.8,377.4 L843.3,377.3 L843.8,377.7 L844.3,378.1 L844.8,378.6 L845.4,378.6 L845.9,378.4 L846.4,378.8 L846.9,379.4 L847.4,379.2 L848.0,378.8 L848.5,378.1 L849.0,377.4 L849.6,376.0 L850.1,375.1 L850.6,375.9 L851.2,375.8 L851.7,373.4 L852.2,372.4 L852.8,373.0 L853.3,374.1 L853.9,375.4 L854.4,375.1 L854.9,374.2 L855.5,371.8 L856.0,369.4 L856.6,370.0 L857.1,370.8 L857.7,372.1 L858.2,372.7 L858.8,372.2 L859.3,372.1 L859.9,372.4 L860.4,369.8 L861.0,366.6 L861.5,366.9 L862.1,367.3 L862.7,368.1 L863.2,368.3 L863.8,367.3 L864.3,367.4 L864.9,368.2 L865.5,368.2 L866.0,368.1 L866.6,368.2 L867.2,368.1 L867.7,367.4 L868.3,367.4 L868.9,367.9 L869.4,368.1 L870.0,368.1 L870.6,367.3 L871.1,366.2 L871.7,364.5 L872.3,364.9 L872.9,367.5 L873.4,367.1 L874.0,365.8 L874.6,365.8 L875.1,365.8 L875.7,365.3 L876.3,364.0 L876.9,361.9 L877.5,363.2 L878.0,365.2 L878.6,363.7 L879.2,362.4 L879.8,361.6 L880.3,362.9 L880.9,365.5 L881.5,364.2 L882.1,362.6 L882.7,363.1 L883.3,363.7 L883.8,364.2 L884.4,364.8 L885.0,365.5 L885.6,361.5 L886.2,359.0 L886.8,360.0 L887.3,361.3 L887.9,362.8 L888.5,361.6 L889.1,359.7 L889.7,356.7 L890.3,356.6 L890.8,360.3 L891.4,361.3 L892.0,361.3 L892.6,361.8 L893.2,361.9 L893.8,361.1 L894.4,360.3 L895.0,359.4 L895.6,359.9 L896.1,360.3 L896.7,359.9 L897.3,359.4 L897.9,358.8 L898.5,359.3 L899.1,359.9 L899.7,359.9 L900.3,359.2 L900.9,357.5 L901.5,358.9 L902.0,360.9 L902.6,360.5 L903.2,360.3 L903.8,360.1 L904.4,357.2 L905.0,353.2 L905.6,356.4 L906.2,358.4 L906.8,358.0 L907.4,357.2 L908.0,356.1 L908.6,357.7 L909.2,358.3 L909.8,355.8 L910.3,356.6 L910.9,359.6 L911.5,358.9 L912.1,357.9 L912.7,356.8 L913.3,357.4 L913.9,359.6 L914.5,358.8 L915.1,357.8 L915.7,357.6 L916.3,356.5 L916.9,354.6 L917.5,355.9 L918.1,357.8 L918.7,358.7 L919.3,359.0 L919.9,358.6 L920.5,356.3 L921.1,354.1 L921.7,357.1 L922.3,358.9 L922.9,359.1 L923.5,358.4 L924.0,357.5 L924.6,356.0 L925.2,354.6 L925.8,353.2 L926.4,353.3 L927.0,353.9 L927.6,354.3 L928.2,354.8 L928.8,355.7 L929.4,356.2 L930.0,356.4 L930.6,354.8 L931.2,353.5 L931.8,352.4 L932.4,353.0 L933.0,354.3 L933.6,353.2 L934.2,353.5 L934.8,356.5 L935.4,355.5 L936.0,352.5 L936.6,354.4 L937.2,355.8 L937.8,356.2 L938.4,354.9 L939.0,352.8 L939.6,355.0 L940.2,356.0 L940.8,354.7 L941.4,353.7 L942.0,352.9 L942.6,352.7 L943.2,352.9 L943.8,354.1 L944.4,355.2 L945.0,356.2 L945.6,352.9 L946.2,351.4 L946.8,354.2 L947.4,354.7 L948.0,353.8 L948.6,353.1 L949.2,352.7 L949.8,353.5 L950.4,353.8 L951.0,353.9 L951.6,353.8 L952.2,354.0 L952.8,355.0 L953.4,354.1 L954.0,352.1 L954.6,355.1 L955.2,357.1 L955.8,355.9 L956.4,354.3 L957.0,352.6 L957.6,351.0 L958.2,350.5 L958.8,352.7 L959.4,353.2 L960.0,352.8 L960.6,354.0 L961.2,354.9 L961.8,354.9 L962.4,355.7 L963.0,357.0 L963.6,354.9 L964.2,353.4 L964.8,354.5 L965.4,354.0 L966.0,352.6 L966.6,352.6 L967.2,353.2 L967.8,355.4 L968.4,355.1 L969.0,353.1 L969.6,353.0 L970.2,352.9 L970.8,352.7 L971.4,353.0 L972.0,353.8 L972.6,354.1 L973.2,354.1 L973.8,353.2 L974.4,352.2 L975.0,351.0 L975.6,352.5 L976.2,353.4 L976.8,352.0 L977.4,351.8 L978.0,352.3 L978.6,353.0 L979.2,353.4 L979.8,353.5 L980.4,351.7 L981.0,348.8 L981.6,352.8 L982.2,355.9 L982.8,354.9 L983.4,355.2 L984.0,356.5 L984.6,357.2 L985.2,356.7 L985.8,352.7 L986.4,351.3 L987.0,351.7 L987.6,352.6 L988.2,353.5 L988.8,354.3 L989.4,353.6 L990.0,351.9 L990.6,352.0 L991.2,352.5 L991.8,354.1 L992.4,353.4 L993.0,351.1 L993.6,352.1 L994.2,353.3 L994.8,354.3 L995.4,353.8 L996.0,352.2 L996.6,353.1 L997.2,353.8 L997.8,352.7 L998.4,351.3 L999.0,349.6 L999.6,350.5 L1000.2,351.5 L1000.7,351.8 L1001.3,351.9 L1001.9,351.7 L1002.5,352.1 L1003.1,352.5 L1003.7,352.9 L1004.3,353.0 L1004.9,352.8 L1005.5,352.7 L1006.1,352.4 L1006.7,351.6 L1007.3,351.5 L1007.9,351.7 L1008.5,351.5 L1009.1,351.3 L1009.7,351.0 L1010.3,352.2 L1010.9,354.4 L1011.5,351.2 L1012.1,348.9 L1012.7,351.3 L1013.3,351.1 L1013.9,348.9 L1014.5,349.8 L1015.1,351.0 L1015.7,352.6 L1016.3,352.6 L1016.9,351.3 L1017.5,352.9 L1018.1,353.7 L1018.7,351.0 L1019.3,350.2 L1019.9,351.0 L1020.5,350.7 L1021.1,350.5 L1021.7,351.2 L1022.3,351.3 L1022.9,350.9 L1023.5,350.8 L1024.1,350.8 L1024.7,351.3 L1025.3,352.2 L1025.9,353.3 L1026.5,352.4 L1027.1,351.5 L1027.7,351.4 L1028.3,351.1 L1028.9,350.7 L1029.5,350.2 L1030.1,349.6 L1030.7,348.7 L1031.3,348.6 L1031.9,349.0 L1032.5,350.1 L1033.1,350.6 L1033.7,348.3 L1034.3,348.9 L1034.9,351.8 L1035.5,351.0 L1036.1,349.9 L1036.7,349.3 L1037.3,349.3 L1037.9,349.7 L1038.5,350.9 L1039.1,351.9 L1039.7,351.6 L1040.3,351.3 L1040.9,351.2 L1041.5,352.7 L1042.1,354.2 L1042.7,354.8 L1043.3,352.9 L1043.9,348.7 L1044.5,350.4 L1045.1,351.9 L1045.7,350.0 L1046.3,348.8 L1046.9,348.1 L1047.5,348.9 L1048.1,350.0 L1048.7,351.8 L1049.3,351.7 L1049.9,350.2 L1050.5,349.9 L1051.1,350.2 L1051.7,352.3 L1052.3,352.8 L1052.9,351.7 L1053.5,351.0 L1054.1,350.9 L1054.7,353.1 L1055.3,353.3 L1055.9,351.8 L1056.5,350.4 L1057.1,349.2 L1057.7,348.7 L1058.3,349.0 L1058.9,349.7 L1059.5,350.4 L1060.1,351.1 L1060.7,352.0 L1061.3,352.3 L1061.9,352.2 L1062.5,351.5 L1063.1,350.5 L1063.7,349.0" fill="none" stroke="#00ff00" stroke-width="3.6" stroke-linejoin="round" stroke-linecap="round"/>
<path d="M148.0,335.3 L148.6,335.5 L149.2,335.5 L149.8,335.2 L150.4,334.9 L151.0,334.6 L151.6,334.7 L152.2,334.9 L152.8,335.4 L153.4,335.4 L154.0,335.1 L154.6,334.7 L155.2,334.6 L155.8,334.9 L156.4,334.9 L157.0,334.7 L157.6,334.8 L158.2,334.9 L158.8,334.9 L159.4,334.9 L160.0,334.9 L160.6,335.1 L161.2,335.3 L161.8,335.2 L162.4,335.0 L163.0,334.9 L163.6,335.2 L164.2,335.3 L164.8,335.4 L165.4,335.1 L166.0,334.6 L166.6,334.9 L167.2,335.0 L167.8,334.9 L168.4,334.9 L169.0,335.1 L169.6,334.9 L170.2,334.8 L170.8,335.1 L171.4,335.2 L172.0,335.2 L172.6,335.1 L173.2,335.0 L173.8,334.9 L174.4,334.9 L175.0,335.1 L175.6,334.9 L176.2,334.8 L176.8,334.8 L177.4,335.0 L178.0,335.3 L178.6,335.0 L179.2,335.0 L179.8,335.5 L180.4,335.6 L181.0,335.5 L181.6,334.9 L182.2,334.7 L182.8,335.2 L183.4,335.1 L184.0,334.8 L184.6,335.1 L185.2,335.2 L185.8,335.2 L186.4,335.0 L187.0,334.5 L187.6,334.9 L188.2,335.1 L188.8,335.1 L189.4,335.3 L190.0,335.5 L190.6,335.1 L191.2,334.9 L191.8,335.3 L192.4,335.2 L193.0,334.8 L193.6,335.0 L194.2,335.0 L194.8,334.9 L195.4,335.2 L196.0,335.7 L196.6,335.5 L197.2,335.5 L197.8,335.9 L198.4,335.8 L199.0,335.4 L199.6,335.4 L200.2,335.5 L200.8,335.5 L201.4,335.2 L202.0,334.9 L202.6,335.0 L203.2,335.2 L203.8,335.5 L204.4,335.4 L205.0,335.0 L205.6,335.1 L206.2,335.2 L206.8,335.1 L207.4,335.2 L208.0,335.3 L208.6,335.1 L209.2,335.0 L209.8,335.0 L210.4,335.1 L211.0,335.1 L211.6,335.1 L212.2,335.0 L212.8,334.8 L213.4,335.0 L214.0,335.3 L214.6,334.9 L215.2,334.6 L215.8,334.6 L216.4,334.6 L217.0,334.5 L217.6,335.0 L218.2,335.2 L218.8,334.9 L219.4,334.7 L220.0,334.6 L220.6,334.6 L221.2,334.6 L221.8,334.9 L222.4,334.8 L223.0,334.5 L223.6,334.5 L224.2,334.6 L224.8,334.9 L225.4,334.8 L226.0,334.4 L226.6,334.6 L227.2,334.7 L227.8,334.8 L228.4,334.7 L229.0,334.6 L229.6,334.7 L230.2,334.8 L230.8,335.1 L231.4,334.9 L232.0,334.5 L232.6,334.4 L233.2,334.2 L233.8,334.1 L234.4,334.2 L235.0,334.6 L235.6,334.5 L236.2,334.5 L236.8,334.6 L237.4,334.6 L238.0,334.4 L238.6,334.4 L239.2,334.4 L239.8,334.3 L240.4,334.3 L241.0,334.3 L241.6,334.4 L242.2,334.5 L242.8,334.3 L243.4,334.4 L244.0,334.4 L244.6,334.8 L245.2,334.9 L245.8,334.6 L246.4,334.2 L247.0,333.8 L247.6,334.4 L248.2,334.8 L248.8,334.5 L249.4,334.2 L250.0,333.9 L250.6,334.3 L251.2,334.4 L251.8,334.2 L252.4,334.1 L253.0,333.9 L253.6,333.9 L254.2,333.8 L254.8,333.7 L255.4,333.8 L256.0,334.0 L256.6,334.2 L257.2,334.3 L257.8,333.9 L258.4,333.9 L259.0,334.0 L259.6,334.3 L260.2,334.3 L260.8,333.7 L261.4,333.6 L262.0,333.9 L262.6,333.7 L263.2,333.6 L263.8,333.4 L264.4,333.3 L265.0,333.3 L265.6,333.5 L266.2,333.6 L266.8,333.7 L267.4,333.6 L268.0,333.4 L268.6,333.4 L269.2,333.5 L269.8,333.7 L270.4,333.6 L271.0,333.5 L271.6,333.6 L272.2,333.6 L272.8,333.5 L273.4,333.5 L274.0,333.4 L274.6,333.7 L275.2,333.8 L275.8,333.5 L276.4,333.3 L277.0,333.2 L277.6,333.3 L278.2,333.2 L278.8,332.9 L279.4,332.8 L280.0,332.8 L280.6,333.0 L281.2,333.2 L281.8,333.1 L282.4,333.2 L283.0,333.3 L283.6,333.0 L284.2,332.7 L284.8,332.3 L285.4,332.6 L286.0,333.3 L286.6,333.1 L287.2,332.9 L287.7,332.4 L288.3,332.4 L288.9,332.9 L289.5,332.7 L290.1,332.3 L290.7,331.9 L291.3,331.9 L291.9,332.1 L292.5,332.1 L293.1,332.2 L293.7,332.6 L294.3,332.4 L294.9,331.9 L295.5,331.9 L296.1,332.0 L296.7,331.9 L297.3,331.9 L297.9,331.8 L298.5,331.7 L299.1,331.6 L299.7,331.8 L300.3,332.0 L300.9,332.1 L301.5,332.0 L302.1,331.8 L302.7,331.4 L303.3,331.2 L303.9,331.1 L304.5,331.3 L305.1,331.5 L305.7,331.3 L306.3,331.1 L306.9,331.1 L307.5,330.9 L308.1,330.8 L308.7,331.5 L309.3,331.7 L309.9,331.5 L310.5,331.1 L311.1,330.8 L311.7,331.1 L312.3,331.3 L312.9,331.3 L313.5,330.7 L314.1,330.0 L314.7,330.4 L315.3,330.5 L315.9,330.5 L316.5,330.7 L317.1,330.8 L317.7,330.6 L318.3,330.4 L318.9,330.3 L319.5,330.3 L320.1,330.4 L320.7,330.7 L321.3,330.9 L321.9,330.9 L322.5,330.5 L323.1,329.9 L323.7,329.8 L324.3,330.0 L324.9,330.7 L325.5,330.2 L326.1,329.5 L326.6,329.5 L327.2,329.6 L327.8,329.7 L328.4,329.7 L329.0,329.7 L329.6,329.8 L330.2,329.8 L330.8,329.6 L331.4,329.3 L332.0,329.0 L332.6,329.2 L333.2,329.3 L333.8,329.2 L334.4,329.4 L335.0,329.7 L335.6,329.2 L336.2,328.8 L336.8,328.5 L337.4,328.4 L338.0,328.4 L338.6,328.8 L339.2,329.0 L339.8,328.5 L340.4,328.1 L341.0,327.7 L341.6,328.0 L342.2,328.2 L342.8,328.2 L343.4,328.4 L344.0,328.6 L344.6,328.1 L345.2,327.8 L345.8,328.1 L346.4,328.2 L347.0,328.1 L347.6,327.8 L348.1,327.5 L348.7,327.5 L349.3,327.8 L349.9,328.1 L350.5,328.1 L351.1,328.0 L351.7,327.7 L352.3,327.5 L352.9,327.3 L353.5,327.4 L354.1,327.4 L354.7,327.1 L355.3,326.9 L355.9,326.8 L356.5,326.6 L357.1,326.5 L357.7,326.6 L358.3,326.6 L358.9,326.5 L359.5,326.9 L360.1,327.3 L360.7,326.6 L361.3,326.3 L361.9,326.6 L362.5,326.6 L363.1,326.5 L363.7,326.1 L364.2,326.0 L364.8,326.2 L365.4,325.7 L366.0,325.0 L366.6,325.4 L367.2,325.6 L367.8,325.7 L368.4,325.2 L369.0,324.5 L369.6,324.7 L370.2,324.9 L370.8,325.3 L371.4,325.2 L372.0,324.9 L372.6,324.6 L373.2,324.5 L373.8,324.5 L374.4,324.5 L375.0,324.4 L375.6,324.5 L376.2,324.6 L376.7,324.5 L377.3,324.3 L377.9,324.1 L378.5,323.9 L379.1,323.8 L379.7,323.8 L380.3,324.0 L380.9,324.2 L381.5,323.9 L382.1,323.7 L382.7,323.7 L383.3,323.5 L383.9,323.3 L384.5,323.0 L385.1,322.7 L385.7,322.7 L386.2,322.8 L386.8,323.0 L387.4,322.9 L388.0,322.7 L388.6,322.4 L389.2,322.1 L389.8,321.8 L390.4,321.9 L391.0,322.1 L391.6,322.0 L392.2,321.8 L392.7,321.7 L393.3,321.6 L393.9,321.5 L394.5,321.4 L395.1,321.4 L395.7,321.3 L396.3,321.3 L396.9,321.3 L397.5,321.2 L398.0,321.1 L398.6,321.0 L399.2,320.9 L399.8,320.7 L400.4,320.3 L401.0,320.0 L401.6,319.9 L402.1,319.8 L402.7,319.8 L403.3,319.6 L403.9,319.3 L404.5,319.3 L405.1,319.3 L405.6,319.3 L406.2,319.0 L406.8,318.5 L407.4,318.1 L407.9,317.7 L408.5,318.1 L409.1,318.4 L409.7,317.9 L410.3,317.7 L410.8,317.7 L411.4,317.3 L412.0,316.7 L412.5,317.1 L413.1,317.3 L413.7,316.9 L414.3,316.6 L414.8,316.2 L415.4,315.9 L416.0,315.7 L416.5,315.6 L417.1,315.4 L417.7,315.2 L418.2,314.9 L418.8,314.7 L419.3,314.4 L419.9,314.0 L420.5,314.1 L421.0,314.3 L421.6,313.9 L422.1,313.4 L422.7,313.2 L423.2,313.0 L423.8,312.8 L424.3,312.2 L424.9,311.5 L425.4,311.6 L426.0,311.9 L426.5,311.5 L427.1,311.1 L427.6,310.9 L428.1,310.7 L428.7,310.5 L429.2,310.2 L429.8,309.7 L430.3,309.5 L430.8,309.6 L431.4,309.2 L431.9,308.7 L432.4,308.3 L433.0,308.0 L433.5,307.7 L434.0,307.4 L434.5,307.3 L435.1,307.2 L435.6,307.0 L436.1,306.7 L436.6,306.2 L437.1,305.7 L437.6,305.2 L438.2,304.9 L438.7,305.1 L439.2,304.9 L439.7,304.2 L440.2,303.8 L440.7,303.9 L441.2,303.7 L441.7,303.2 L442.2,302.7 L442.7,302.2 L443.2,301.8 L443.7,301.5 L444.2,301.2 L444.7,301.1 L445.2,300.9 L445.7,300.6 L446.2,300.3 L446.7,299.7 L447.1,299.3 L447.6,299.1 L448.1,299.0 L448.6,298.8 L449.1,298.5 L449.5,297.8 L450.0,297.1 L450.5,296.5 L451.0,296.0 L451.4,295.6 L451.9,295.3 L452.4,294.9 L452.8,294.4 L453.3,294.1 L453.8,293.8 L454.2,293.5 L454.7,293.1 L455.1,292.7 L455.6,292.2 L456.0,291.7 L456.5,291.6 L456.9,291.5 L457.4,290.7 L457.8,289.9 L458.3,289.4 L458.7,289.2 L459.1,289.1 L459.6,289.2 L460.0,289.2 L460.5,288.7 L460.9,288.1 L461.3,287.6 L461.7,287.1 L462.2,286.6 L462.6,286.2 L463.0,285.8 L463.4,285.5 L463.9,285.3 L464.3,284.8 L464.7,284.2 L465.1,283.6 L465.5,283.1 L465.9,282.6 L466.3,282.0 L466.7,281.4 L467.1,280.9 L467.5,280.6 L467.9,280.3 L468.3,279.8 L468.7,279.2 L469.1,278.7 L469.5,278.3 L469.9,277.8 L470.3,277.4 L470.7,276.9 L471.1,276.5 L471.5,276.1 L471.8,275.7 L472.2,275.3 L472.6,274.8 L473.0,274.3 L473.3,273.9 L473.7,273.6 L474.1,273.2 L474.4,272.4 L474.8,271.7 L475.2,271.1 L475.5,270.8 L475.9,270.4 L476.2,270.2 L476.6,269.9 L476.9,269.7 L477.3,269.1 L477.6,268.4 L478.0,267.7 L478.3,267.3 L478.6,266.9 L479.0,266.6 L479.3,266.1 L479.7,265.6 L480.0,265.0 L480.3,264.6 L480.6,264.1 L481.0,263.6 L481.3,263.0 L481.6,262.5 L481.9,261.9 L482.2,261.2 L482.5,260.4 L482.9,259.7 L483.2,259.1 L483.5,258.7 L483.8,258.3 L484.1,257.9 L484.4,257.4 L484.7,256.8 L485.0,256.3 L485.3,255.7 L485.5,255.0 L485.8,254.4 L486.1,253.8 L486.4,253.4 L486.7,253.0 L486.9,252.6 L487.2,252.0 L487.5,251.4 L487.8,250.8 L488.0,250.2 L488.3,249.6 L488.6,249.0 L488.8,248.4 L489.1,247.9 L489.3,247.5 L489.6,247.1 L489.8,246.8 L490.1,246.3 L490.3,245.8 L490.6,245.2 L490.8,244.6 L491.0,244.0 L491.3,243.4 L491.5,242.8 L491.7,242.2 L492.0,241.6 L492.2,241.0 L492.4,240.4 L492.6,239.9 L492.8,239.3 L493.1,238.7 L493.3,238.2 L493.5,237.7 L493.7,237.1 L493.9,236.6 L494.1,236.1 L494.3,235.5 L494.5,235.0 L494.7,234.4 L494.9,233.8 L495.1,233.3 L495.3,232.7 L495.5,232.1 L495.7,231.6 L495.9,231.0 L496.1,230.4 L496.3,229.9 L496.5,229.4 L496.7,228.8 L496.9,228.3 L497.0,227.7 L497.2,227.1 L497.4,226.5 L497.6,225.9 L497.8,225.3 L498.0,224.7 L498.1,224.2 L498.3,223.7 L498.5,223.1 L498.7,222.6 L498.9,222.1 L499.0,221.6 L499.2,221.0 L499.4,220.4 L499.6,219.9 L499.7,219.3 L499.9,218.8 L500.1,218.2 L500.3,217.6 L500.4,217.0 L500.6,216.4 L500.8,215.8 L501.0,215.3 L501.1,214.6 L501.3,214.0 L501.5,213.4 L501.7,212.7 L501.9,212.1 L502.0,211.5 L502.2,210.9 L502.4,210.3 L502.6,209.8 L502.8,209.2 L502.9,208.6 L503.1,208.1 L503.3,207.6 L503.5,207.1 L503.7,206.6 L503.9,206.1 L504.0,205.5 L504.2,204.9 L504.4,204.3 L504.6,203.7 L504.8,203.1 L505.0,202.5 L505.2,201.9 L505.4,201.4 L505.6,200.8 L505.8,200.3 L506.0,199.7 L506.2,199.0 L506.4,198.3 L506.6,197.5 L506.8,196.8 L507.0,196.0 L507.2,195.4 L507.4,194.9 L507.6,194.3 L507.8,193.7 L508.0,193.2 L508.2,192.8 L508.5,192.5 L508.7,192.2 L508.9,191.8 L509.1,191.4 L509.3,190.8 L509.5,190.3 L509.7,189.7 L509.9,189.2 L510.2,188.7 L510.4,188.2 L510.6,187.7 L510.8,187.2 L511.0,186.7 L511.2,186.1 L511.4,185.5 L511.6,184.9 L511.8,184.3 L512.0,183.7 L512.2,183.1 L512.4,182.5 L512.6,181.9 L512.8,181.3 L513.0,180.7 L513.2,180.1 L513.4,179.5 L513.6,178.9 L513.8,178.3 L514.0,177.7 L514.2,177.1 L514.3,176.4 L514.5,175.8 L514.7,175.1 L514.9,174.4 L515.0,173.8 L515.2,173.4 L515.4,172.9 L515.5,172.5 L515.7,172.0 L515.8,171.6 L516.0,171.1 L516.1,170.5 L516.3,169.8 L516.4,169.2 L516.6,168.5 L516.7,167.9 L516.9,167.2 L517.0,166.5 L517.1,166.0 L517.3,165.5 L517.4,164.9 L517.5,164.4 L517.7,163.9 L517.8,163.3 L517.9,162.8 L518.0,162.2 L518.2,161.6 L518.3,161.0 L518.4,160.4 L518.6,159.8 L518.7,159.2 L518.8,158.6 L518.9,158.0 L519.1,157.4 L519.2,156.9 L519.3,156.3 L519.4,155.7 L519.5,155.1 L519.7,154.5 L519.8,153.9 L519.9,153.4 L520.1,152.8 L520.2,152.2 L520.3,151.7 L520.4,151.1 L520.6,150.5 L520.7,150.0 L520.8,149.4 L521.0,148.9 L521.1,148.3 L521.2,147.6 L521.4,147.0 L521.5,146.3 L521.6,145.7 L521.8,145.0 L521.9,144.4 L522.1,143.7 L522.2,143.2 L522.4,142.6 L522.5,142.0 L522.7,141.4 L522.8,140.9 L523.0,140.3 L523.2,139.7 L523.3,139.1 L523.5,138.5 L523.7,137.9 L523.9,137.3 L524.0,136.7 L524.2,136.1 L524.4,135.6 L524.6,135.1 L524.8,134.5 L525.0,134.0 L525.2,133.6 L525.4,133.2 L525.6,132.7 L525.8,132.3 L526.0,131.9 L526.2,131.2 L526.5,130.5 L526.7,129.7 L526.9,129.0 L527.1,128.5 L527.3,128.0 L527.6,127.6 L527.8,127.2 L528.0,126.7 L528.2,126.1 L528.5,125.5 L528.7,125.0 L528.9,124.4 L529.2,123.8 L529.4,123.2 L529.6,122.7 L529.8,122.1 L530.1,121.6 L530.3,121.0 L530.5,120.5 L530.8,119.9 L531.0,119.4 L531.2,118.7 L531.4,118.0 L531.7,117.3 L531.9,116.6 L532.1,116.0 L532.3,115.6 L532.6,115.1 L532.8,114.7 L533.0,114.2 L533.2,113.8 L533.5,113.3 L533.7,112.9 L534.0,112.4 L534.2,111.7 L534.5,111.0 L534.8,110.2 L535.1,109.5 L535.4,109.1 L535.7,108.6 L536.1,108.2 L536.4,107.7 L536.8,107.1 L537.3,106.8 L537.8,106.6 L538.3,106.3 L538.8,105.8 L539.4,105.9 L540.0,106.4 L540.6,106.0 L541.2,105.8 L541.8,105.7 L542.4,106.2 L542.9,107.1 L543.4,107.4 L544.0,107.5 L544.5,107.8 L544.9,108.1 L545.4,108.4 L545.8,108.9 L546.3,109.2 L546.7,109.5 L547.0,109.9 L547.4,110.4 L547.7,110.9 L548.1,111.4 L548.4,112.0 L548.7,112.7 L549.0,113.3 L549.2,113.8 L549.5,114.4 L549.7,115.0 L550.0,115.5 L550.2,116.1 L550.5,116.6 L550.7,117.2 L550.9,117.8 L551.1,118.3 L551.3,118.8 L551.6,119.3 L551.8,119.8 L552.0,120.3 L552.2,120.8 L552.4,121.3 L552.7,121.8 L552.9,122.3 L553.1,122.9 L553.3,123.4 L553.5,124.0 L553.7,124.6 L553.9,125.2 L554.1,125.8 L554.4,126.5 L554.6,127.1 L554.8,127.8 L555.0,128.5 L555.2,129.0 L555.4,129.6 L555.6,130.2 L555.8,130.8 L556.0,131.4 L556.2,131.8 L556.4,132.3 L556.6,132.7 L556.8,133.1 L557.0,133.6 L557.2,134.1 L557.4,134.7 L557.6,135.3 L557.8,135.8 L558.0,136.4 L558.2,137.1 L558.4,137.8 L558.6,138.4 L558.8,139.1 L559.0,139.8 L559.2,140.4 L559.4,140.9 L559.5,141.4 L559.7,142.0 L559.9,142.5 L560.1,143.1 L560.3,143.6 L560.5,144.2 L560.7,144.8 L560.9,145.3 L561.1,145.9 L561.2,146.3 L561.4,146.7 L561.6,147.2 L561.8,147.6 L562.0,148.0 L562.2,148.7 L562.4,149.3 L562.6,149.9 L562.7,150.6 L562.9,151.2 L563.1,151.8 L563.3,152.3 L563.5,152.9 L563.7,153.5 L563.9,154.0 L564.1,154.6 L564.2,155.2 L564.4,155.8 L564.6,156.5 L564.8,157.1 L565.0,157.7 L565.2,158.1 L565.4,158.6 L565.6,159.0 L565.8,159.5 L566.0,159.9 L566.2,160.6 L566.3,161.4 L566.5,162.1 L566.7,162.9 L566.9,163.7 L567.1,164.3 L567.3,164.8 L567.5,165.3 L567.7,165.8 L567.9,166.3 L568.1,166.8 L568.3,167.4 L568.5,167.9 L568.7,168.5 L569.0,169.1 L569.2,169.6 L569.4,170.0 L569.6,170.5 L569.8,170.9 L570.0,171.3 L570.2,172.0 L570.4,172.6 L570.7,173.3 L570.9,173.9 L571.1,174.6 L571.3,175.2 L571.5,175.9 L571.8,176.6 L572.0,177.2 L572.2,177.6 L572.5,177.9 L572.7,178.2 L572.9,178.5 L573.2,179.1 L573.4,179.8 L573.7,180.5 L573.9,181.2 L574.2,181.8 L574.4,182.4 L574.7,183.0 L575.0,183.6 L575.2,184.0 L575.5,184.4 L575.8,184.8 L576.0,185.3 L576.3,185.9 L576.6,186.6 L576.9,187.3 L577.2,187.8 L577.5,188.2 L577.8,188.6 L578.1,189.1 L578.4,189.8 L578.7,190.4 L579.0,191.1 L579.4,191.5 L579.7,191.9 L580.0,192.4 L580.4,192.8 L580.7,193.3 L581.1,193.8 L581.4,194.5 L581.8,195.2 L582.1,195.7 L582.5,196.1 L582.9,196.4 L583.3,196.8 L583.7,197.3 L584.1,197.8 L584.5,197.9 L584.9,198.0 L585.3,198.4 L585.7,198.9 L586.1,199.4 L586.5,200.1 L587.0,200.7 L587.4,201.1 L587.9,201.5 L588.3,201.8 L588.8,202.0 L589.3,202.4 L589.7,202.9 L590.2,203.2 L590.7,203.3 L591.2,203.5 L591.7,204.1 L592.2,204.5 L592.7,204.6 L593.2,204.8 L593.7,205.4 L594.2,205.8 L594.7,205.9 L595.3,206.1 L595.8,206.4 L596.3,206.7 L596.8,207.1 L597.4,207.7 L597.9,208.3 L598.5,208.1 L599.0,207.8 L599.6,208.2 L600.1,208.5 L600.7,209.1 L601.2,209.4 L601.8,209.3 L602.3,209.7 L602.9,210.4 L603.5,210.4 L604.0,210.3 L604.6,210.5 L605.1,210.7 L605.7,210.9 L606.3,211.3 L606.8,211.8 L607.4,211.9 L608.0,211.8 L608.6,212.0 L609.1,212.2 L609.7,212.3 L610.3,212.3 L610.8,212.2 L611.4,212.4 L611.9,212.7 L612.5,213.4 L613.0,214.1 L613.5,214.2 L614.1,214.4 L614.6,214.7 L615.1,215.0 L615.6,215.3 L616.1,215.7 L616.5,215.8 L617.0,216.0 L617.5,216.5 L617.9,217.1 L618.4,217.3 L618.8,217.5 L619.2,218.0 L619.7,218.6 L620.1,219.2 L620.5,219.5 L620.9,219.8 L621.3,220.2 L621.7,220.7 L622.0,221.3 L622.4,221.8 L622.8,222.4 L623.1,222.9 L623.5,223.3 L623.8,223.7 L624.2,224.2 L624.5,224.8 L624.9,225.4 L625.2,225.9 L625.5,226.4 L625.9,226.9 L626.2,227.4 L626.5,227.9 L626.8,228.4 L627.1,228.9 L627.4,229.5 L627.7,230.2 L628.1,230.7 L628.4,230.9 L628.7,231.1 L629.0,231.4 L629.3,231.8 L629.5,232.4 L629.8,232.9 L630.1,233.5 L630.4,234.2 L630.7,235.0 L631.0,235.7 L631.3,236.3 L631.5,236.9 L631.8,237.4 L632.1,238.0 L632.3,238.7 L632.6,239.3 L632.9,239.9 L633.1,240.5 L633.4,240.9 L633.6,241.3 L633.9,241.8 L634.1,242.3 L634.4,242.8 L634.6,243.4 L634.9,243.9 L635.1,244.4 L635.4,244.8 L635.6,245.2 L635.8,245.6 L636.1,246.1 L636.3,246.8 L636.5,247.5 L636.8,248.2 L637.0,248.9 L637.2,249.4 L637.4,250.0 L637.6,250.5 L637.8,251.1 L638.1,251.6 L638.3,252.0 L638.5,252.5 L638.7,252.9 L638.9,253.4 L639.1,253.9 L639.3,254.4 L639.5,255.0 L639.7,255.6 L639.9,256.2 L640.1,256.8 L640.3,257.4 L640.4,258.0 L640.6,258.6 L640.8,259.3 L641.0,259.9 L641.2,260.5 L641.4,261.1 L641.5,261.7 L641.7,262.3 L641.9,262.9 L642.1,263.4 L642.2,263.8 L642.4,264.2 L642.6,264.6 L642.7,265.0 L642.9,265.3 L643.0,265.8 L643.2,266.6 L643.4,267.3 L643.5,268.1 L643.7,268.8 L643.8,269.6 L644.0,270.3 L644.1,270.9 L644.3,271.5 L644.4,272.1 L644.6,272.7 L644.7,273.3 L644.9,273.9 L645.0,274.5 L645.1,275.0 L645.3,275.6 L645.4,276.1 L645.6,276.7 L645.7,277.3 L645.8,277.8 L646.0,278.4 L646.1,279.0 L646.2,279.6 L646.4,280.2 L646.5,280.8 L646.6,281.4 L646.7,282.0 L646.9,282.6 L647.0,283.2 L647.1,283.8 L647.2,284.4 L647.4,285.0 L647.5,285.6 L647.6,286.2 L647.7,286.8 L647.8,287.4 L648.0,288.0 L648.1,288.6 L648.2,289.1 L648.3,289.6 L648.4,290.2 L648.5,290.7 L648.6,291.2 L648.8,291.7 L648.9,292.3 L649.0,292.8 L649.1,293.4 L649.2,294.1 L649.3,294.7 L649.4,295.4 L649.5,296.0 L649.6,296.7 L649.7,297.3 L649.8,297.9 L649.9,298.6 L650.0,299.2 L650.1,299.8 L650.2,300.3 L650.3,300.9 L650.4,301.5 L650.5,302.0 L650.6,302.6 L650.7,303.2 L650.8,303.7 L650.9,304.3 L651.0,304.9 L651.1,305.4 L651.2,306.0 L651.3,306.6 L651.4,307.2 L651.5,307.7 L651.6,308.3 L651.7,308.9 L651.8,309.4 L651.9,310.0 L652.0,310.6 L652.1,311.2 L652.2,311.8 L652.2,312.4 L652.3,313.1 L652.4,313.7 L652.5,314.3 L652.6,315.0 L652.7,315.6 L652.8,316.2 L652.9,316.8 L652.9,317.5 L653.0,318.1 L653.1,318.7 L653.2,319.4 L653.3,320.0 L653.4,320.6 L653.4,321.3 L653.5,321.9 L653.6,322.5 L653.7,323.2 L653.8,323.8 L653.9,324.4 L653.9,325.1 L654.0,325.7 L654.1,326.2 L654.2,326.7 L654.3,327.2 L654.3,327.7 L654.4,328.2 L654.5,328.7 L654.6,329.3 L654.6,329.8 L654.7,330.3 L654.8,330.8 L654.9,331.3 L654.9,331.8 L655.0,332.4 L655.1,333.0 L655.2,333.6 L655.2,334.1 L655.3,334.7 L655.4,335.3 L655.5,335.9 L655.5,336.5 L655.6,337.1 L655.7,337.7 L655.8,338.3 L655.8,338.9 L655.9,339.5 L656.0,340.1 L656.1,340.6 L656.1,341.2 L656.2,341.8 L656.3,342.4 L656.3,343.0 L656.4,343.6 L656.5,344.2 L656.6,344.8 L656.6,345.4 L656.7,346.0 L656.8,346.6 L656.8,347.2 L656.9,347.8 L657.0,348.4 L657.1,349.1 L657.1,349.8 L657.2,350.4 L657.3,351.1 L657.3,351.8 L657.4,352.5 L657.5,353.2 L657.6,353.9 L657.6,354.6 L657.7,355.2 L657.8,355.9 L657.8,356.6 L657.9,357.3 L658.0,358.0 L658.1,358.6 L658.1,359.1 L658.2,359.6 L658.3,360.2 L658.3,360.7 L658.4,361.3 L658.5,361.8 L658.5,362.3 L658.6,362.9 L658.7,363.4 L658.8,364.0 L658.8,364.5 L658.9,365.0 L659.0,365.6 L659.0,366.2 L659.1,366.8 L659.2,367.4 L659.3,368.0 L659.3,368.6 L659.4,369.2 L659.5,369.8 L659.5,370.4 L659.6,371.0 L659.7,371.6 L659.8,372.2 L659.8,372.8 L659.9,373.4 L660.0,374.0 L660.1,374.6 L660.1,375.1 L660.2,375.7 L660.3,376.3 L660.4,376.9 L660.4,377.4 L660.5,378.0 L660.6,378.6 L660.6,379.2 L660.7,379.7 L660.8,380.3 L660.9,380.9 L660.9,381.5 L661.0,382.1 L661.1,382.6 L661.2,383.2 L661.2,383.8 L661.3,384.4 L661.4,385.0 L661.5,385.6 L661.5,386.2 L661.6,386.8 L661.7,387.4 L661.8,388.0 L661.8,388.6 L661.9,389.1 L662.0,389.7 L662.1,390.3 L662.1,390.9 L662.2,391.4 L662.3,392.0 L662.4,392.6 L662.4,393.1 L662.5,393.7 L662.6,394.3 L662.7,394.8 L662.7,395.4 L662.8,396.0 L662.9,396.5 L663.0,397.1 L663.1,397.7 L663.1,398.4 L663.2,399.0 L663.3,399.7 L663.4,400.3 L663.4,401.0 L663.5,401.7 L663.6,402.3 L663.7,403.0 L663.7,403.6 L663.8,404.3 L663.9,404.9 L664.0,405.6 L664.0,406.2 L664.1,406.8 L664.2,407.4 L664.3,408.0 L664.3,408.6 L664.4,409.2 L664.5,409.8 L664.6,410.4 L664.7,411.0 L664.7,411.6 L664.8,412.2 L664.9,412.8 L665.0,413.4 L665.0,413.9 L665.1,414.5 L665.2,415.0 L665.3,415.5 L665.3,416.1 L665.4,416.6 L665.5,417.1 L665.6,417.7 L665.7,418.2 L665.7,418.7 L665.8,419.3 L665.9,419.8 L666.0,420.3 L666.0,420.9 L666.1,421.5 L666.2,422.2 L666.3,422.8 L666.3,423.4 L666.4,424.0 L666.5,424.6 L666.6,425.3 L666.7,425.9 L666.7,426.5 L666.8,427.1 L666.9,427.8 L667.0,428.4 L667.0,429.0 L667.1,429.6 L667.2,430.2 L667.3,430.8 L667.3,431.4 L667.4,432.0 L667.5,432.6 L667.6,433.2 L667.6,433.8 L667.7,434.4 L667.8,435.0 L667.9,435.6 L668.0,436.2 L668.0,436.8 L668.1,437.4 L668.2,438.1 L668.3,438.7 L668.3,439.3 L668.4,439.9 L668.5,440.5 L668.6,441.1 L668.6,441.7 L668.7,442.4 L668.8,443.0 L668.9,443.6 L668.9,444.2 L669.0,444.8 L669.1,445.4 L669.2,446.0 L669.2,446.6 L669.3,447.2 L669.4,447.8 L669.5,448.4 L669.5,449.0 L669.6,449.6 L669.7,450.2 L669.8,450.8 L669.8,451.4 L669.9,452.0 L670.0,452.6 L670.1,453.3 L670.1,453.9 L670.2,454.5 L670.3,455.1 L670.4,455.7 L670.4,456.3 L670.5,457.0 L670.6,457.6 L670.7,458.2 L670.7,458.8 L670.8,459.4 L670.9,460.1 L671.0,460.7 L671.0,461.3 L671.1,461.9 L671.2,462.5 L671.2,463.1 L671.3,463.7 L671.4,464.3 L671.5,464.9 L671.5,465.5 L671.6,466.1 L671.7,466.7 L671.8,467.3 L671.8,467.9 L671.9,468.5 L672.0,469.1 L672.0,469.7 L672.1,470.3 L672.2,470.9 L672.3,471.5 L672.3,472.1 L672.4,472.6 L672.5,473.2 L672.5,473.8 L672.6,474.4 L672.7,475.0 L672.8,475.6 L672.8,476.2 L672.9,476.8 L673.0,477.4 L673.0,477.9 L673.1,478.6 L673.2,479.2 L673.3,479.8 L673.3,480.4 L673.4,481.0 L673.5,481.6 L673.5,482.2 L673.6,482.8 L673.7,483.4 L673.8,484.0 L673.8,484.6 L673.9,485.2 L674.0,485.8 L674.0,486.4 L674.1,486.9 L674.2,487.4 L674.2,488.0 L674.3,488.5 L674.4,489.0 L674.5,489.6 L674.5,490.1 L674.6,490.6 L674.7,491.2 L674.7,491.7 L674.8,492.2 L674.9,492.8 L674.9,493.3 L675.0,493.8 L675.1,494.5 L675.2,495.1 L675.2,495.7 L675.3,496.3 L675.4,496.9 L675.4,497.5 L675.5,498.1 L675.6,498.7 L675.6,499.3 L675.7,500.0 L675.8,500.6 L675.9,501.2 L675.9,501.8 L676.0,502.4 L676.1,503.0 L676.1,503.7 L676.2,504.3 L676.3,504.9 L676.3,505.6 L676.4,506.2 L676.5,506.9 L676.6,507.5 L676.6,508.1 L676.7,508.8 L676.8,509.4 L676.8,510.0 L676.9,510.7 L677.0,511.3 L677.0,511.9 L677.1,512.5 L677.2,513.1 L677.3,513.6 L677.3,514.2 L677.4,514.8 L677.5,515.4 L677.5,515.9 L677.6,516.5 L677.7,517.1 L677.8,517.7 L677.8,518.2 L677.9,518.8 L678.0,519.4 L678.0,520.0 L678.1,520.6 L678.2,521.2 L678.2,521.7 L678.3,522.3 L678.4,522.9 L678.5,523.5 L678.5,524.1 L678.6,524.7 L678.7,525.3 L678.8,525.9 L678.8,526.5 L678.9,527.0 L679.0,527.6 L679.0,528.2 L679.1,528.7 L679.2,529.3 L679.3,529.8 L679.3,530.4 L679.4,530.9 L679.5,531.5 L679.5,532.0 L679.6,532.6 L679.7,533.1 L679.8,533.6 L679.8,534.2 L679.9,534.7 L680.0,535.3 L680.1,535.9 L680.1,536.5 L680.2,537.1 L680.3,537.7 L680.4,538.3 L680.4,538.9 L680.5,539.5 L680.6,540.1 L680.7,540.7 L680.7,541.3 L680.8,541.8 L680.9,542.4 L681.0,543.0 L681.0,543.7 L681.1,544.3 L681.2,545.0 L681.3,545.7 L681.3,546.3 L681.4,547.0 L681.5,547.7 L681.6,548.3 L681.6,549.0 L681.7,549.6 L681.8,550.3 L681.9,551.0 L681.9,551.6 L682.0,552.3 L682.1,552.9 L682.2,553.5 L682.3,554.0 L682.3,554.6 L682.4,555.2 L682.5,555.8 L682.6,556.4 L682.6,557.0 L682.7,557.5 L682.8,558.1 L682.9,558.7 L683.0,559.3 L683.0,559.9 L683.1,560.4 L683.2,561.0 L683.3,561.6 L683.4,562.2 L683.4,562.8 L683.5,563.3 L683.6,563.9 L683.7,564.5 L683.8,565.1 L683.9,565.6 L683.9,566.2 L684.0,566.8 L684.1,567.4 L684.2,568.0 L684.3,568.6 L684.3,569.2 L684.4,569.7 L684.5,570.3 L684.6,570.9 L684.7,571.5 L684.8,572.1 L684.8,572.7 L684.9,573.3 L685.0,573.9 L685.1,574.4 L685.2,575.0 L685.3,575.5 L685.4,576.1 L685.4,576.7 L685.5,577.2 L685.6,577.8 L685.7,578.3 L685.8,578.9 L685.9,579.4 L686.0,580.0 L686.0,580.6 L686.1,581.2 L686.2,581.9 L686.3,582.6 L686.4,583.2 L686.5,583.9 L686.6,584.5 L686.7,585.2 L686.8,585.9 L686.8,586.5 L686.9,587.2 L687.0,587.8 L687.1,588.4 L687.2,589.0 L687.3,589.7 L687.4,590.3 L687.5,590.9 L687.6,591.5 L687.7,592.1 L687.8,592.7 L687.9,593.3 L687.9,594.0 L688.0,594.6 L688.1,595.2 L688.2,595.8 L688.3,596.4 L688.4,597.0 L688.5,597.6 L688.6,598.2 L688.7,598.9 L688.8,599.5 L688.9,600.1 L689.0,600.7 L689.1,601.2 L689.2,601.8 L689.3,602.3 L689.4,602.9 L689.5,603.4 L689.6,603.9 L689.7,604.5 L689.8,605.0 L689.9,605.5 L690.0,606.1 L690.1,606.7 L690.2,607.2 L690.3,607.8 L690.4,608.4 L690.5,609.0 L690.6,609.6 L690.7,610.1 L690.8,610.7 L690.9,611.3 L691.0,611.9 L691.1,612.5 L691.2,613.0 L691.3,613.6 L691.4,614.1 L691.5,614.7 L691.6,615.2 L691.7,615.8 L691.8,616.4 L691.9,616.9 L692.0,617.5 L692.1,618.2 L692.2,618.9 L692.3,619.5 L692.4,620.2 L692.6,620.9 L692.7,621.6 L692.8,622.2 L692.9,622.9 L693.0,623.6 L693.1,624.2 L693.2,624.8 L693.3,625.4 L693.4,626.0 L693.5,626.7 L693.6,627.3 L693.8,627.9 L693.9,628.5 L694.0,629.1 L694.1,629.6 L694.2,630.1 L694.3,630.6 L694.4,631.1 L694.6,631.6 L694.7,632.1 L694.8,632.6 L694.9,633.1 L695.0,633.6 L695.2,634.2 L695.3,634.8 L695.4,635.5 L695.5,636.1 L695.7,636.7 L695.8,637.3 L696.0,638.0 L696.1,638.6 L696.3,639.1 L696.4,639.7 L696.6,640.3 L696.8,640.8 L696.9,641.4 L697.1,641.9 L697.3,642.5 L697.5,643.0 L697.7,643.5 L697.9,644.0 L698.1,644.5 L698.4,644.9 L698.6,645.3 L698.8,645.6 L699.1,646.1 L699.3,646.9 L699.6,647.6 L699.9,648.3 L700.2,649.0 L700.5,649.6 L700.8,650.2 L701.1,650.7 L701.5,651.0 L701.8,651.2 L702.2,651.6 L702.5,652.2 L702.9,652.7 L703.3,652.9 L703.8,652.9 L704.2,653.5 L704.8,654.6 L705.3,655.1 L705.9,655.0 L706.5,654.8 L707.1,654.6 L707.7,654.3 L708.2,654.0 L708.7,653.6 L709.2,653.2 L709.6,652.9 L710.1,652.6 L710.5,652.1 L710.9,651.6 L711.3,651.1 L711.6,650.7 L712.0,650.2 L712.3,649.7 L712.6,649.2 L712.9,648.7 L713.2,648.2 L713.5,647.7 L713.8,647.2 L714.0,646.7 L714.3,646.2 L714.5,645.8 L714.7,645.4 L714.9,644.9 L715.1,644.2 L715.3,643.5 L715.5,642.7 L715.7,641.9 L715.9,641.1 L716.1,640.5 L716.3,640.1 L716.5,639.6 L716.6,639.2 L716.8,638.7 L717.0,638.2 L717.2,637.6 L717.3,637.0 L717.5,636.3 L717.7,635.7 L717.9,635.1 L718.0,634.5 L718.2,633.9 L718.4,633.2 L718.5,632.6 L718.7,632.0 L718.9,631.4 L719.0,630.8 L719.2,630.2 L719.4,629.5 L719.5,628.9 L719.7,628.2 L719.9,627.6 L720.0,627.0 L720.2,626.5 L720.3,626.1 L720.5,625.7 L720.6,625.3 L720.8,624.9 L721.0,624.5 L721.1,623.9 L721.3,623.2 L721.4,622.5 L721.6,621.9 L721.7,621.2 L721.9,620.5 L722.0,619.9 L722.2,619.3 L722.3,618.7 L722.5,618.2 L722.6,617.6 L722.7,617.0 L722.9,616.5 L723.0,615.9 L723.2,615.4 L723.3,614.9 L723.5,614.3 L723.6,613.8 L723.7,613.3 L723.9,612.8 L724.0,612.2 L724.2,611.6 L724.3,610.9 L724.4,610.2 L724.6,609.6 L724.7,608.9 L724.8,608.3 L725.0,607.6 L725.1,607.1 L725.3,606.5 L725.4,606.0 L725.5,605.5 L725.7,604.9 L725.8,604.4 L725.9,603.9 L726.1,603.3 L726.2,602.7 L726.3,602.1 L726.4,601.5 L726.6,600.9 L726.7,600.4 L726.8,599.8 L727.0,599.2 L727.1,598.6 L727.2,598.1 L727.3,597.5 L727.5,597.0 L727.6,596.4 L727.7,595.9 L727.9,595.3 L728.0,594.8 L728.1,594.2 L728.2,593.6 L728.4,593.1 L728.5,592.5 L728.6,591.9 L728.7,591.3 L728.9,590.7 L729.0,590.2 L729.1,589.5 L729.2,588.8 L729.4,588.2 L729.5,587.5 L729.6,586.8 L729.7,586.2 L729.8,585.5 L730.0,584.8 L730.1,584.3 L730.2,583.8 L730.3,583.3 L730.5,582.7 L730.6,582.2 L730.7,581.7 L730.8,581.2 L730.9,580.7 L731.1,580.1 L731.2,579.5 L731.3,578.9 L731.4,578.2 L731.6,577.6 L731.7,577.0 L731.8,576.3 L731.9,575.7 L732.0,575.1 L732.2,574.5 L732.3,573.9 L732.4,573.4 L732.5,572.8 L732.6,572.2 L732.8,571.6 L732.9,571.0 L733.0,570.5 L733.1,569.9 L733.2,569.3 L733.4,568.7 L733.5,568.1 L733.6,567.5 L733.7,566.9 L733.8,566.3 L734.0,565.7 L734.1,565.1 L734.2,564.5 L734.3,564.0 L734.4,563.4 L734.6,562.9 L734.7,562.4 L734.8,561.8 L734.9,561.3 L735.0,560.7 L735.2,560.0 L735.3,559.3 L735.4,558.7 L735.5,558.0 L735.6,557.3 L735.8,556.6 L735.9,556.0 L736.0,555.3 L736.1,554.8 L736.3,554.3 L736.4,553.7 L736.5,553.2 L736.6,552.7 L736.7,552.2 L736.9,551.6 L737.0,551.1 L737.1,550.6 L737.2,550.0 L737.4,549.5 L737.5,548.9 L737.6,548.4 L737.7,547.8 L737.9,547.3 L738.0,546.7 L738.1,546.1 L738.2,545.5 L738.4,544.8 L738.5,544.1 L738.6,543.5 L738.7,542.8 L738.9,542.2 L739.0,541.5 L739.1,541.1 L739.3,540.6 L739.4,540.1 L739.5,539.6 L739.6,539.1 L739.8,538.6 L739.9,538.2 L740.0,537.6 L740.2,536.9 L740.3,536.2 L740.4,535.5 L740.6,534.8 L740.7,534.1 L740.8,533.4 L740.9,532.7 L741.1,532.0 L741.2,531.5 L741.3,531.0 L741.5,530.4 L741.6,529.9 L741.7,529.3 L741.9,528.8 L742.0,528.2 L742.2,527.6 L742.3,527.0 L742.4,526.4 L742.6,525.8 L742.7,525.2 L742.8,524.5 L743.0,523.9 L743.1,523.3 L743.3,522.7 L743.4,522.1 L743.5,521.6 L743.7,521.0 L743.8,520.4 L744.0,519.8 L744.1,519.2 L744.2,518.6 L744.4,518.0 L744.5,517.4 L744.7,516.8 L744.8,516.1 L745.0,515.5 L745.1,515.0 L745.3,514.4 L745.4,513.9 L745.5,513.3 L745.7,512.8 L745.8,512.2 L746.0,511.7 L746.1,511.1 L746.3,510.6 L746.4,510.0 L746.6,509.4 L746.7,508.9 L746.9,508.3 L747.1,507.8 L747.2,507.1 L747.4,506.5 L747.5,505.9 L747.7,505.3 L747.8,504.7 L748.0,504.0 L748.1,503.5 L748.3,503.1 L748.5,502.6 L748.6,502.1 L748.8,501.6 L748.9,501.1 L749.1,500.6 L749.3,500.1 L749.4,499.5 L749.6,499.0 L749.8,498.4 L749.9,497.9 L750.1,497.2 L750.3,496.5 L750.4,495.7 L750.6,495.0 L750.8,494.2 L750.9,493.5 L751.1,492.9 L751.3,492.5 L751.4,492.0 L751.6,491.6 L751.8,491.2 L752.0,490.7 L752.1,490.2 L752.3,489.5 L752.5,488.9 L752.7,488.3 L752.8,487.7 L753.0,487.1 L753.2,486.5 L753.4,486.0 L753.6,485.4 L753.7,484.8 L753.9,484.3 L754.1,483.8 L754.3,483.3 L754.5,482.9 L754.7,482.5 L754.9,482.1 L755.0,481.6 L755.2,480.9 L755.4,480.3 L755.6,479.6 L755.8,479.0 L756.0,478.3 L756.2,477.7 L756.4,477.1 L756.6,476.4 L756.8,475.8 L757.0,475.2 L757.2,474.6 L757.4,474.0 L757.6,473.5 L757.8,472.9 L758.0,472.3 L758.2,471.6 L758.4,470.9 L758.6,470.1 L758.8,469.4 L759.0,468.7 L759.2,468.3 L759.4,468.0 L759.6,467.6 L759.8,467.3 L760.0,466.9 L760.2,466.2 L760.5,465.5 L760.7,464.8 L760.9,464.2 L761.1,463.6 L761.3,463.1 L761.5,462.6 L761.8,462.1 L762.0,461.6 L762.2,461.1 L762.4,460.5 L762.6,459.9 L762.9,459.4 L763.1,458.8 L763.3,458.4 L763.5,457.9 L763.8,457.4 L764.0,456.9 L764.2,456.4 L764.4,455.9 L764.7,455.5 L764.9,455.0 L765.1,454.4 L765.4,453.8 L765.6,453.2 L765.8,452.5 L766.1,451.9 L766.3,451.4 L766.5,450.9 L766.8,450.3 L767.0,449.8 L767.2,449.1 L767.5,448.5 L767.7,447.8 L767.9,447.1 L768.2,446.6 L768.4,446.1 L768.7,445.6 L768.9,445.1 L769.1,444.6 L769.4,444.1 L769.6,443.5 L769.9,443.0 L770.1,442.4 L770.4,441.7 L770.6,440.9 L770.9,440.2 L771.1,439.7 L771.4,439.4 L771.6,439.2 L771.8,438.9 L772.1,438.5 L772.3,437.7 L772.6,436.9 L772.9,436.1 L773.1,435.4 L773.4,434.8 L773.6,434.2 L773.9,433.6 L774.1,433.2 L774.4,432.9 L774.6,432.6 L774.9,432.3 L775.2,431.9 L775.4,431.4 L775.7,430.9 L775.9,430.4 L776.2,429.7 L776.5,428.9 L776.7,428.1 L777.0,427.3 L777.3,426.8 L777.6,426.3 L777.8,425.7 L778.1,425.4 L778.4,425.2 L778.7,425.0 L779.0,424.9 L779.2,424.1 L779.5,423.3 L779.8,422.5 L780.1,421.7 L780.4,421.0 L780.7,420.2 L781.0,419.5 L781.3,419.1 L781.6,418.7 L781.9,418.3 L782.2,418.0 L782.5,417.8 L782.8,417.5 L783.1,417.2 L783.4,416.5 L783.7,415.9 L784.0,415.2 L784.4,414.7 L784.7,414.2 L785.0,413.7 L785.3,413.3 L785.7,412.8 L786.0,412.4 L786.3,411.8 L786.7,411.3 L787.0,410.7 L787.3,410.1 L787.7,409.5 L788.0,408.9 L788.4,408.2 L788.7,407.6 L789.1,407.1 L789.4,406.8 L789.8,406.6 L790.2,406.2 L790.5,405.5 L790.9,404.8 L791.3,404.4 L791.7,404.1 L792.0,403.8 L792.4,403.5 L792.8,403.3 L793.2,402.9 L793.6,402.3 L793.9,401.7 L794.3,401.1 L794.7,400.6 L795.1,400.1 L795.5,399.7 L795.9,399.2 L796.3,398.9 L796.7,398.5 L797.1,398.1 L797.6,397.7 L798.0,397.3 L798.4,396.6 L798.8,395.8 L799.2,395.4 L799.6,395.2 L800.1,395.0 L800.5,394.8 L800.9,394.6 L801.4,394.1 L801.8,393.5 L802.2,392.9 L802.7,392.3 L803.1,391.7 L803.5,391.3 L804.0,390.9 L804.4,390.3 L804.9,389.7 L805.3,389.3 L805.8,389.2 L806.2,389.1 L806.7,389.0 L807.1,388.8 L807.6,388.2 L808.1,387.5 L808.5,387.0 L809.0,386.5 L809.5,386.2 L809.9,385.9 L810.4,385.6 L810.9,385.3 L811.3,384.9 L811.8,384.6 L812.3,384.2 L812.8,383.8 L813.3,383.4 L813.7,382.9 L814.2,382.6 L814.7,382.5 L815.2,382.4 L815.7,382.2 L816.2,381.8 L816.7,381.1 L817.2,380.5 L817.7,380.2 L818.2,380.0 L818.7,379.9 L819.2,379.7 L819.7,378.9 L820.2,378.3 L820.7,378.1 L821.2,377.9 L821.7,377.6 L822.2,377.4 L822.7,377.2 L823.2,376.9 L823.7,376.5 L824.3,376.1 L824.8,375.7 L825.3,375.5 L825.8,375.4 L826.3,375.0 L826.9,374.4 L827.4,374.0 L827.9,373.6 L828.5,373.3 L829.0,372.9 L829.5,373.1 L830.0,373.3 L830.6,372.6 L831.1,372.0 L831.7,372.1 L832.2,372.2 L832.7,371.9 L833.3,371.7 L833.8,371.5 L834.4,371.1 L834.9,370.7 L835.4,370.3 L836.0,370.0 L836.5,369.9 L837.1,369.7 L837.6,369.3 L838.2,369.0 L838.7,368.6 L839.3,368.6 L839.8,368.8 L840.4,368.4 L840.9,367.8 L841.5,368.0 L842.1,368.2 L842.6,367.7 L843.2,367.3 L843.7,366.9 L844.3,366.7 L844.9,366.6 L845.4,366.6 L846.0,366.5 L846.5,365.8 L847.1,365.2 L847.7,365.1 L848.2,365.0 L848.8,364.7 L849.4,364.7 L849.9,364.7 L850.5,364.6 L851.1,364.5 L851.6,364.2 L852.2,363.9 L852.8,363.6 L853.4,363.4 L853.9,363.2 L854.5,363.3 L855.1,363.5 L855.7,363.3 L856.2,363.0 L856.8,362.6 L857.4,362.2 L858.0,361.8 L858.5,361.9 L859.1,362.1 L859.7,361.8 L860.3,361.6 L860.8,361.5 L861.4,361.5 L862.0,361.7 L862.6,361.3 L863.2,360.9 L863.7,360.4 L864.3,360.1 L864.9,360.0 L865.5,360.2 L866.1,360.5 L866.6,360.1 L867.2,359.8 L867.8,359.8 L868.4,359.6 L869.0,359.3 L869.6,358.9 L870.1,358.7 L870.7,358.9 L871.3,359.0 L871.9,359.1 L872.5,358.8 L873.1,358.4 L873.7,358.0 L874.2,357.8 L874.8,357.8 L875.4,357.7 L876.0,357.6 L876.6,357.6 L877.2,357.6 L877.8,357.6 L878.3,357.7 L878.9,357.8 L879.5,357.4 L880.1,356.9 L880.7,356.7 L881.3,356.6 L881.9,356.5 L882.5,356.4 L883.1,356.3 L883.6,356.1 L884.2,356.0 L884.8,356.0 L885.4,355.9 L886.0,355.8 L886.6,355.4 L887.2,355.2 L887.8,355.5 L888.4,355.4 L889.0,355.1 L889.6,354.9 L890.1,354.8 L890.7,355.0 L891.3,354.9 L891.9,354.6 L892.5,354.9 L893.1,355.1 L893.7,354.8 L894.3,354.5 L894.9,354.3 L895.5,354.1 L896.1,353.8 L896.7,353.8 L897.3,353.9 L897.8,354.0 L898.4,353.8 L899.0,353.4 L899.6,353.6 L900.2,353.5 L900.8,352.8 L901.4,352.9 L902.0,353.3 L902.6,353.3 L903.2,353.3 L903.8,353.1 L904.4,353.0 L905.0,352.8 L905.6,352.9 L906.2,352.9 L906.8,352.4 L907.4,352.2 L908.0,352.1 L908.5,352.2 L909.1,352.4 L909.7,352.5 L910.3,352.5 L910.9,352.2 L911.5,352.0 L912.1,351.9 L912.7,351.9 L913.3,351.9 L913.9,351.9 L914.5,351.5 L915.1,351.1 L915.7,350.7 L916.3,350.7 L916.9,351.0 L917.5,350.9 L918.1,350.8 L918.7,350.9 L919.3,350.9 L919.9,350.7 L920.5,350.7 L921.1,350.7 L921.7,351.0 L922.3,351.0 L922.9,350.9 L923.5,350.8 L924.1,350.8 L924.7,351.1 L925.3,351.0 L925.9,350.5 L926.5,350.4 L927.1,350.4 L927.6,350.7 L928.2,350.6 L928.8,350.1 L929.4,349.8 L930.0,349.7 L930.6,350.3 L931.2,350.5 L931.8,350.3 L932.4,350.2 L933.0,350.2 L933.6,350.2 L934.2,350.2 L934.8,350.2 L935.4,350.0 L936.0,349.7 L936.6,349.7 L937.2,349.6 L937.8,349.4 L938.4,349.5 L939.0,349.7 L939.6,349.7 L940.2,349.6 L940.8,349.4 L941.4,349.5 L942.0,349.7 L942.6,350.1 L943.2,350.1 L943.8,349.2 L944.4,349.2 L945.0,349.6 L945.6,349.6 L946.2,349.6 L946.8,349.6 L947.4,349.3 L948.0,348.9 L948.6,349.3 L949.2,349.5 L949.8,349.3 L950.4,349.2 L951.0,349.0 L951.6,348.9 L952.2,348.9 L952.8,349.0 L953.4,349.1 L954.0,349.2 L954.6,349.2 L955.2,349.2 L955.8,349.5 L956.4,349.2 L957.0,348.6 L957.6,348.8 L958.2,348.9 L958.8,348.6 L959.4,348.7 L960.0,348.9 L960.6,348.8 L961.2,348.6 L961.8,348.4 L962.4,348.3 L963.0,348.1 L963.6,348.2 L964.2,348.3 L964.8,348.5 L965.4,348.8 L966.0,349.0 L966.6,348.8 L967.2,348.6 L967.8,348.2 L968.4,348.1 L969.0,348.2 L969.6,348.3 L970.2,348.4 L970.8,348.3 L971.4,348.3 L972.0,348.3 L972.6,348.5 L973.2,348.5 L973.8,348.4 L974.4,348.2 L975.0,348.0 L975.6,347.7 L976.2,347.6 L976.8,348.0 L977.4,347.9 L978.0,347.6 L978.6,347.9 L979.2,348.1 L979.8,348.2 L980.4,348.0 L981.0,347.6 L981.6,347.9 L982.2,348.0 L982.8,348.0 L983.4,348.3 L984.0,348.7 L984.6,348.4 L985.2,348.0 L985.8,347.5 L986.4,347.7 L987.0,348.1 L987.6,348.1 L988.2,348.1 L988.8,347.9 L989.4,347.9 L990.0,347.8 L990.6,348.0 L991.2,348.2 L991.8,348.2 L992.4,348.1 L993.0,348.1 L993.6,347.8 L994.2,347.6 L994.8,347.7 L995.4,347.6 L996.0,347.3 L996.6,347.3 L997.2,347.4 L997.8,347.6 L998.4,347.6 L999.0,347.5 L999.6,347.6 L1000.2,347.9 L1000.8,348.5 L1001.4,348.4 L1002.0,348.0 L1002.6,347.7 L1003.2,347.4 L1003.8,347.1 L1004.4,347.2 L1005.0,347.5 L1005.6,347.3 L1006.2,347.2 L1006.8,347.0 L1007.4,347.4 L1008.0,348.0 L1008.6,347.7 L1009.2,347.6 L1009.8,347.8 L1010.4,348.2 L1011.0,348.8 L1011.6,348.2 L1012.2,347.8 L1012.8,347.7 L1013.4,347.8 L1014.0,347.8 L1014.6,347.7 L1015.2,347.5 L1015.8,347.4 L1016.4,347.4 L1017.0,347.6 L1017.6,347.8 L1018.2,347.9 L1018.8,347.6 L1019.4,347.4 L1020.0,347.1 L1020.6,347.1 L1021.2,347.2 L1021.8,347.2 L1022.4,347.4 L1023.0,347.6 L1023.6,347.7 L1024.2,347.7 L1024.8,347.7 L1025.4,347.8 L1026.0,347.9 L1026.6,347.7 L1027.2,347.5 L1027.8,347.7 L1028.4,347.7 L1029.0,347.6 L1029.6,347.7 L1030.2,347.6 L1030.8,347.0 L1031.4,347.2 L1032.0,347.9 L1032.6,347.3 L1033.2,346.9 L1033.8,347.0 L1034.4,347.3 L1035.0,347.7 L1035.6,347.4 L1036.2,347.4 L1036.8,347.8 L1037.4,347.7 L1038.0,347.4 L1038.6,347.1 L1039.2,347.0 L1039.8,347.3 L1040.4,347.3 L1041.0,347.1 L1041.6,347.5 L1042.2,347.8 L1042.8,347.8 L1043.4,347.7 L1044.0,347.5 L1044.6,347.2 L1045.2,347.0 L1045.8,347.1 L1046.4,347.3 L1047.0,347.5 L1047.6,347.1 L1048.2,346.8 L1048.8,346.8 L1049.4,347.0 L1050.0,347.3 L1050.6,347.3 L1051.2,347.2 L1051.8,346.9 L1052.4,346.8 L1053.0,346.8 L1053.6,346.4 L1054.2,346.4 L1054.8,347.0 L1055.4,347.1 L1056.0,346.8 L1056.6,346.5 L1057.2,346.3 L1057.8,346.3 L1058.4,346.3 L1059.0,346.3 L1059.6,346.8 L1060.2,347.1 L1060.8,346.9 L1061.4,346.5 L1062.0,346.1 L1062.6,346.7 L1063.2,347.1 L1063.8,346.9" fill="none" stroke="#ff0000" stroke-width="3.6" stroke-linejoin="round" stroke-linecap="round"/>
<path d="M148.0,336.1 L148.6,336.1 L149.2,336.1 L149.8,336.1 L150.4,335.9 L151.0,335.7 L151.6,335.7 L152.2,335.8 L152.8,336.0 L153.4,336.0 L154.0,335.8 L154.6,336.1 L155.2,336.3 L155.8,336.3 L156.4,336.4 L157.0,336.5 L157.6,336.2 L158.2,336.0 L158.8,336.3 L159.4,336.1 L160.0,335.7 L160.6,335.7 L161.2,335.7 L161.8,335.9 L162.4,336.0 L163.0,336.0 L163.6,335.7 L164.2,335.4 L164.8,335.4 L165.4,335.6 L166.0,336.0 L166.6,335.8 L167.2,335.8 L167.8,336.1 L168.4,336.1 L169.0,336.0 L169.6,336.0 L170.2,336.0 L170.8,335.9 L171.4,336.0 L172.0,336.1 L172.6,335.9 L173.2,335.9 L173.8,336.1 L174.4,336.0 L175.0,335.7 L175.6,335.7 L176.2,335.7 L176.8,335.6 L177.4,335.8 L178.0,336.0 L178.6,335.9 L179.2,335.8 L179.8,335.6 L180.4,335.9 L181.0,336.4 L181.6,335.9 L182.2,335.7 L182.8,335.7 L183.4,335.8 L184.0,335.9 L184.6,336.1 L185.2,336.2 L185.8,335.8 L186.4,335.8 L187.0,335.9 L187.6,335.8 L188.2,335.6 L188.8,335.4 L189.4,335.5 L190.0,335.9 L190.6,336.0 L191.2,335.9 L191.8,335.7 L192.4,335.6 L193.0,335.6 L193.6,335.4 L194.2,335.2 L194.8,335.2 L195.4,335.3 L196.0,335.5 L196.6,335.7 L197.2,335.7 L197.8,335.5 L198.4,335.5 L199.0,335.7 L199.6,335.8 L200.2,335.8 L200.8,335.6 L201.4,335.6 L202.0,335.7 L202.6,335.9 L203.2,335.8 L203.8,335.3 L204.4,335.4 L205.0,335.7 L205.6,335.2 L206.2,335.1 L206.8,335.5 L207.4,335.6 L208.0,335.5 L208.6,335.4 L209.2,335.2 L209.8,335.1 L210.4,335.2 L211.0,335.4 L211.6,335.3 L212.2,335.3 L212.8,335.4 L213.4,335.3 L214.0,335.1 L214.6,335.3 L215.2,335.4 L215.8,335.1 L216.4,335.1 L217.0,335.2 L217.6,335.2 L218.2,335.3 L218.8,335.6 L219.4,335.3 L220.0,334.8 L220.6,335.0 L221.2,335.2 L221.8,335.5 L222.4,335.3 L223.0,335.0 L223.6,334.9 L224.2,334.9 L224.8,335.2 L225.4,335.2 L226.0,335.1 L226.6,335.2 L227.2,335.3 L227.8,334.9 L228.4,334.9 L229.0,335.1 L229.6,335.2 L230.2,335.3 L230.8,335.3 L231.4,335.1 L232.0,334.7 L232.6,335.1 L233.2,335.3 L233.8,334.8 L234.4,334.6 L235.0,334.5 L235.6,334.6 L236.2,334.7 L236.8,334.9 L237.4,334.9 L238.0,334.8 L238.6,334.9 L239.2,335.0 L239.8,335.0 L240.4,334.9 L241.0,334.9 L241.6,334.8 L242.2,334.8 L242.8,335.2 L243.4,334.8 L244.0,334.1 L244.6,334.1 L245.2,334.2 L245.8,334.4 L246.4,334.4 L247.0,334.3 L247.6,334.0 L248.2,333.9 L248.8,334.2 L249.4,334.3 L250.0,334.3 L250.6,334.0 L251.2,334.0 L251.8,334.5 L252.4,334.8 L253.0,334.9 L253.6,334.8 L254.2,334.7 L254.8,334.4 L255.4,334.3 L256.0,334.4 L256.6,334.2 L257.2,334.1 L257.8,334.3 L258.4,334.3 L259.0,334.1 L259.6,334.2 L260.2,334.3 L260.8,334.2 L261.4,334.3 L262.0,334.5 L262.6,334.4 L263.2,334.4 L263.8,334.5 L264.4,334.2 L265.0,333.6 L265.6,333.5 L266.2,333.6 L266.8,334.0 L267.4,334.0 L268.0,333.8 L268.6,333.9 L269.2,334.0 L269.8,334.0 L270.4,334.0 L271.0,333.9 L271.6,334.0 L272.2,334.1 L272.8,334.0 L273.4,333.9 L274.0,333.9 L274.6,333.6 L275.2,333.6 L275.8,334.0 L276.4,334.0 L277.0,333.7 L277.6,333.8 L278.2,333.9 L278.8,333.7 L279.4,333.7 L280.0,333.9 L280.6,333.7 L281.2,333.5 L281.8,333.5 L282.4,333.5 L283.0,333.4 L283.6,333.3 L284.2,333.1 L284.8,333.1 L285.4,333.2 L286.0,333.2 L286.6,333.2 L287.2,333.1 L287.8,332.9 L288.4,333.2 L289.0,333.8 L289.6,333.2 L290.2,332.8 L290.8,332.9 L291.4,333.2 L292.0,333.7 L292.6,333.2 L293.2,332.8 L293.8,333.0 L294.4,333.1 L295.0,333.0 L295.6,332.9 L296.2,332.7 L296.8,332.4 L297.3,332.3 L297.9,332.2 L298.5,332.5 L299.1,332.7 L299.7,332.7 L300.3,332.4 L300.9,331.9 L301.5,332.2 L302.1,332.5 L302.7,332.3 L303.3,332.4 L303.9,332.6 L304.5,332.5 L305.1,332.3 L305.7,332.1 L306.3,332.1 L306.9,332.1 L307.5,332.1 L308.1,332.2 L308.7,332.4 L309.3,332.7 L309.9,332.9 L310.5,332.5 L311.1,332.1 L311.7,332.0 L312.3,332.0 L312.9,332.1 L313.5,332.0 L314.1,331.9 L314.7,332.0 L315.3,331.9 L315.9,331.9 L316.5,331.8 L317.1,331.6 L317.7,331.5 L318.3,331.5 L318.9,331.6 L319.5,331.7 L320.1,331.7 L320.7,331.6 L321.3,331.6 L321.9,331.8 L322.5,331.7 L323.1,331.6 L323.7,331.3 L324.3,331.4 L324.9,331.7 L325.5,331.2 L326.1,330.9 L326.7,331.2 L327.3,331.5 L327.9,331.5 L328.5,331.2 L329.1,330.9 L329.7,330.8 L330.3,330.9 L330.9,331.1 L331.5,331.1 L332.1,331.1 L332.7,330.9 L333.3,330.8 L333.9,330.7 L334.5,330.7 L335.1,330.8 L335.7,330.6 L336.3,330.4 L336.9,330.1 L337.5,330.1 L338.1,330.3 L338.7,330.2 L339.3,330.1 L339.9,329.8 L340.5,329.9 L341.1,330.2 L341.7,329.9 L342.3,329.9 L342.9,330.1 L343.5,329.8 L344.1,329.4 L344.7,329.5 L345.3,329.5 L345.9,329.3 L346.5,329.6 L347.0,330.0 L347.6,330.0 L348.2,329.9 L348.8,329.9 L349.4,329.9 L350.0,329.8 L350.6,329.7 L351.2,329.6 L351.8,329.5 L352.4,329.1 L353.0,328.7 L353.6,329.0 L354.2,329.1 L354.8,328.9 L355.4,328.8 L356.0,328.8 L356.6,328.6 L357.2,328.6 L357.8,329.0 L358.4,329.0 L359.0,328.7 L359.6,328.4 L360.2,328.2 L360.8,328.5 L361.4,328.5 L362.0,328.4 L362.6,328.1 L363.2,328.0 L363.8,328.1 L364.4,328.0 L365.0,327.9 L365.6,327.6 L366.2,327.4 L366.8,327.4 L367.4,327.7 L368.0,328.0 L368.6,327.9 L369.2,327.8 L369.8,327.8 L370.4,327.5 L371.0,327.2 L371.6,327.2 L372.2,327.3 L372.8,327.3 L373.4,327.4 L373.9,327.5 L374.5,327.2 L375.1,326.9 L375.7,326.8 L376.3,326.9 L376.9,327.3 L377.5,327.1 L378.1,326.9 L378.7,326.7 L379.3,326.6 L379.9,326.4 L380.5,326.4 L381.1,326.4 L381.7,326.7 L382.3,326.8 L382.9,326.6 L383.5,326.4 L384.1,326.1 L384.7,325.8 L385.3,325.9 L385.9,326.4 L386.5,326.4 L387.1,326.3 L387.7,326.2 L388.3,326.0 L388.9,325.9 L389.5,325.4 L390.0,324.9 L390.6,324.9 L391.2,325.1 L391.8,325.3 L392.4,325.2 L393.0,325.0 L393.6,325.0 L394.2,324.9 L394.8,324.7 L395.4,324.6 L396.0,324.4 L396.6,324.6 L397.2,324.6 L397.8,324.3 L398.4,324.2 L399.0,324.2 L399.5,324.1 L400.1,324.1 L400.7,323.9 L401.3,323.9 L401.9,324.0 L402.5,323.9 L403.1,323.8 L403.7,323.2 L404.3,322.9 L404.9,323.0 L405.5,322.9 L406.0,322.7 L406.6,322.9 L407.2,322.8 L407.8,322.3 L408.4,322.3 L409.0,322.5 L409.6,322.4 L410.2,322.3 L410.7,322.1 L411.3,321.8 L411.9,321.4 L412.5,321.3 L413.1,321.3 L413.7,321.0 L414.2,320.9 L414.8,321.0 L415.4,321.0 L416.0,320.9 L416.6,320.4 L417.2,319.9 L417.7,319.9 L418.3,319.9 L418.9,319.8 L419.5,319.6 L420.0,319.4 L420.6,319.6 L421.2,319.6 L421.8,319.1 L422.3,318.9 L422.9,318.8 L423.5,318.4 L424.1,318.1 L424.6,318.3 L425.2,318.4 L425.8,317.9 L426.3,317.7 L426.9,317.6 L427.5,317.4 L428.1,317.0 L428.6,316.5 L429.2,316.0 L429.7,315.9 L430.3,315.8 L430.9,315.6 L431.4,315.7 L432.0,315.7 L432.6,315.4 L433.1,315.1 L433.7,315.0 L434.2,314.9 L434.8,314.6 L435.4,314.4 L435.9,314.1 L436.5,314.0 L437.0,313.9 L437.6,313.5 L438.1,313.1 L438.7,312.6 L439.2,312.2 L439.8,312.1 L440.3,312.2 L440.9,312.3 L441.4,311.8 L441.9,311.1 L442.5,311.2 L443.0,311.3 L443.6,311.1 L444.1,310.8 L444.7,310.2 L445.2,309.7 L445.7,309.6 L446.3,309.3 L446.8,308.7 L447.3,308.5 L447.9,308.6 L448.4,308.2 L448.9,307.7 L449.4,307.3 L450.0,306.9 L450.5,306.8 L451.0,306.6 L451.5,306.3 L452.1,306.0 L452.6,305.7 L453.1,305.4 L453.6,305.2 L454.1,305.0 L454.6,304.6 L455.2,304.2 L455.7,303.8 L456.2,303.6 L456.7,303.5 L457.2,303.4 L457.7,303.3 L458.2,303.0 L458.7,302.3 L459.2,301.7 L459.7,301.3 L460.2,300.8 L460.7,300.5 L461.2,300.2 L461.7,300.1 L462.2,299.8 L462.7,299.4 L463.1,298.9 L463.6,298.6 L464.1,298.2 L464.6,297.6 L465.1,297.0 L465.6,296.8 L466.0,296.5 L466.5,296.1 L467.0,295.8 L467.5,295.7 L467.9,295.6 L468.4,295.1 L468.9,294.6 L469.3,293.9 L469.8,293.2 L470.2,292.9 L470.7,292.9 L471.2,292.9 L471.6,292.6 L472.1,292.2 L472.5,291.9 L473.0,291.5 L473.4,290.6 L473.8,289.6 L474.3,289.3 L474.7,289.3 L475.2,289.1 L475.6,288.8 L476.0,288.5 L476.5,288.0 L476.9,287.6 L477.3,287.1 L477.7,286.5 L478.2,286.0 L478.6,285.3 L479.0,284.7 L479.4,284.4 L479.8,284.2 L480.2,283.8 L480.6,283.4 L481.0,283.0 L481.4,282.6 L481.8,282.3 L482.2,281.9 L482.6,281.4 L483.0,281.0 L483.4,280.4 L483.8,279.9 L484.2,279.4 L484.6,279.1 L484.9,278.7 L485.3,278.1 L485.7,277.4 L486.1,276.8 L486.4,276.3 L486.8,275.9 L487.1,275.5 L487.5,275.1 L487.9,274.7 L488.2,274.2 L488.6,273.8 L488.9,273.4 L489.3,272.9 L489.6,272.3 L489.9,271.7 L490.3,271.3 L490.6,271.0 L490.9,270.6 L491.3,270.1 L491.6,269.5 L491.9,268.9 L492.2,268.3 L492.6,267.6 L492.9,267.0 L493.2,266.5 L493.5,266.1 L493.8,265.6 L494.1,265.2 L494.4,264.6 L494.7,263.9 L495.0,263.3 L495.3,262.8 L495.6,262.3 L495.9,261.7 L496.2,261.2 L496.4,260.6 L496.7,260.1 L497.0,259.5 L497.3,259.2 L497.5,258.9 L497.8,258.6 L498.1,258.2 L498.4,257.6 L498.6,257.0 L498.9,256.5 L499.2,255.8 L499.4,255.0 L499.7,254.3 L499.9,253.6 L500.2,253.1 L500.4,252.8 L500.7,252.4 L500.9,252.1 L501.2,251.6 L501.4,251.0 L501.7,250.5 L501.9,249.9 L502.2,249.3 L502.4,248.7 L502.6,248.0 L502.9,247.4 L503.1,246.8 L503.3,246.3 L503.6,245.8 L503.8,245.3 L504.0,244.8 L504.3,244.4 L504.5,244.0 L504.7,243.5 L505.0,243.1 L505.2,242.5 L505.4,241.8 L505.6,241.1 L505.9,240.4 L506.1,239.8 L506.3,239.2 L506.5,238.7 L506.8,238.1 L507.0,237.6 L507.2,237.1 L507.4,236.5 L507.7,236.0 L507.9,235.5 L508.1,234.9 L508.3,234.2 L508.5,233.5 L508.7,232.8 L508.9,232.1 L509.2,231.5 L509.4,231.0 L509.6,230.4 L509.8,229.8 L510.0,229.2 L510.2,228.7 L510.4,228.1 L510.6,227.5 L510.8,226.9 L511.1,226.4 L511.3,225.9 L511.5,225.4 L511.7,224.9 L511.9,224.5 L512.1,224.0 L512.3,223.5 L512.5,223.0 L512.7,222.4 L512.9,221.9 L513.1,221.4 L513.3,220.7 L513.5,220.0 L513.7,219.4 L513.9,218.7 L514.1,218.0 L514.3,217.4 L514.5,216.8 L514.7,216.3 L514.8,215.7 L515.0,215.1 L515.2,214.6 L515.4,214.1 L515.6,213.6 L515.8,213.2 L516.0,212.7 L516.2,212.1 L516.4,211.5 L516.6,210.9 L516.7,210.3 L516.9,209.7 L517.1,209.1 L517.3,208.6 L517.5,208.1 L517.7,207.6 L517.8,207.1 L518.0,206.5 L518.2,205.9 L518.4,205.3 L518.6,204.7 L518.7,204.1 L518.9,203.5 L519.1,202.9 L519.3,202.3 L519.4,201.7 L519.6,201.1 L519.8,200.6 L520.0,200.0 L520.1,199.4 L520.3,198.9 L520.5,198.3 L520.6,197.7 L520.8,197.1 L521.0,196.6 L521.2,196.0 L521.3,195.4 L521.5,194.9 L521.7,194.3 L521.8,193.7 L522.0,193.2 L522.2,192.5 L522.3,191.9 L522.5,191.3 L522.6,190.7 L522.8,190.0 L523.0,189.4 L523.1,188.8 L523.3,188.2 L523.5,187.6 L523.6,187.0 L523.8,186.5 L523.9,185.9 L524.1,185.4 L524.3,184.9 L524.4,184.5 L524.6,184.0 L524.7,183.6 L524.9,183.1 L525.0,182.7 L525.2,182.1 L525.4,181.6 L525.5,181.1 L525.7,180.6 L525.8,180.1 L526.0,179.6 L526.1,179.0 L526.3,178.3 L526.4,177.6 L526.6,176.9 L526.7,176.3 L526.9,175.6 L527.1,174.9 L527.2,174.2 L527.4,173.5 L527.5,172.8 L527.7,172.1 L527.8,171.4 L528.0,170.7 L528.1,170.1 L528.3,169.6 L528.4,169.1 L528.6,168.6 L528.7,168.1 L528.9,167.6 L529.0,167.1 L529.2,166.6 L529.3,166.0 L529.5,165.5 L529.6,165.0 L529.8,164.5 L529.9,163.9 L530.1,163.3 L530.2,162.6 L530.4,161.9 L530.5,161.2 L530.7,160.5 L530.8,159.8 L531.0,159.1 L531.1,158.5 L531.3,158.0 L531.4,157.4 L531.6,156.9 L531.7,156.4 L531.9,155.9 L532.0,155.3 L532.2,154.7 L532.3,154.2 L532.5,153.6 L532.6,153.0 L532.8,152.4 L532.9,151.9 L533.1,151.3 L533.2,150.7 L533.4,150.1 L533.6,149.5 L533.7,148.8 L533.9,148.2 L534.0,147.6 L534.2,147.1 L534.3,146.5 L534.5,145.9 L534.6,145.3 L534.8,144.8 L534.9,144.2 L535.1,143.7 L535.2,143.2 L535.4,142.7 L535.6,142.2 L535.7,141.7 L535.9,141.2 L536.0,140.7 L536.2,140.0 L536.3,139.4 L536.5,138.7 L536.7,138.1 L536.8,137.4 L537.0,136.8 L537.1,136.2 L537.3,135.6 L537.5,135.1 L537.6,134.5 L537.8,133.9 L537.9,133.4 L538.1,132.9 L538.3,132.4 L538.4,131.9 L538.6,131.4 L538.8,130.9 L538.9,130.5 L539.1,129.9 L539.3,129.1 L539.4,128.4 L539.6,127.7 L539.8,127.0 L539.9,126.3 L540.1,125.7 L540.3,125.0 L540.4,124.4 L540.6,123.8 L540.8,123.1 L540.9,122.5 L541.1,122.0 L541.3,121.6 L541.5,121.1 L541.6,120.7 L541.8,120.3 L542.0,119.8 L542.2,119.3 L542.4,118.8 L542.6,118.4 L542.8,117.9 L543.0,117.4 L543.2,116.7 L543.5,116.0 L543.7,115.4 L544.0,114.7 L544.3,114.2 L544.6,113.6 L544.9,113.1 L545.2,112.5 L545.5,111.9 L545.9,111.2 L546.3,110.7 L546.7,110.3 L547.1,110.0 L547.5,109.8 L547.9,109.7 L548.4,109.4 L548.9,109.0 L549.4,108.6 L549.9,108.2 L550.4,107.8 L551.0,107.4 L551.6,107.1 L552.2,107.1 L552.8,107.1 L553.4,107.3 L553.9,107.5 L554.4,108.0 L554.9,108.6 L555.4,108.8 L555.9,109.0 L556.3,109.4 L556.7,109.9 L557.2,110.4 L557.6,111.0 L557.9,111.6 L558.3,112.0 L558.7,112.5 L559.1,113.0 L559.4,113.4 L559.8,113.8 L560.1,114.3 L560.4,114.8 L560.8,115.4 L561.1,115.9 L561.4,116.4 L561.7,116.8 L562.0,117.3 L562.3,117.7 L562.6,118.0 L562.8,118.4 L563.1,118.9 L563.4,119.6 L563.6,120.3 L563.9,121.0 L564.1,121.6 L564.3,122.1 L564.6,122.6 L564.8,123.2 L565.0,123.7 L565.2,124.3 L565.4,124.8 L565.6,125.4 L565.8,126.0 L566.0,126.6 L566.2,127.2 L566.4,127.8 L566.6,128.4 L566.8,129.0 L567.0,129.6 L567.2,130.1 L567.3,130.6 L567.5,131.2 L567.7,131.7 L567.9,132.2 L568.0,132.8 L568.2,133.5 L568.4,134.1 L568.5,134.8 L568.7,135.5 L568.9,136.1 L569.0,136.8 L569.2,137.3 L569.4,137.8 L569.5,138.3 L569.7,138.8 L569.9,139.3 L570.1,139.8 L570.2,140.4 L570.4,141.0 L570.6,141.6 L570.7,142.2 L570.9,142.8 L571.1,143.4 L571.3,143.9 L571.4,144.5 L571.6,145.1 L571.8,145.7 L572.0,146.3 L572.1,146.8 L572.3,147.4 L572.5,147.9 L572.7,148.5 L572.8,149.0 L573.0,149.6 L573.2,150.2 L573.4,150.8 L573.6,151.4 L573.7,152.0 L573.9,152.7 L574.1,153.2 L574.3,153.8 L574.5,154.4 L574.7,155.0 L574.9,155.6 L575.0,156.1 L575.2,156.7 L575.4,157.3 L575.6,157.8 L575.8,158.4 L576.0,158.9 L576.2,159.4 L576.4,159.9 L576.6,160.4 L576.8,160.9 L577.0,161.4 L577.2,161.9 L577.4,162.5 L577.6,163.0 L577.8,163.6 L578.0,164.1 L578.2,164.7 L578.4,165.3 L578.6,165.9 L578.8,166.5 L579.1,167.0 L579.3,167.6 L579.5,168.2 L579.7,168.8 L579.9,169.4 L580.1,169.9 L580.4,170.4 L580.6,170.8 L580.8,171.2 L581.0,171.7 L581.3,172.3 L581.5,172.9 L581.7,173.6 L581.9,174.2 L582.2,174.7 L582.4,175.3 L582.6,175.8 L582.9,176.3 L583.1,176.9 L583.4,177.5 L583.6,178.0 L583.8,178.6 L584.1,179.2 L584.3,179.7 L584.6,180.2 L584.8,180.8 L585.1,181.4 L585.3,182.0 L585.6,182.7 L585.9,183.4 L586.1,184.0 L586.4,184.5 L586.6,185.0 L586.9,185.5 L587.2,186.1 L587.4,186.6 L587.7,187.2 L588.0,187.8 L588.3,188.2 L588.6,188.5 L588.8,188.9 L589.1,189.3 L589.4,189.9 L589.7,190.4 L590.0,191.0 L590.3,191.5 L590.6,192.1 L591.0,192.6 L591.3,193.3 L591.6,194.0 L591.9,194.7 L592.3,195.2 L592.6,195.7 L593.0,196.2 L593.3,196.5 L593.7,196.7 L594.1,197.0 L594.5,197.6 L594.8,198.2 L595.2,198.8 L595.6,199.4 L596.0,200.0 L596.5,200.0 L596.9,200.1 L597.3,200.4 L597.8,201.0 L598.2,201.5 L598.7,202.1 L599.1,202.6 L599.6,202.9 L600.1,203.2 L600.5,203.3 L601.0,203.4 L601.5,204.1 L602.0,204.8 L602.5,205.1 L603.0,205.3 L603.5,205.6 L604.1,205.8 L604.6,205.8 L605.1,205.9 L605.7,206.3 L606.2,206.8 L606.7,207.3 L607.3,207.6 L607.8,207.7 L608.4,207.9 L608.9,208.2 L609.5,208.3 L610.0,208.4 L610.6,208.9 L611.2,209.2 L611.7,209.1 L612.3,209.2 L612.9,209.6 L613.5,209.7 L614.1,209.8 L614.6,209.7 L615.2,209.8 L615.8,210.4 L616.4,210.4 L617.0,210.0 L617.6,210.2 L618.2,210.4 L618.7,210.7 L619.3,210.7 L619.9,210.6 L620.5,210.6 L621.1,210.7 L621.7,211.1 L622.3,211.4 L622.8,211.5 L623.4,211.7 L624.0,211.9 L624.5,212.3 L625.1,212.6 L625.7,213.2 L626.2,213.4 L626.7,213.2 L627.3,213.5 L627.8,214.3 L628.3,214.5 L628.9,214.4 L629.4,214.6 L629.9,214.9 L630.4,214.9 L630.9,214.8 L631.4,215.2 L631.9,215.7 L632.4,216.3 L632.8,216.9 L633.3,217.4 L633.8,217.9 L634.2,218.2 L634.7,218.4 L635.1,218.7 L635.6,219.3 L636.0,219.8 L636.4,220.3 L636.8,220.8 L637.2,221.2 L637.6,221.5 L638.0,221.7 L638.4,222.1 L638.8,222.4 L639.2,222.9 L639.6,223.4 L639.9,223.9 L640.3,224.5 L640.6,225.1 L641.0,225.6 L641.3,226.2 L641.6,226.7 L642.0,227.3 L642.3,227.9 L642.6,228.4 L642.9,229.0 L643.2,229.4 L643.5,229.8 L643.8,230.2 L644.0,230.6 L644.3,231.2 L644.6,231.8 L644.8,232.4 L645.1,233.0 L645.3,233.6 L645.6,234.1 L645.8,234.6 L646.0,235.2 L646.3,235.7 L646.5,236.3 L646.7,236.9 L646.9,237.5 L647.1,238.1 L647.4,238.7 L647.6,239.3 L647.8,240.0 L647.9,240.6 L648.1,241.2 L648.3,241.8 L648.5,242.3 L648.7,242.9 L648.9,243.5 L649.0,244.1 L649.2,244.6 L649.4,245.0 L649.6,245.5 L649.7,246.0 L649.9,246.5 L650.0,247.0 L650.2,247.6 L650.4,248.2 L650.5,248.7 L650.7,249.3 L650.8,249.9 L651.0,250.5 L651.1,251.0 L651.3,251.6 L651.4,252.2 L651.6,252.8 L651.7,253.4 L651.8,253.9 L652.0,254.5 L652.1,255.1 L652.3,255.7 L652.4,256.3 L652.6,256.9 L652.7,257.5 L652.8,258.1 L653.0,258.6 L653.1,259.2 L653.3,259.8 L653.4,260.4 L653.5,261.0 L653.7,261.6 L653.8,262.2 L654.0,262.8 L654.1,263.4 L654.2,263.9 L654.4,264.5 L654.5,265.1 L654.6,265.7 L654.8,266.3 L654.9,266.9 L655.0,267.5 L655.2,268.1 L655.3,268.7 L655.4,269.2 L655.6,269.8 L655.7,270.4 L655.8,270.9 L655.9,271.5 L656.1,272.1 L656.2,272.6 L656.3,273.2 L656.5,273.8 L656.6,274.3 L656.7,274.9 L656.8,275.5 L657.0,276.0 L657.1,276.6 L657.2,277.2 L657.3,277.8 L657.5,278.4 L657.6,279.0 L657.7,279.5 L657.8,280.1 L657.9,280.7 L658.1,281.3 L658.2,281.9 L658.3,282.6 L658.4,283.2 L658.5,283.8 L658.7,284.5 L658.8,285.1 L658.9,285.7 L659.0,286.4 L659.1,287.0 L659.2,287.7 L659.4,288.4 L659.5,289.1 L659.6,289.7 L659.7,290.4 L659.8,291.1 L659.9,291.7 L660.0,292.4 L660.2,292.9 L660.3,293.4 L660.4,293.9 L660.5,294.5 L660.6,295.0 L660.7,295.5 L660.8,296.0 L660.9,296.6 L661.0,297.1 L661.2,297.7 L661.3,298.3 L661.4,298.9 L661.5,299.5 L661.6,300.1 L661.7,300.7 L661.8,301.3 L661.9,301.9 L662.0,302.5 L662.1,303.0 L662.2,303.6 L662.3,304.2 L662.4,304.8 L662.5,305.4 L662.6,305.9 L662.7,306.5 L662.8,307.1 L662.9,307.7 L663.0,308.3 L663.1,308.9 L663.2,309.4 L663.3,310.0 L663.4,310.6 L663.5,311.2 L663.6,311.7 L663.7,312.3 L663.8,312.9 L663.9,313.5 L664.0,314.1 L664.1,314.7 L664.2,315.4 L664.3,316.0 L664.4,316.7 L664.5,317.3 L664.6,318.0 L664.7,318.7 L664.8,319.3 L664.9,320.0 L665.0,320.6 L665.1,321.1 L665.2,321.7 L665.3,322.2 L665.4,322.7 L665.5,323.3 L665.6,323.8 L665.7,324.3 L665.8,324.8 L665.8,325.4 L665.9,325.9 L666.0,326.4 L666.1,327.0 L666.2,327.6 L666.3,328.2 L666.4,328.7 L666.5,329.3 L666.6,329.9 L666.7,330.5 L666.7,331.0 L666.8,331.6 L666.9,332.2 L667.0,332.8 L667.1,333.4 L667.2,333.9 L667.3,334.5 L667.4,335.1 L667.4,335.7 L667.5,336.3 L667.6,336.9 L667.7,337.5 L667.8,338.1 L667.9,338.6 L668.0,339.2 L668.0,339.8 L668.1,340.5 L668.2,341.1 L668.3,341.7 L668.4,342.4 L668.5,343.0 L668.5,343.6 L668.6,344.2 L668.7,344.9 L668.8,345.5 L668.9,346.1 L669.0,346.8 L669.0,347.4 L669.1,347.9 L669.2,348.5 L669.3,349.1 L669.4,349.6 L669.4,350.2 L669.5,350.8 L669.6,351.3 L669.7,351.9 L669.8,352.5 L669.8,353.0 L669.9,353.6 L670.0,354.2 L670.1,354.8 L670.2,355.4 L670.2,355.9 L670.3,356.5 L670.4,357.1 L670.5,357.7 L670.6,358.3 L670.6,358.9 L670.7,359.5 L670.8,360.1 L670.9,360.7 L670.9,361.3 L671.0,361.9 L671.1,362.5 L671.2,363.1 L671.3,363.7 L671.3,364.3 L671.4,364.9 L671.5,365.5 L671.6,366.1 L671.6,366.7 L671.7,367.3 L671.8,367.9 L671.9,368.5 L671.9,369.1 L672.0,369.7 L672.1,370.2 L672.2,370.8 L672.2,371.4 L672.3,372.0 L672.4,372.6 L672.5,373.2 L672.5,373.8 L672.6,374.3 L672.7,374.9 L672.8,375.5 L672.8,376.1 L672.9,376.7 L673.0,377.3 L673.0,377.9 L673.1,378.5 L673.2,379.1 L673.3,379.8 L673.3,380.4 L673.4,381.0 L673.5,381.7 L673.6,382.3 L673.6,382.9 L673.7,383.5 L673.8,384.2 L673.8,384.8 L673.9,385.4 L674.0,386.0 L674.1,386.6 L674.1,387.2 L674.2,387.7 L674.3,388.3 L674.3,388.8 L674.4,389.4 L674.5,390.0 L674.6,390.5 L674.6,391.1 L674.7,391.6 L674.8,392.2 L674.8,392.7 L674.9,393.3 L675.0,393.9 L675.0,394.5 L675.1,395.2 L675.2,395.8 L675.3,396.5 L675.3,397.2 L675.4,397.9 L675.5,398.6 L675.5,399.2 L675.6,399.9 L675.7,400.6 L675.7,401.3 L675.8,402.0 L675.9,402.6 L675.9,403.3 L676.0,404.0 L676.1,404.4 L676.2,404.9 L676.2,405.4 L676.3,405.9 L676.4,406.4 L676.4,406.9 L676.5,407.4 L676.6,407.9 L676.6,408.4 L676.7,408.9 L676.8,409.4 L676.8,409.9 L676.9,410.4 L677.0,410.9 L677.0,411.4 L677.1,412.0 L677.2,412.7 L677.2,413.3 L677.3,413.9 L677.4,414.5 L677.4,415.2 L677.5,415.8 L677.6,416.4 L677.6,417.0 L677.7,417.7 L677.8,418.3 L677.8,418.9 L677.9,419.5 L678.0,420.1 L678.0,420.8 L678.1,421.4 L678.2,422.0 L678.2,422.6 L678.3,423.3 L678.4,423.9 L678.4,424.5 L678.5,425.1 L678.6,425.8 L678.6,426.4 L678.7,427.0 L678.8,427.6 L678.8,428.3 L678.9,428.9 L679.0,429.5 L679.0,430.1 L679.1,430.7 L679.2,431.3 L679.2,431.9 L679.3,432.6 L679.4,433.2 L679.4,433.8 L679.5,434.4 L679.6,435.0 L679.6,435.6 L679.7,436.2 L679.8,436.8 L679.8,437.4 L679.9,438.0 L679.9,438.6 L680.0,439.2 L680.1,439.8 L680.1,440.3 L680.2,440.9 L680.3,441.5 L680.3,442.1 L680.4,442.7 L680.5,443.3 L680.5,443.8 L680.6,444.4 L680.7,445.0 L680.7,445.6 L680.8,446.2 L680.9,446.7 L680.9,447.3 L681.0,447.9 L681.1,448.5 L681.1,449.1 L681.2,449.7 L681.2,450.3 L681.3,450.9 L681.4,451.6 L681.4,452.2 L681.5,452.8 L681.6,453.4 L681.6,454.0 L681.7,454.6 L681.8,455.2 L681.8,455.8 L681.9,456.4 L682.0,457.0 L682.0,457.6 L682.1,458.2 L682.2,458.8 L682.2,459.4 L682.3,460.0 L682.4,460.6 L682.4,461.2 L682.5,461.8 L682.5,462.4 L682.6,463.0 L682.7,463.6 L682.7,464.2 L682.8,464.8 L682.9,465.4 L682.9,466.0 L683.0,466.6 L683.1,467.2 L683.1,467.7 L683.2,468.3 L683.3,468.9 L683.3,469.5 L683.4,470.1 L683.5,470.7 L683.5,471.3 L683.6,471.9 L683.7,472.5 L683.7,473.1 L683.8,473.7 L683.9,474.3 L683.9,474.9 L684.0,475.5 L684.0,476.1 L684.1,476.7 L684.2,477.3 L684.2,477.9 L684.3,478.5 L684.4,479.1 L684.4,479.7 L684.5,480.3 L684.6,480.9 L684.6,481.5 L684.7,482.1 L684.8,482.8 L684.8,483.4 L684.9,484.0 L685.0,484.6 L685.0,485.2 L685.1,485.8 L685.2,486.3 L685.2,486.9 L685.3,487.5 L685.4,488.1 L685.4,488.7 L685.5,489.3 L685.6,489.9 L685.6,490.5 L685.7,491.1 L685.8,491.7 L685.8,492.2 L685.9,492.8 L686.0,493.4 L686.0,494.0 L686.1,494.6 L686.2,495.2 L686.2,495.8 L686.3,496.4 L686.4,497.0 L686.4,497.5 L686.5,498.1 L686.6,498.7 L686.6,499.3 L686.7,499.9 L686.8,500.5 L686.8,501.1 L686.9,501.7 L687.0,502.3 L687.0,502.9 L687.1,503.4 L687.2,504.0 L687.3,504.6 L687.3,505.2 L687.4,505.8 L687.5,506.4 L687.5,507.0 L687.6,507.6 L687.7,508.2 L687.7,508.8 L687.8,509.4 L687.9,510.0 L687.9,510.6 L688.0,511.2 L688.1,511.8 L688.2,512.4 L688.2,513.0 L688.3,513.7 L688.4,514.3 L688.4,514.9 L688.5,515.5 L688.6,516.1 L688.6,516.7 L688.7,517.4 L688.8,518.0 L688.9,518.6 L688.9,519.2 L689.0,519.8 L689.1,520.4 L689.1,521.0 L689.2,521.6 L689.3,522.1 L689.3,522.7 L689.4,523.3 L689.5,523.9 L689.6,524.4 L689.6,525.0 L689.7,525.6 L689.8,526.1 L689.8,526.7 L689.9,527.3 L690.0,527.9 L690.1,528.5 L690.1,529.1 L690.2,529.7 L690.3,530.3 L690.4,530.9 L690.4,531.5 L690.5,532.1 L690.6,532.8 L690.6,533.4 L690.7,534.0 L690.8,534.6 L690.9,535.2 L690.9,535.8 L691.0,536.4 L691.1,537.0 L691.2,537.7 L691.2,538.3 L691.3,538.9 L691.4,539.5 L691.5,540.1 L691.5,540.8 L691.6,541.4 L691.7,542.0 L691.8,542.6 L691.8,543.2 L691.9,543.8 L692.0,544.5 L692.1,545.0 L692.1,545.6 L692.2,546.2 L692.3,546.7 L692.4,547.3 L692.5,547.9 L692.5,548.4 L692.6,549.0 L692.7,549.6 L692.8,550.1 L692.8,550.7 L692.9,551.3 L693.0,551.8 L693.1,552.5 L693.2,553.1 L693.2,553.7 L693.3,554.3 L693.4,554.9 L693.5,555.5 L693.5,556.1 L693.6,556.8 L693.7,557.4 L693.8,558.0 L693.9,558.6 L693.9,559.2 L694.0,559.8 L694.1,560.4 L694.2,560.9 L694.3,561.5 L694.3,562.0 L694.4,562.6 L694.5,563.1 L694.6,563.7 L694.7,564.2 L694.8,564.8 L694.8,565.4 L694.9,565.9 L695.0,566.5 L695.1,567.1 L695.2,567.7 L695.2,568.3 L695.3,568.9 L695.4,569.5 L695.5,570.1 L695.6,570.7 L695.7,571.4 L695.7,572.0 L695.8,572.6 L695.9,573.2 L696.0,573.8 L696.1,574.4 L696.2,575.0 L696.3,575.6 L696.3,576.2 L696.4,576.8 L696.5,577.4 L696.6,578.0 L696.7,578.6 L696.8,579.2 L696.9,579.8 L696.9,580.4 L697.0,581.0 L697.1,581.6 L697.2,582.2 L697.3,582.8 L697.4,583.3 L697.5,583.9 L697.6,584.5 L697.6,585.1 L697.7,585.7 L697.8,586.3 L697.9,586.9 L698.0,587.4 L698.1,588.0 L698.2,588.6 L698.3,589.2 L698.4,589.8 L698.5,590.4 L698.5,591.0 L698.6,591.6 L698.7,592.2 L698.8,592.8 L698.9,593.4 L699.0,594.0 L699.1,594.7 L699.2,595.3 L699.3,595.9 L699.4,596.5 L699.5,597.1 L699.6,597.8 L699.7,598.4 L699.7,599.0 L699.8,599.6 L699.9,600.2 L700.0,600.8 L700.1,601.4 L700.2,601.9 L700.3,602.5 L700.4,603.0 L700.5,603.5 L700.6,604.1 L700.7,604.6 L700.8,605.2 L700.9,605.7 L701.0,606.3 L701.1,606.8 L701.2,607.4 L701.3,608.0 L701.4,608.6 L701.5,609.2 L701.6,609.7 L701.7,610.3 L701.8,610.9 L701.9,611.5 L702.0,612.1 L702.1,612.7 L702.2,613.3 L702.3,613.9 L702.4,614.5 L702.5,615.2 L702.6,615.8 L702.8,616.4 L702.9,617.0 L703.0,617.7 L703.1,618.2 L703.2,618.7 L703.3,619.3 L703.4,619.8 L703.6,620.3 L703.7,620.8 L703.8,621.3 L703.9,621.9 L704.1,622.4 L704.2,623.1 L704.3,623.7 L704.4,624.4 L704.6,625.0 L704.7,625.7 L704.8,626.3 L705.0,626.9 L705.1,627.6 L705.2,628.2 L705.4,628.8 L705.5,629.5 L705.7,630.1 L705.8,630.7 L706.0,631.4 L706.1,631.9 L706.3,632.5 L706.4,633.0 L706.6,633.5 L706.7,634.0 L706.9,634.6 L707.1,635.1 L707.2,635.7 L707.4,636.3 L707.5,636.9 L707.7,637.5 L707.9,638.1 L708.1,638.7 L708.2,639.3 L708.4,639.8 L708.6,640.4 L708.8,641.0 L709.0,641.5 L709.1,642.1 L709.3,642.7 L709.5,643.4 L709.7,644.0 L709.9,644.6 L710.1,645.2 L710.3,645.7 L710.5,646.2 L710.7,646.7 L710.9,647.2 L711.1,647.8 L711.4,648.3 L711.6,648.8 L711.9,649.4 L712.1,649.7 L712.4,650.0 L712.7,650.1 L713.1,650.4 L713.4,651.2 L713.8,652.0 L714.2,652.7 L714.6,653.2 L715.1,653.7 L715.6,653.9 L716.2,654.0 L716.8,654.0 L717.4,654.1 L718.0,654.2 L718.5,653.7 L719.0,653.2 L719.6,653.0 L720.0,652.7 L720.5,652.4 L720.9,652.1 L721.3,651.6 L721.7,651.0 L722.1,650.4 L722.4,650.0 L722.8,649.6 L723.1,649.1 L723.4,648.6 L723.7,648.1 L723.9,647.5 L724.2,646.9 L724.4,646.3 L724.6,645.6 L724.8,645.0 L725.0,644.4 L725.2,643.8 L725.4,643.3 L725.5,642.7 L725.7,642.2 L725.8,641.6 L726.0,641.1 L726.1,640.5 L726.3,639.9 L726.4,639.3 L726.5,638.8 L726.6,638.2 L726.7,637.6 L726.9,637.0 L727.0,636.4 L727.1,635.8 L727.2,635.2 L727.3,634.6 L727.4,634.0 L727.6,633.5 L727.7,632.9 L727.8,632.3 L728.0,631.7 L728.1,631.1 L728.2,630.6 L728.4,630.1 L728.5,629.6 L728.7,629.1 L728.8,628.6 L728.9,628.1 L729.1,627.5 L729.2,626.9 L729.4,626.2 L729.5,625.6 L729.7,625.0 L729.8,624.3 L730.0,623.7 L730.2,623.1 L730.3,622.5 L730.5,621.9 L730.6,621.3 L730.8,620.7 L731.0,620.0 L731.1,619.4 L731.3,618.8 L731.5,618.2 L731.6,617.6 L731.8,617.0 L732.0,616.4 L732.1,615.8 L732.3,615.3 L732.5,614.8 L732.6,614.3 L732.8,613.7 L733.0,613.2 L733.1,612.7 L733.3,612.2 L733.5,611.7 L733.7,611.2 L733.8,610.7 L734.0,610.3 L734.2,609.6 L734.3,608.9 L734.5,608.3 L734.7,607.6 L734.9,607.0 L735.0,606.3 L735.2,605.8 L735.4,605.3 L735.5,604.8 L735.7,604.2 L735.9,603.7 L736.0,603.2 L736.2,602.6 L736.4,602.0 L736.5,601.4 L736.7,600.8 L736.9,600.2 L737.0,599.6 L737.2,599.0 L737.3,598.4 L737.5,597.7 L737.7,597.1 L737.8,596.5 L738.0,595.9 L738.1,595.3 L738.3,594.7 L738.4,594.1 L738.6,593.5 L738.8,592.9 L738.9,592.3 L739.1,591.7 L739.2,591.2 L739.4,590.7 L739.5,590.2 L739.7,589.7 L739.8,589.1 L740.0,588.6 L740.1,588.0 L740.3,587.3 L740.4,586.6 L740.5,586.0 L740.7,585.3 L740.8,584.6 L741.0,583.9 L741.1,583.4 L741.3,582.9 L741.4,582.4 L741.5,581.9 L741.7,581.4 L741.8,581.0 L742.0,580.5 L742.1,579.9 L742.2,579.2 L742.4,578.5 L742.5,577.9 L742.7,577.2 L742.8,576.6 L742.9,575.9 L743.1,575.3 L743.2,574.8 L743.3,574.3 L743.5,573.8 L743.6,573.3 L743.7,572.8 L743.9,572.3 L744.0,571.8 L744.1,571.2 L744.3,570.5 L744.4,569.9 L744.5,569.3 L744.7,568.6 L744.8,568.0 L744.9,567.4 L745.1,566.8 L745.2,566.2 L745.3,565.6 L745.4,565.0 L745.6,564.5 L745.7,563.9 L745.8,563.3 L746.0,562.7 L746.1,562.2 L746.2,561.6 L746.3,561.1 L746.5,560.6 L746.6,560.0 L746.7,559.5 L746.8,558.9 L747.0,558.4 L747.1,557.8 L747.2,557.1 L747.3,556.4 L747.5,555.8 L747.6,555.1 L747.7,554.4 L747.8,553.8 L748.0,553.1 L748.1,552.5 L748.2,552.0 L748.3,551.4 L748.5,550.9 L748.6,550.3 L748.7,549.8 L748.8,549.2 L749.0,548.7 L749.1,548.1 L749.2,547.5 L749.3,546.9 L749.5,546.3 L749.6,545.7 L749.7,545.1 L749.8,544.5 L749.9,543.9 L750.1,543.3 L750.2,542.8 L750.3,542.2 L750.4,541.7 L750.6,541.1 L750.7,540.5 L750.8,540.0 L750.9,539.4 L751.1,538.9 L751.2,538.3 L751.3,537.7 L751.4,537.1 L751.6,536.6 L751.7,536.0 L751.8,535.4 L751.9,534.8 L752.0,534.2 L752.2,533.6 L752.3,533.0 L752.4,532.4 L752.5,531.8 L752.7,531.2 L752.8,530.6 L752.9,530.0 L753.0,529.4 L753.2,528.8 L753.3,528.2 L753.4,527.6 L753.6,527.0 L753.7,526.5 L753.8,525.9 L753.9,525.3 L754.1,524.7 L754.2,524.1 L754.3,523.5 L754.4,522.9 L754.6,522.2 L754.7,521.6 L754.8,521.0 L755.0,520.4 L755.1,519.8 L755.2,519.3 L755.3,518.8 L755.5,518.2 L755.6,517.7 L755.7,517.1 L755.9,516.6 L756.0,516.0 L756.1,515.4 L756.3,514.8 L756.4,514.2 L756.5,513.5 L756.7,512.9 L756.8,512.3 L756.9,511.7 L757.1,511.1 L757.2,510.5 L757.3,510.0 L757.5,509.4 L757.6,508.8 L757.8,508.3 L757.9,507.7 L758.0,507.1 L758.2,506.5 L758.3,506.0 L758.5,505.4 L758.6,504.8 L758.7,504.2 L758.9,503.6 L759.0,503.0 L759.2,502.4 L759.3,501.7 L759.4,501.1 L759.6,500.4 L759.7,499.8 L759.9,499.1 L760.0,498.5 L760.2,497.9 L760.3,497.4 L760.5,496.8 L760.6,496.2 L760.8,495.7 L760.9,495.1 L761.1,494.5 L761.2,494.0 L761.4,493.5 L761.5,493.0 L761.7,492.5 L761.8,491.9 L762.0,491.4 L762.2,490.8 L762.3,490.3 L762.5,489.7 L762.6,489.1 L762.8,488.5 L762.9,487.9 L763.1,487.3 L763.3,486.8 L763.4,486.3 L763.6,485.8 L763.8,485.3 L763.9,484.8 L764.1,484.1 L764.2,483.4 L764.4,482.6 L764.6,481.9 L764.8,481.1 L764.9,480.3 L765.1,479.7 L765.3,479.3 L765.4,478.9 L765.6,478.4 L765.8,478.0 L766.0,477.6 L766.1,477.0 L766.3,476.5 L766.5,476.0 L766.7,475.5 L766.8,474.9 L767.0,474.4 L767.2,473.8 L767.4,473.2 L767.6,472.5 L767.8,471.9 L767.9,471.3 L768.1,470.7 L768.3,470.2 L768.5,469.7 L768.7,469.1 L768.9,468.6 L769.1,468.0 L769.3,467.4 L769.5,466.8 L769.7,466.2 L769.9,465.6 L770.1,465.0 L770.3,464.4 L770.5,463.8 L770.7,463.3 L770.9,462.7 L771.1,462.2 L771.3,461.6 L771.5,461.1 L771.7,460.6 L771.9,460.1 L772.1,459.5 L772.3,458.8 L772.5,458.1 L772.7,457.4 L772.9,456.7 L773.1,456.1 L773.4,455.5 L773.6,454.9 L773.8,454.2 L774.0,453.6 L774.2,453.3 L774.5,452.9 L774.7,452.5 L774.9,452.1 L775.1,451.6 L775.4,451.1 L775.6,450.5 L775.8,449.9 L776.0,449.3 L776.3,448.8 L776.5,448.2 L776.7,447.7 L777.0,447.1 L777.2,446.6 L777.5,446.0 L777.7,445.5 L777.9,445.0 L778.2,444.4 L778.4,443.9 L778.7,443.4 L778.9,442.9 L779.2,442.3 L779.4,441.6 L779.7,441.0 L779.9,440.4 L780.2,439.9 L780.4,439.4 L780.7,438.9 L780.9,438.5 L781.2,437.9 L781.5,437.4 L781.7,436.8 L782.0,436.3 L782.3,435.6 L782.5,435.0 L782.8,434.3 L783.1,433.7 L783.3,433.2 L783.6,432.8 L783.9,432.3 L784.1,431.9 L784.4,431.4 L784.7,430.9 L785.0,430.4 L785.3,429.8 L785.5,429.1 L785.8,428.5 L786.1,428.0 L786.4,427.6 L786.7,427.3 L787.0,426.9 L787.3,426.3 L787.6,425.6 L787.9,425.0 L788.2,424.5 L788.5,424.0 L788.8,423.6 L789.1,423.2 L789.4,422.7 L789.7,422.3 L790.0,421.8 L790.3,421.1 L790.6,420.3 L790.9,419.5 L791.2,418.9 L791.5,418.4 L791.8,417.9 L792.1,417.5 L792.5,417.2 L792.8,416.8 L793.1,416.4 L793.4,415.9 L793.8,415.3 L794.1,414.7 L794.4,414.3 L794.7,413.9 L795.1,413.4 L795.4,413.1 L795.7,412.7 L796.1,412.2 L796.4,411.5 L796.8,410.8 L797.1,410.2 L797.4,409.8 L797.8,409.5 L798.1,409.0 L798.5,408.4 L798.8,407.8 L799.2,407.3 L799.5,406.7 L799.9,406.2 L800.3,405.8 L800.6,405.5 L801.0,405.1 L801.3,404.6 L801.7,404.1 L802.1,403.6 L802.5,403.3 L802.8,402.9 L803.2,402.4 L803.6,401.8 L804.0,401.3 L804.3,400.9 L804.7,400.5 L805.1,400.1 L805.5,399.6 L805.9,399.1 L806.3,398.4 L806.7,397.7 L807.1,397.0 L807.4,396.7 L807.8,396.5 L808.2,396.1 L808.7,395.6 L809.1,395.2 L809.5,394.9 L809.9,394.6 L810.3,394.1 L810.7,393.4 L811.1,392.8 L811.5,392.6 L811.9,392.3 L812.4,391.8 L812.8,391.3 L813.2,390.8 L813.6,390.2 L814.1,389.6 L814.5,389.4 L814.9,389.2 L815.4,388.9 L815.8,388.6 L816.3,388.2 L816.7,387.7 L817.2,387.2 L817.6,387.0 L818.1,386.8 L818.5,386.3 L819.0,385.8 L819.4,385.4 L819.9,385.0 L820.3,384.6 L820.8,384.1 L821.3,383.7 L821.7,383.3 L822.2,383.0 L822.7,382.7 L823.2,382.4 L823.6,382.0 L824.1,381.5 L824.6,381.0 L825.1,380.5 L825.6,380.3 L826.1,380.1 L826.5,379.9 L827.0,379.6 L827.5,379.4 L828.0,379.1 L828.5,378.8 L829.0,378.4 L829.5,377.8 L830.0,377.2 L830.5,377.1 L831.0,377.0 L831.6,376.4 L832.1,375.8 L832.6,375.6 L833.1,375.4 L833.6,375.1 L834.1,374.8 L834.7,374.9 L835.2,374.8 L835.7,374.4 L836.2,374.0 L836.8,373.7 L837.3,373.3 L837.8,372.8 L838.4,372.7 L838.9,372.7 L839.4,372.3 L840.0,371.8 L840.5,371.6 L841.0,371.5 L841.6,371.3 L842.1,371.1 L842.7,370.6 L843.2,370.3 L843.7,370.2 L844.3,369.8 L844.8,369.1 L845.4,369.0 L845.9,369.2 L846.5,368.7 L847.0,368.1 L847.6,368.2 L848.1,368.3 L848.7,368.0 L849.3,367.8 L849.8,367.6 L850.4,367.6 L850.9,367.7 L851.5,366.8 L852.0,365.9 L852.6,366.2 L853.2,366.3 L853.7,365.9 L854.3,365.7 L854.9,365.7 L855.4,365.5 L856.0,365.2 L856.6,365.0 L857.1,364.8 L857.7,364.5 L858.3,364.2 L858.8,364.0 L859.4,363.9 L860.0,363.9 L860.5,363.4 L861.1,363.1 L861.7,363.3 L862.3,363.3 L862.8,362.8 L863.4,362.7 L864.0,362.7 L864.6,362.3 L865.1,361.9 L865.7,362.1 L866.3,362.0 L866.9,361.7 L867.4,361.6 L868.0,361.6 L868.6,361.6 L869.2,361.4 L869.8,360.9 L870.3,360.7 L870.9,360.7 L871.5,360.5 L872.1,360.4 L872.7,360.5 L873.2,360.3 L873.8,359.7 L874.4,359.6 L875.0,359.8 L875.6,359.6 L876.2,359.3 L876.7,358.9 L877.3,358.8 L877.9,358.8 L878.5,358.7 L879.1,358.5 L879.7,358.7 L880.3,358.6 L880.8,358.1 L881.4,358.1 L882.0,358.3 L882.6,358.0 L883.2,357.7 L883.8,357.8 L884.4,357.5 L885.0,357.0 L885.5,357.0 L886.1,357.0 L886.7,357.1 L887.3,356.9 L887.9,356.6 L888.5,356.4 L889.1,356.2 L889.7,356.4 L890.3,356.5 L890.9,356.5 L891.4,356.4 L892.0,356.1 L892.6,356.0 L893.2,355.9 L893.8,355.9 L894.4,355.8 L895.0,355.5 L895.6,355.7 L896.2,355.7 L896.8,355.7 L897.4,355.3 L898.0,354.8 L898.5,355.1 L899.1,355.3 L899.7,355.1 L900.3,355.0 L900.9,354.8 L901.5,354.8 L902.1,354.8 L902.7,354.9 L903.3,354.9 L903.9,354.9 L904.5,354.8 L905.1,354.6 L905.7,354.2 L906.3,354.1 L906.9,354.3 L907.5,353.9 L908.1,353.4 L908.7,353.7 L909.3,353.9 L909.9,353.8 L910.4,353.8 L911.0,353.7 L911.6,353.3 L912.2,353.2 L912.8,353.6 L913.4,353.6 L914.0,353.5 L914.6,353.3 L915.2,353.0 L915.8,352.6 L916.4,352.7 L917.0,352.9 L917.6,352.7 L918.2,352.4 L918.8,352.2 L919.4,352.2 L920.0,352.3 L920.6,352.8 L921.2,352.9 L921.8,352.2 L922.4,352.0 L923.0,352.2 L923.6,352.2 L924.2,352.3 L924.8,352.4 L925.4,352.1 L926.0,351.8 L926.6,351.7 L927.2,351.7 L927.8,352.0 L928.4,352.0 L929.0,351.9 L929.6,352.0 L930.2,352.0 L930.8,351.5 L931.4,351.4 L932.0,351.5 L932.6,351.7 L933.2,351.7 L933.8,351.6 L934.4,351.3 L935.0,351.1 L935.6,351.2 L936.1,351.3 L936.7,350.9 L937.3,350.8 L937.9,351.0 L938.5,351.2 L939.1,351.4 L939.7,351.4 L940.3,351.3 L940.9,351.2 L941.5,351.2 L942.1,351.1 L942.7,350.6 L943.3,350.5 L943.9,350.6 L944.5,350.9 L945.1,351.2 L945.7,351.4 L946.3,351.2 L946.9,350.9 L947.5,350.6 L948.1,350.4 L948.7,350.3 L949.3,350.5 L949.9,350.9 L950.5,350.9 L951.1,350.7 L951.7,350.3 L952.3,350.2 L952.9,350.4 L953.5,350.6 L954.1,350.8 L954.7,350.8 L955.3,350.6 L955.9,350.2 L956.5,350.2 L957.1,350.2 L957.7,350.3 L958.3,350.2 L958.9,349.9 L959.5,349.7 L960.1,349.7 L960.7,349.8 L961.3,350.0 L961.9,350.4 L962.5,350.4 L963.1,350.3 L963.7,350.2 L964.3,349.9 L964.9,349.6 L965.5,349.4 L966.1,349.3 L966.7,349.5 L967.3,349.6 L967.9,349.8 L968.5,350.0 L969.1,350.0 L969.7,349.7 L970.3,349.6 L970.9,349.7 L971.5,349.4 L972.1,349.1 L972.7,349.0 L973.3,349.2 L973.9,349.6 L974.5,349.4 L975.1,349.2 L975.7,349.2 L976.3,349.1 L976.9,348.9 L977.5,349.3 L978.1,349.6 L978.7,349.2 L979.3,349.1 L979.9,349.4 L980.5,349.2 L981.1,349.0 L981.7,349.2 L982.3,349.4 L982.9,349.7 L983.5,349.6 L984.1,349.4 L984.7,349.3 L985.3,349.4 L985.9,349.5 L986.5,349.5 L987.1,349.4 L987.7,349.6 L988.3,349.4 L988.9,348.8 L989.5,349.2 L990.1,349.5 L990.7,349.3 L991.3,349.0 L991.9,348.8 L992.5,349.0 L993.1,349.3 L993.7,349.2 L994.3,349.2 L994.9,349.1 L995.5,349.2 L996.1,349.2 L996.7,348.8 L997.3,348.6 L997.9,348.5 L998.5,348.6 L999.1,348.8 L999.7,349.1 L1000.3,349.2 L1000.9,349.1 L1001.5,349.0 L1002.1,348.9 L1002.7,348.8 L1003.3,348.8 L1003.9,348.9 L1004.5,349.0 L1005.1,349.2 L1005.7,348.8 L1006.3,348.7 L1006.9,348.7 L1007.5,348.8 L1008.1,348.9 L1008.7,349.0 L1009.3,348.9 L1009.9,348.8 L1010.5,349.0 L1011.1,349.2 L1011.7,348.9 L1012.3,348.7 L1012.9,348.5 L1013.5,348.3 L1014.1,348.2 L1014.7,348.8 L1015.3,348.9 L1015.9,348.7 L1016.5,348.7 L1017.1,348.8 L1017.7,348.8 L1018.3,348.9 L1018.9,349.0 L1019.5,349.0 L1020.1,348.9 L1020.7,348.9 L1021.3,348.9 L1021.9,348.7 L1022.5,348.6 L1023.1,348.5 L1023.7,348.6 L1024.3,348.6 L1024.9,348.4 L1025.5,348.5 L1026.1,348.7 L1026.7,348.8 L1027.3,348.8 L1027.9,348.8 L1028.5,348.7 L1029.1,348.5 L1029.7,348.3 L1030.3,348.2 L1030.9,348.2 L1031.5,348.2 L1032.1,348.3 L1032.7,348.3 L1033.3,348.4 L1033.9,348.6 L1034.5,348.6 L1035.1,348.6 L1035.7,348.6 L1036.3,348.6 L1036.9,348.7 L1037.5,348.4 L1038.1,348.1 L1038.7,348.3 L1039.3,348.4 L1039.9,348.5 L1040.5,348.6 L1041.1,348.5 L1041.7,348.3 L1042.3,348.1 L1042.9,348.1 L1043.5,348.4 L1044.1,348.6 L1044.7,348.5 L1045.3,348.5 L1045.9,348.4 L1046.5,348.3 L1047.1,348.2 L1047.7,348.0 L1048.3,348.0 L1048.9,348.2 L1049.5,348.3 L1050.1,348.3 L1050.7,348.3 L1051.3,348.4 L1051.9,348.4 L1052.5,348.3 L1053.1,348.2 L1053.7,348.4 L1054.3,348.4 L1054.9,348.1 L1055.5,348.1 L1056.1,348.2 L1056.7,348.2 L1057.3,348.0 L1057.9,347.6 L1058.5,347.6 L1059.1,347.7 L1059.7,347.8 L1060.3,348.0 L1060.9,348.1 L1061.5,348.1 L1062.1,348.2 L1062.7,348.3 L1063.3,348.3 L1063.9,348.0" fill="none" stroke="#000000" stroke-width="2.6" stroke-linejoin="round" stroke-linecap="round"/>
<path d="M148.0,337.1 L148.6,337.6 L149.2,337.6 L149.8,336.8 L150.4,335.9 L151.0,334.9 L151.6,335.9 L152.2,336.8 L152.8,337.6 L153.4,336.1 L154.0,333.5 L154.6,334.9 L155.2,335.6 L155.8,334.8 L156.4,335.6 L157.0,337.3 L157.6,334.8 L158.2,333.0 L158.8,333.6 L159.4,334.3 L160.0,335.0 L160.6,334.9 L161.2,334.1 L161.8,331.8 L162.4,332.4 L163.0,334.7 L163.6,334.3 L164.2,333.8 L164.8,333.6 L165.4,333.6 L166.0,333.7 L166.6,334.1 L167.2,333.7 L167.8,331.2 L168.4,332.6 L169.0,336.6 L169.6,334.2 L170.2,331.6 L170.8,329.9 L171.4,330.7 L172.0,333.3 L172.6,335.2 L173.1,335.9 L173.7,333.5 L174.3,333.9 L174.9,336.4 L175.5,336.6 L176.1,335.9 L176.7,332.9 L177.3,330.6 L177.9,328.6 L178.5,329.8 L179.1,331.5 L179.7,334.4 L180.3,334.3 L180.9,331.8 L181.5,330.8 L182.1,330.2 L182.7,330.4 L183.3,331.4 L183.9,333.0 L184.5,333.1 L185.1,333.3 L185.7,334.3 L186.3,334.8 L186.9,335.0 L187.5,332.9 L188.1,331.3 L188.7,332.2 L189.3,331.9 L189.9,330.7 L190.5,331.9 L191.1,332.7 L191.7,331.2 L192.3,330.5 L192.9,330.4 L193.5,333.9 L194.1,336.4 L194.7,333.9 L195.3,333.2 L195.9,333.9 L196.5,335.9 L197.1,337.3 L197.7,335.1 L198.3,333.6 L198.9,332.5 L199.5,332.5 L200.1,332.4 L200.7,331.5 L201.3,332.2 L201.9,334.4 L202.5,333.2 L203.1,332.3 L203.7,334.8 L204.3,334.6 L204.9,332.0 L205.5,331.7 L206.1,331.6 L206.7,331.5 L207.3,332.2 L207.9,333.4 L208.5,333.1 L209.1,332.9 L209.7,334.3 L210.3,333.7 L210.9,331.4 L211.5,332.0 L212.1,333.2 L212.7,335.1 L213.3,334.6 L213.9,332.0 L214.5,332.5 L215.1,333.4 L215.7,334.7 L216.3,334.6 L216.9,333.3 L217.5,331.9 L218.1,330.4 L218.7,328.7 L219.3,330.7 L219.9,336.1 L220.5,334.7 L221.1,333.0 L221.7,334.0 L222.3,333.3 L222.9,331.2 L223.5,333.3 L224.1,335.2 L224.7,333.6 L225.3,332.6 L225.9,332.0 L226.5,330.9 L227.1,330.3 L227.7,331.8 L228.3,332.0 L228.9,330.9 L229.5,331.1 L230.1,331.0 L230.7,329.3 L231.3,329.2 L231.9,330.5 L232.5,331.4 L233.1,331.7 L233.7,330.0 L234.3,330.0 L234.9,331.6 L235.5,332.4 L236.1,332.7 L236.7,331.5 L237.3,330.8 L237.9,330.4 L238.5,330.3 L239.1,330.7 L239.7,332.5 L240.3,331.8 L240.9,328.8 L241.5,329.7 L242.1,330.8 L242.7,330.7 L243.3,330.9 L243.9,331.6 L244.5,331.5 L245.1,331.0 L245.7,329.8 L246.3,331.1 L246.9,334.9 L247.5,333.5 L248.1,331.3 L248.7,329.5 L249.3,328.9 L249.9,329.4 L250.5,330.5 L251.1,331.5 L251.7,332.1 L252.3,331.2 L252.9,328.9 L253.5,330.6 L254.1,332.1 L254.7,329.6 L255.3,328.7 L255.9,329.4 L256.5,331.2 L257.1,333.0 L257.7,334.0 L258.3,333.3 L258.9,331.2 L259.5,330.6 L260.1,330.7 L260.7,332.6 L261.3,332.0 L261.9,329.2 L262.5,330.1 L263.1,331.4 L263.7,331.4 L264.3,331.8 L264.9,332.7 L265.5,332.1 L266.1,331.3 L266.7,330.6 L267.3,330.8 L267.9,331.8 L268.5,330.2 L269.1,328.8 L269.7,331.2 L270.3,331.4 L270.9,329.6 L271.5,329.0 L272.1,328.9 L272.7,329.5 L273.3,330.1 L273.9,330.5 L274.5,331.3 L275.1,331.7 L275.7,330.6 L276.3,330.6 L276.9,331.7 L277.5,332.1 L278.1,332.1 L278.7,330.8 L279.3,329.6 L279.9,328.5 L280.5,330.2 L281.1,332.0 L281.7,331.2 L282.3,329.3 L282.9,326.5 L283.5,327.0 L284.1,328.3 L284.7,329.7 L285.3,329.5 L285.9,327.6 L286.5,327.9 L287.1,328.4 L287.7,327.2 L288.3,327.7 L288.9,330.2 L289.5,330.5 L290.1,330.3 L290.7,330.2 L291.3,330.9 L291.9,332.3 L292.5,330.9 L293.1,329.0 L293.7,329.0 L294.3,330.3 L294.9,333.1 L295.5,330.4 L296.1,327.2 L296.7,329.6 L297.3,329.8 L297.9,327.3 L298.5,328.2 L299.1,330.1 L299.7,332.3 L300.3,332.5 L300.9,330.3 L301.5,328.8 L302.1,328.1 L302.7,331.8 L303.3,332.3 L303.9,328.8 L304.5,328.3 L305.1,328.6 L305.7,329.2 L306.3,328.7 L306.9,326.7 L307.5,328.4 L308.1,331.1 L308.7,331.6 L309.3,331.5 L309.9,330.4 L310.4,329.8 L311.0,329.2 L311.6,328.6 L312.2,328.7 L312.8,329.9 L313.4,326.6 L314.0,322.3 L314.6,325.9 L315.2,328.2 L315.8,328.6 L316.4,326.8 L317.0,324.3 L317.6,327.2 L318.2,328.6 L318.8,327.9 L319.4,327.8 L320.0,327.8 L320.6,328.0 L321.2,328.2 L321.8,328.7 L322.4,328.8 L323.0,328.5 L323.6,326.7 L324.2,325.9 L324.8,326.9 L325.4,327.2 L326.0,327.0 L326.6,327.2 L327.2,327.1 L327.8,326.3 L328.4,327.2 L329.0,329.0 L329.6,329.4 L330.2,329.7 L330.8,329.9 L331.4,330.2 L332.0,330.6 L332.6,330.1 L333.2,329.0 L333.8,326.6 L334.4,325.5 L335.0,325.3 L335.6,325.5 L336.2,325.9 L336.7,327.0 L337.3,326.9 L337.9,326.0 L338.5,327.1 L339.1,328.2 L339.7,328.9 L340.3,327.9 L340.9,325.3 L341.5,326.4 L342.1,327.4 L342.7,325.7 L343.3,324.3 L343.9,323.2 L344.5,322.9 L345.1,323.0 L345.7,324.1 L346.3,323.7 L346.9,321.7 L347.5,323.6 L348.1,326.1 L348.7,327.3 L349.3,326.5 L349.9,323.2 L350.5,323.1 L351.0,324.1 L351.6,326.3 L352.2,327.0 L352.8,325.5 L353.4,324.9 L354.0,324.6 L354.6,324.0 L355.2,324.1 L355.8,325.5 L356.4,325.4 L357.0,324.5 L357.6,322.7 L358.2,321.0 L358.8,319.3 L359.4,318.4 L360.0,318.0 L360.6,321.6 L361.1,324.2 L361.7,323.1 L362.3,323.6 L362.9,325.6 L363.5,324.8 L364.1,323.4 L364.7,321.2 L365.3,320.9 L365.9,322.7 L366.5,323.8 L367.1,324.3 L367.7,321.8 L368.3,320.5 L368.8,320.8 L369.4,322.8 L370.0,325.0 L370.6,320.8 L371.2,318.4 L371.8,319.0 L372.4,320.9 L373.0,323.3 L373.6,322.3 L374.2,321.0 L374.8,319.3 L375.4,318.3 L375.9,317.9 L376.5,319.8 L377.1,321.6 L377.7,322.4 L378.3,322.5 L378.9,321.9 L379.5,321.3 L380.1,320.9 L380.7,322.1 L381.2,322.1 L381.8,320.6 L382.4,319.2 L383.0,317.8 L383.6,321.1 L384.2,322.0 L384.8,318.0 L385.4,317.3 L386.0,318.4 L386.5,318.5 L387.1,318.8 L387.7,320.4 L388.3,319.8 L388.9,317.1 L389.5,317.0 L390.1,317.2 L390.7,315.3 L391.2,315.1 L391.8,317.5 L392.4,318.2 L393.0,318.2 L393.6,318.3 L394.2,317.8 L394.8,315.8 L395.3,315.7 L395.9,316.9 L396.5,315.8 L397.1,314.7 L397.7,315.0 L398.3,315.3 L398.8,315.7 L399.4,316.8 L400.0,318.2 L400.6,316.1 L401.2,314.7 L401.8,315.3 L402.3,314.7 L402.9,313.4 L403.5,313.4 L404.1,313.5 L404.7,313.1 L405.2,313.2 L405.8,313.6 L406.4,314.4 L407.0,315.3 L407.6,313.1 L408.1,311.8 L408.7,313.7 L409.3,313.7 L409.9,311.6 L410.4,312.0 L411.0,313.3 L411.6,312.1 L412.2,311.3 L412.7,311.4 L413.3,311.3 L413.9,311.0 L414.4,312.1 L415.0,313.5 L415.6,312.4 L416.1,311.7 L416.7,312.4 L417.3,311.9 L417.8,310.1 L418.4,309.5 L419.0,309.4 L419.5,311.2 L420.1,312.2 L420.6,308.3 L421.2,306.1 L421.8,306.7 L422.3,307.3 L422.9,307.8 L423.4,309.4 L424.0,311.4 L424.5,308.8 L425.1,306.3 L425.6,307.6 L426.1,308.7 L426.7,309.3 L427.2,308.7 L427.8,306.5 L428.3,305.4 L428.8,305.2 L429.4,306.3 L429.9,308.0 L430.4,306.1 L431.0,303.5 L431.5,302.6 L432.0,301.8 L432.5,303.5 L433.0,304.8 L433.6,303.1 L434.1,301.9 L434.6,303.4 L435.1,304.5 L435.6,303.4 L436.1,302.0 L436.6,299.4 L437.1,297.6 L437.6,299.2 L438.1,300.5 L438.6,299.9 L439.0,299.2 L439.5,298.2 L440.0,297.3 L440.5,298.6 L440.9,299.8 L441.4,297.3 L441.9,294.2 L442.3,293.5 L442.8,293.6 L443.2,293.7 L443.7,294.0 L444.1,294.4 L444.6,295.2 L445.0,295.8 L445.4,293.4 L445.9,291.0 L446.3,290.4 L446.7,290.8 L447.1,290.8 L447.5,290.3 L448.0,289.8 L448.4,288.8 L448.8,287.7 L449.2,287.3 L449.6,287.7 L450.0,288.2 L450.4,287.3 L450.8,286.2 L451.1,285.6 L451.5,285.7 L451.9,285.7 L452.3,285.9 L452.7,286.0 L453.1,285.7 L453.5,284.4 L453.9,283.0 L454.2,282.2 L454.6,281.7 L455.0,281.3 L455.4,280.8 L455.8,280.2 L456.1,279.7 L456.5,279.4 L456.9,279.0 L457.3,278.2 L457.7,277.1 L458.1,276.3 L458.5,276.1 L458.8,276.0 L459.2,276.2 L459.6,276.8 L460.0,277.3 L460.4,276.0 L460.8,274.8 L461.2,275.7 L461.6,278.6 L462.0,281.3 L462.4,277.6 L462.8,273.8 L463.2,272.4 L463.6,273.0 L464.0,273.4 L464.4,271.4 L464.8,269.3 L465.2,268.9 L465.6,269.4 L466.0,269.8 L466.5,269.2 L466.9,268.5 L467.3,268.2 L467.6,268.1 L468.0,268.1 L468.4,268.8 L468.8,269.4 L469.2,268.8 L469.6,267.2 L470.0,265.6 L470.4,264.3 L470.7,263.1 L471.1,262.3 L471.5,262.8 L471.8,263.3 L472.2,262.9 L472.6,261.6 L472.9,260.3 L473.3,260.1 L473.6,260.2 L474.0,260.3 L474.3,260.9 L474.6,261.6 L475.0,262.2 L475.3,261.5 L475.6,260.5 L475.9,259.6 L476.3,259.1 L476.6,258.7 L476.9,258.3 L477.2,257.6 L477.5,256.7 L477.8,255.9 L478.1,255.0 L478.4,254.2 L478.7,253.3 L479.0,252.4 L479.3,251.0 L479.6,249.6 L479.9,248.2 L480.1,247.6 L480.4,247.7 L480.7,247.7 L481.0,247.8 L481.2,247.3 L481.5,246.7 L481.8,246.2 L482.0,245.7 L482.3,245.8 L482.5,245.8 L482.8,245.9 L483.1,245.9 L483.3,245.5 L483.5,245.1 L483.8,244.7 L484.0,244.3 L484.3,243.5 L484.5,242.7 L484.7,241.9 L485.0,241.1 L485.2,240.0 L485.4,238.8 L485.7,237.7 L485.9,236.6 L486.1,236.3 L486.3,236.9 L486.5,237.5 L486.8,238.0 L487.0,238.6 L487.2,238.1 L487.4,237.3 L487.6,236.6 L487.8,235.8 L488.0,235.1 L488.2,233.8 L488.4,232.6 L488.6,231.4 L488.8,230.2 L489.0,229.0 L489.2,228.6 L489.4,228.2 L489.6,227.8 L489.8,227.4 L490.0,227.0 L490.2,226.6 L490.4,226.2 L490.5,225.8 L490.7,225.4 L490.9,225.0 L491.1,224.3 L491.3,223.6 L491.5,222.8 L491.6,222.0 L491.8,221.3 L492.0,220.5 L492.2,219.9 L492.4,219.2 L492.5,218.6 L492.7,217.9 L492.9,217.3 L493.1,216.7 L493.2,216.4 L493.4,216.0 L493.6,215.6 L493.7,215.3 L493.9,214.9 L494.1,214.3 L494.3,213.6 L494.4,212.8 L494.6,212.1 L494.8,211.4 L494.9,210.6 L495.1,210.0 L495.3,209.5 L495.4,209.0 L495.6,208.5 L495.8,208.0 L495.9,207.5 L496.1,206.5 L496.3,205.3 L496.4,204.1 L496.6,203.0 L496.8,201.8 L497.0,200.6 L497.1,199.8 L497.3,199.3 L497.5,198.7 L497.6,198.1 L497.8,197.5 L498.0,197.0 L498.1,197.3 L498.3,197.9 L498.5,198.5 L498.7,199.0 L498.8,199.6 L499.0,200.2 L499.2,198.6 L499.3,196.9 L499.5,195.2 L499.7,193.4 L499.9,191.7 L500.0,190.4 L500.2,190.5 L500.4,190.6 L500.6,190.7 L500.7,190.9 L500.9,191.0 L501.1,190.8 L501.2,190.2 L501.4,189.5 L501.6,188.9 L501.8,188.3 L501.9,187.6 L502.1,187.0 L502.3,186.4 L502.5,185.8 L502.7,185.2 L502.8,184.6 L503.0,184.0 L503.2,183.1 L503.4,182.2 L503.5,181.3 L503.7,180.4 L503.9,179.5 L504.1,178.9 L504.2,178.9 L504.4,178.9 L504.6,179.0 L504.8,179.0 L504.9,179.0 L505.1,178.5 L505.3,177.7 L505.5,176.9 L505.6,176.1 L505.8,175.3 L506.0,174.5 L506.2,173.7 L506.3,172.9 L506.5,172.0 L506.7,171.2 L506.9,170.4 L507.0,169.6 L507.2,168.6 L507.4,167.7 L507.6,166.7 L507.7,165.8 L507.9,164.8 L508.1,164.3 L508.3,164.1 L508.4,163.9 L508.6,163.8 L508.8,163.6 L508.9,163.4 L509.1,162.9 L509.3,162.2 L509.5,161.5 L509.6,160.8 L509.8,160.1 L510.0,159.4 L510.1,158.6 L510.3,157.8 L510.5,157.0 L510.7,156.2 L510.8,155.4 L511.0,154.6 L511.2,154.5 L511.3,154.5 L511.5,154.5 L511.7,154.5 L511.8,154.4 L512.0,154.4 L512.2,153.9 L512.3,153.4 L512.5,152.9 L512.7,152.4 L512.8,151.9 L513.0,151.3 L513.1,150.8 L513.3,150.4 L513.5,149.9 L513.6,149.4 L513.8,148.9 L514.0,148.4 L514.1,147.6 L514.3,146.8 L514.4,146.0 L514.6,145.2 L514.8,144.4 L514.9,143.6 L515.1,142.9 L515.3,142.2 L515.4,141.5 L515.6,140.8 L515.8,140.1 L515.9,139.4 L516.1,139.0 L516.3,138.9 L516.4,138.8 L516.6,138.8 L516.8,138.7 L517.0,138.6 L517.2,138.0 L517.3,137.3 L517.5,136.6 L517.7,135.8 L517.9,135.1 L518.1,134.8 L518.3,134.8 L518.5,134.8 L518.7,134.9 L518.9,134.9 L519.1,134.4 L519.3,133.2 L519.5,131.9 L519.7,130.6 L519.9,129.2 L520.2,128.0 L520.4,126.8 L520.6,125.5 L520.8,124.3 L521.1,123.5 L521.3,123.9 L521.6,124.3 L521.8,124.7 L522.1,125.1 L522.3,125.2 L522.6,125.4 L522.9,125.6 L523.1,124.9 L523.4,123.2 L523.7,121.5 L524.0,119.8 L524.3,119.0 L524.6,118.2 L524.9,117.4 L525.2,116.6 L525.5,115.8 L525.9,115.1 L526.2,115.3 L526.5,116.5 L526.9,117.8 L527.2,117.1 L527.6,115.1 L527.9,113.1 L528.3,112.4 L528.7,111.9 L529.2,111.6 L529.6,111.7 L530.1,111.4 L530.6,109.4 L531.1,108.0 L531.7,109.0 L532.2,109.1 L532.8,107.8 L533.4,108.4 L534.0,109.8 L534.6,110.6 L535.2,111.4 L535.8,112.1 L536.3,111.5 L536.9,110.3 L537.4,111.4 L537.9,112.9 L538.4,112.3 L538.9,111.5 L539.4,110.7 L539.8,110.0 L540.2,111.1 L540.6,113.4 L541.0,115.4 L541.4,115.3 L541.7,115.3 L542.0,115.4 L542.3,116.1 L542.5,116.8 L542.8,117.5 L543.0,118.0 L543.2,117.4 L543.4,116.9 L543.6,116.4 L543.8,116.0 L544.0,115.6 L544.1,117.0 L544.3,118.4 L544.5,119.9 L544.6,121.3 L544.8,122.8 L544.9,124.2 L545.1,125.3 L545.2,125.9 L545.4,126.5 L545.5,127.1 L545.7,127.7 L545.8,128.2 L546.0,128.8 L546.2,129.4 L546.3,130.0 L546.5,130.6 L546.7,131.1 L546.8,131.7 L547.0,132.3 L547.2,133.1 L547.3,134.0 L547.5,134.8 L547.7,135.7 L547.8,136.5 L548.0,137.3 L548.2,137.4 L548.4,137.5 L548.5,137.6 L548.7,137.7 L548.9,137.8 L549.0,138.2 L549.2,139.6 L549.4,141.0 L549.5,142.5 L549.7,143.9 L549.9,145.3 L550.0,146.3 L550.2,146.4 L550.4,146.5 L550.6,146.6 L550.7,146.7 L550.9,146.8 L551.1,147.1 L551.2,147.6 L551.4,148.1 L551.6,148.6 L551.7,149.1 L551.9,149.7 L552.1,149.7 L552.2,149.3 L552.4,148.8 L552.6,148.4 L552.8,147.9 L552.9,147.4 L553.1,147.7 L553.3,148.4 L553.5,149.2 L553.6,149.9 L553.8,150.7 L554.0,151.5 L554.2,153.1 L554.3,154.9 L554.5,156.7 L554.7,158.6 L554.9,160.4 L555.1,161.8 L555.2,161.9 L555.4,162.1 L555.6,162.3 L555.8,162.4 L556.0,162.6 L556.2,163.3 L556.4,164.0 L556.5,164.8 L556.7,165.6 L556.9,166.4 L557.1,166.7 L557.3,166.8 L557.5,166.8 L557.7,166.8 L557.9,166.9 L558.1,167.3 L558.3,167.9 L558.5,168.6 L558.7,169.3 L558.9,170.0 L559.1,170.8 L559.4,171.6 L559.6,172.5 L559.8,173.4 L560.0,174.2 L560.2,174.2 L560.4,174.2 L560.7,174.1 L560.9,174.1 L561.1,174.7 L561.3,176.2 L561.6,177.7 L561.8,179.3 L562.0,180.6 L562.3,180.0 L562.5,179.4 L562.7,178.8 L563.0,178.1 L563.2,179.2 L563.5,180.4 L563.7,181.6 L564.0,182.9 L564.2,183.2 L564.5,183.5 L564.8,183.8 L565.0,184.1 L565.3,185.0 L565.6,185.9 L565.8,186.8 L566.1,187.7 L566.4,188.7 L566.7,189.8 L567.0,190.8 L567.3,190.1 L567.6,189.2 L567.9,188.3 L568.2,188.8 L568.5,190.3 L568.8,191.8 L569.1,192.8 L569.4,193.1 L569.8,193.4 L570.1,193.9 L570.4,194.9 L570.8,195.9 L571.1,196.5 L571.5,196.4 L571.8,196.3 L572.2,196.3 L572.5,196.4 L572.9,196.5 L573.3,197.4 L573.6,198.7 L574.0,199.9 L574.4,201.0 L574.8,202.1 L575.2,202.7 L575.6,202.7 L576.0,202.8 L576.4,202.7 L576.8,202.6 L577.2,202.9 L577.6,203.5 L578.1,203.9 L578.5,202.6 L578.9,201.3 L579.4,202.2 L579.8,203.5 L580.3,204.4 L580.7,205.1 L581.2,205.5 L581.6,205.6 L582.1,205.8 L582.6,206.0 L583.0,206.3 L583.5,207.2 L584.0,208.2 L584.5,209.0 L584.9,209.8 L585.4,211.6 L585.9,213.4 L586.4,211.7 L586.9,209.3 L587.4,209.1 L588.0,209.2 L588.5,211.3 L589.0,213.6 L589.5,213.1 L590.0,212.5 L590.5,211.7 L591.1,211.4 L591.6,214.3 L592.1,216.0 L592.7,214.5 L593.2,213.5 L593.7,213.7 L594.3,213.7 L594.8,213.7 L595.3,213.6 L595.9,213.6 L596.4,214.6 L596.9,215.9 L597.5,215.3 L598.0,214.6 L598.6,218.5 L599.1,221.4 L599.6,219.4 L600.2,217.9 L600.7,217.6 L601.2,217.2 L601.8,216.9 L602.3,217.6 L602.8,219.0 L603.4,220.1 L603.9,221.2 L604.4,221.0 L605.0,220.5 L605.5,219.4 L606.0,218.2 L606.5,219.4 L607.0,220.6 L607.5,219.3 L608.1,218.6 L608.6,222.1 L609.1,225.1 L609.6,224.7 L610.1,224.3 L610.5,224.2 L611.0,224.1 L611.5,224.6 L612.0,225.0 L612.5,224.6 L612.9,224.2 L613.4,224.8 L613.8,225.6 L614.3,226.7 L614.7,228.1 L615.2,228.8 L615.6,228.3 L616.0,228.0 L616.4,228.9 L616.9,229.9 L617.3,230.3 L617.7,230.5 L618.1,230.7 L618.5,231.1 L618.8,231.6 L619.2,232.1 L619.6,232.7 L620.0,233.2 L620.3,234.1 L620.7,235.1 L621.0,236.0 L621.4,235.5 L621.7,235.1 L622.1,235.0 L622.4,236.2 L622.7,237.3 L623.0,238.2 L623.4,237.8 L623.7,237.4 L624.0,237.0 L624.3,237.6 L624.6,238.2 L624.9,238.9 L625.2,239.4 L625.5,239.9 L625.7,240.3 L626.0,240.8 L626.3,242.2 L626.5,243.6 L626.8,244.9 L627.1,246.0 L627.3,245.9 L627.6,245.9 L627.8,245.9 L628.0,246.1 L628.3,247.3 L628.5,248.6 L628.7,249.8 L628.9,251.1 L629.2,251.1 L629.4,250.7 L629.6,250.4 L629.8,250.0 L630.0,249.7 L630.2,250.6 L630.4,251.7 L630.5,252.8 L630.7,253.9 L630.9,255.0 L631.1,255.5 L631.3,255.6 L631.4,255.6 L631.6,255.7 L631.8,255.8 L631.9,255.8 L632.1,256.6 L632.2,257.8 L632.4,259.1 L632.5,260.4 L632.7,261.6 L632.8,262.9 L633.0,264.1 L633.1,264.5 L633.2,264.5 L633.4,264.6 L633.5,264.8 L633.6,264.9 L633.8,265.0 L633.9,265.1 L634.0,265.3 L634.1,266.2 L634.2,267.0 L634.4,267.9 L634.5,268.7 L634.6,269.6 L634.7,270.4 L634.8,271.3 L634.9,272.1 L635.0,272.8 L635.1,273.2 L635.3,273.5 L635.4,273.8 L635.5,274.2 L635.6,274.5 L635.7,274.9 L635.8,275.2 L635.9,275.6 L636.0,276.0 L636.1,276.5 L636.2,277.1 L636.3,277.7 L636.4,278.2 L636.5,278.8 L636.6,279.4 L636.7,280.0 L636.8,280.5 L636.9,281.1 L637.0,281.7 L637.1,282.5 L637.2,283.3 L637.3,284.1 L637.4,284.9 L637.5,285.7 L637.6,286.5 L637.7,287.2 L637.8,288.0 L637.9,288.8 L638.0,289.6 L638.1,289.8 L638.2,290.0 L638.3,290.2 L638.4,290.4 L638.5,290.6 L638.6,290.8 L638.7,291.0 L638.8,291.3 L638.9,291.5 L639.0,291.7 L639.1,292.3 L639.2,293.0 L639.3,293.7 L639.4,294.4 L639.5,295.1 L639.6,295.8 L639.7,296.5 L639.8,297.1 L639.9,297.8 L639.9,298.5 L640.0,299.4 L640.1,300.5 L640.2,301.6 L640.3,302.7 L640.4,303.8 L640.5,304.9 L640.6,306.0 L640.7,307.1 L640.8,308.2 L640.9,309.3 L641.0,310.4 L641.1,310.7 L641.2,310.9 L641.3,311.1 L641.4,311.2 L641.4,311.4 L641.5,311.5 L641.6,311.7 L641.7,311.9 L641.8,312.0 L641.9,312.2 L642.0,312.4 L642.1,313.3 L642.2,314.2 L642.3,315.1 L642.4,315.9 L642.5,316.8 L642.6,317.7 L642.6,318.6 L642.7,319.5 L642.8,320.4 L642.9,321.3 L643.0,322.1 L643.1,322.4 L643.2,322.7 L643.3,323.0 L643.4,323.3 L643.5,323.6 L643.5,323.9 L643.6,324.2 L643.7,324.5 L643.8,324.8 L643.9,325.1 L644.0,325.3 L644.1,325.8 L644.2,326.2 L644.3,326.7 L644.4,327.2 L644.4,327.6 L644.5,328.1 L644.6,328.5 L644.7,329.0 L644.8,329.4 L644.9,329.9 L645.0,330.3 L645.1,331.0 L645.1,331.9 L645.2,332.7 L645.3,333.5 L645.4,334.3 L645.5,335.1 L645.6,335.9 L645.7,336.7 L645.8,337.5 L645.8,338.3 L645.9,339.1 L646.0,339.9 L646.1,340.7 L646.2,341.6 L646.3,342.4 L646.4,343.2 L646.5,344.0 L646.5,344.8 L646.6,345.6 L646.7,346.4 L646.8,347.3 L646.9,348.1 L647.0,348.9 L647.1,349.5 L647.1,349.9 L647.2,350.3 L647.3,350.8 L647.4,351.2 L647.5,351.7 L647.6,352.1 L647.7,352.6 L647.7,353.0 L647.8,353.4 L647.9,353.9 L648.0,354.3 L648.1,354.9 L648.2,355.4 L648.2,356.0 L648.3,356.5 L648.4,357.1 L648.5,357.6 L648.6,358.2 L648.7,358.7 L648.8,359.2 L648.8,359.8 L648.9,360.3 L649.0,360.9 L649.1,361.7 L649.2,362.5 L649.3,363.3 L649.3,364.0 L649.4,364.8 L649.5,365.6 L649.6,366.4 L649.7,367.2 L649.7,368.0 L649.8,368.8 L649.9,369.5 L650.0,370.3 L650.1,370.7 L650.2,371.0 L650.2,371.3 L650.3,371.6 L650.4,372.0 L650.5,372.3 L650.6,372.6 L650.7,373.0 L650.7,373.3 L650.8,373.6 L650.9,374.0 L651.0,374.3 L651.1,375.0 L651.1,375.8 L651.2,376.7 L651.3,377.5 L651.4,378.4 L651.5,379.2 L651.6,380.0 L651.6,380.9 L651.7,381.7 L651.8,382.5 L651.9,383.4 L652.0,384.2 L652.0,384.9 L652.1,385.4 L652.2,385.9 L652.3,386.5 L652.4,387.0 L652.4,387.5 L652.5,388.1 L652.6,388.6 L652.7,389.1 L652.8,389.6 L652.8,390.2 L652.9,390.7 L653.0,391.2 L653.1,391.6 L653.2,392.0 L653.2,392.4 L653.3,392.8 L653.4,393.1 L653.5,393.5 L653.6,393.9 L653.6,394.3 L653.7,394.7 L653.8,395.1 L653.9,395.4 L654.0,395.8 L654.0,396.4 L654.1,397.3 L654.2,398.2 L654.3,399.1 L654.3,400.0 L654.4,400.9 L654.5,401.8 L654.6,402.7 L654.7,403.6 L654.7,404.5 L654.8,405.4 L654.9,406.3 L655.0,407.2 L655.1,407.9 L655.1,408.6 L655.2,409.2 L655.3,409.8 L655.4,410.4 L655.4,411.1 L655.5,411.7 L655.6,412.3 L655.7,412.9 L655.8,413.6 L655.8,414.2 L655.9,414.8 L656.0,415.4 L656.1,415.9 L656.1,416.2 L656.2,416.6 L656.3,417.0 L656.4,417.4 L656.5,417.8 L656.5,418.2 L656.6,418.5 L656.7,418.9 L656.8,419.3 L656.8,419.7 L656.9,420.1 L657.0,420.5 L657.1,421.1 L657.2,421.7 L657.2,422.4 L657.3,423.0 L657.4,423.7 L657.5,424.3 L657.5,425.0 L657.6,425.6 L657.7,426.3 L657.8,427.0 L657.8,427.6 L657.9,428.3 L658.0,428.9 L658.1,429.4 L658.1,430.0 L658.2,430.5 L658.3,431.0 L658.4,431.6 L658.5,432.1 L658.5,432.6 L658.6,433.2 L658.7,433.7 L658.8,434.2 L658.8,434.8 L658.9,435.3 L659.0,435.8 L659.1,436.3 L659.1,436.8 L659.2,437.3 L659.3,437.7 L659.4,438.2 L659.4,438.7 L659.5,439.1 L659.6,439.6 L659.7,440.1 L659.7,440.5 L659.8,441.0 L659.9,441.5 L660.0,441.9 L660.1,442.7 L660.1,443.6 L660.2,444.5 L660.3,445.3 L660.4,446.2 L660.4,447.1 L660.5,448.0 L660.6,448.9 L660.7,449.8 L660.7,450.6 L660.8,451.5 L660.9,452.4 L661.0,453.3 L661.0,453.9 L661.1,454.2 L661.2,454.6 L661.3,454.9 L661.3,455.2 L661.4,455.5 L661.5,455.9 L661.6,456.2 L661.6,456.5 L661.7,456.8 L661.8,457.1 L661.9,457.5 L661.9,457.8 L662.0,458.2 L662.1,459.1 L662.2,459.9 L662.2,460.7 L662.3,461.5 L662.4,462.4 L662.5,463.2 L662.5,464.0 L662.6,464.8 L662.7,465.7 L662.8,466.5 L662.8,467.3 L662.9,468.1 L663.0,469.0 L663.1,469.4 L663.1,469.9 L663.2,470.3 L663.3,470.7 L663.4,471.2 L663.4,471.6 L663.5,472.0 L663.6,472.5 L663.7,472.9 L663.7,473.4 L663.8,473.8 L663.9,474.2 L664.0,474.7 L664.0,475.2 L664.1,475.7 L664.2,476.2 L664.3,476.7 L664.3,477.2 L664.4,477.8 L664.5,478.3 L664.6,478.8 L664.7,479.3 L664.7,479.8 L664.8,480.4 L664.9,480.9 L665.0,481.4 L665.0,482.0 L665.1,482.9 L665.2,483.7 L665.3,484.6 L665.3,485.4 L665.4,486.2 L665.5,487.1 L665.6,487.9 L665.6,488.8 L665.7,489.6 L665.8,490.5 L665.9,491.3 L665.9,492.1 L666.0,493.0 L666.1,493.5 L666.2,494.0 L666.2,494.6 L666.3,495.1 L666.4,495.6 L666.5,496.2 L666.5,496.7 L666.6,497.3 L666.7,497.8 L666.8,498.3 L666.8,498.9 L666.9,499.4 L667.0,499.9 L667.1,500.7 L667.1,501.6 L667.2,502.4 L667.3,503.3 L667.4,504.1 L667.4,504.9 L667.5,505.8 L667.6,506.6 L667.7,507.4 L667.7,508.3 L667.8,509.1 L667.9,510.0 L668.0,510.8 L668.0,511.3 L668.1,511.6 L668.2,511.9 L668.3,512.2 L668.4,512.5 L668.4,512.8 L668.5,513.1 L668.6,513.4 L668.7,513.7 L668.7,514.1 L668.8,514.4 L668.9,514.7 L669.0,515.0 L669.0,515.4 L669.1,516.0 L669.2,516.7 L669.3,517.3 L669.3,517.9 L669.4,518.6 L669.5,519.2 L669.6,519.8 L669.6,520.4 L669.7,521.1 L669.8,521.7 L669.9,522.3 L670.0,523.0 L670.0,523.6 L670.1,524.2 L670.2,524.8 L670.3,525.3 L670.3,525.9 L670.4,526.5 L670.5,527.1 L670.6,527.7 L670.6,528.3 L670.7,528.9 L670.8,529.5 L670.9,530.1 L671.0,530.7 L671.0,531.2 L671.1,531.8 L671.2,532.3 L671.3,532.8 L671.3,533.4 L671.4,533.9 L671.5,534.5 L671.6,535.0 L671.6,535.5 L671.7,536.1 L671.8,536.6 L671.9,537.1 L672.0,537.7 L672.0,538.4 L672.1,539.2 L672.2,540.0 L672.3,540.9 L672.3,541.7 L672.4,542.6 L672.5,543.4 L672.6,544.2 L672.7,545.1 L672.7,545.9 L672.8,546.7 L672.9,547.6 L673.0,548.4 L673.0,549.1 L673.1,549.8 L673.2,550.4 L673.3,551.0 L673.4,551.6 L673.4,552.3 L673.5,552.9 L673.6,553.5 L673.7,554.1 L673.8,554.8 L673.8,555.4 L673.9,556.0 L674.0,556.6 L674.1,557.1 L674.2,557.6 L674.2,558.0 L674.3,558.5 L674.4,559.0 L674.5,559.4 L674.5,559.9 L674.6,560.4 L674.7,560.8 L674.8,561.3 L674.9,561.7 L674.9,562.2 L675.0,562.6 L675.1,562.9 L675.2,563.3 L675.3,563.6 L675.3,563.9 L675.4,564.2 L675.5,564.6 L675.6,564.9 L675.7,565.2 L675.8,565.5 L675.8,565.9 L675.9,566.2 L676.0,566.5 L676.1,567.3 L676.2,568.1 L676.2,569.0 L676.3,569.8 L676.4,570.6 L676.5,571.5 L676.6,572.3 L676.7,573.1 L676.7,574.0 L676.8,574.8 L676.9,575.7 L677.0,576.5 L677.1,577.1 L677.2,577.6 L677.2,578.1 L677.3,578.6 L677.4,579.2 L677.5,579.7 L677.6,580.2 L677.7,580.7 L677.8,581.3 L677.9,581.8 L677.9,582.3 L678.0,582.8 L678.1,583.3 L678.2,583.8 L678.3,584.3 L678.4,584.8 L678.5,585.3 L678.6,585.8 L678.7,586.3 L678.8,586.8 L678.9,587.3 L678.9,587.8 L679.0,588.3 L679.1,588.7 L679.2,589.1 L679.3,589.4 L679.4,589.8 L679.5,590.2 L679.6,590.6 L679.7,591.0 L679.8,591.3 L679.9,591.7 L680.0,592.2 L680.1,593.2 L680.2,594.3 L680.3,595.4 L680.4,596.5 L680.5,597.6 L680.6,598.7 L680.7,599.8 L680.8,600.9 L680.9,602.0 L681.0,602.9 L681.2,603.6 L681.3,604.2 L681.4,604.9 L681.5,605.5 L681.6,606.2 L681.7,606.9 L681.8,607.5 L681.9,608.2 L682.0,608.8 L682.2,609.1 L682.3,609.5 L682.4,609.9 L682.5,610.3 L682.6,610.7 L682.7,611.0 L682.9,611.4 L683.0,611.8 L683.1,612.4 L683.2,613.0 L683.3,613.6 L683.5,614.2 L683.6,614.9 L683.7,615.5 L683.8,616.1 L684.0,616.7 L684.1,617.6 L684.2,618.5 L684.4,619.4 L684.5,620.3 L684.6,621.3 L684.7,622.2 L684.9,623.1 L685.0,624.0 L685.2,624.7 L685.3,625.3 L685.4,625.9 L685.6,626.6 L685.7,627.2 L685.8,627.8 L686.0,628.5 L686.1,628.6 L686.3,628.7 L686.4,628.8 L686.6,628.8 L686.7,628.9 L686.9,629.0 L687.0,629.0 L687.2,628.6 L687.3,628.3 L687.5,627.9 L687.6,627.6 L687.8,627.2 L687.9,626.8 L688.1,627.7 L688.3,629.5 L688.4,631.2 L688.6,632.9 L688.7,634.6 L688.9,636.4 L689.1,637.5 L689.2,637.9 L689.4,638.3 L689.6,638.7 L689.7,639.1 L689.9,639.5 L690.1,640.1 L690.3,640.8 L690.5,641.6 L690.7,642.4 L690.8,643.1 L691.0,643.7 L691.3,643.8 L691.5,643.9 L691.7,643.9 L691.9,643.9 L692.2,644.1 L692.4,644.4 L692.7,644.7 L692.9,645.0 L693.2,646.0 L693.5,647.4 L693.8,648.8 L694.1,649.9 L694.4,649.9 L694.7,649.9 L695.1,650.0 L695.5,650.7 L695.9,651.5 L696.4,652.2 L696.9,652.8 L697.5,652.5 L698.1,651.8 L698.6,649.9 L699.0,648.4 L699.4,649.6 L699.8,650.7 L700.2,650.5 L700.5,649.3 L700.9,648.1 L701.2,647.4 L701.5,647.1 L701.8,646.7 L702.2,646.5 L702.5,646.4 L702.8,646.2 L703.0,645.8 L703.3,644.2 L703.6,642.7 L703.9,641.1 L704.2,640.5 L704.4,640.6 L704.7,640.7 L704.9,640.7 L705.2,639.7 L705.4,638.4 L705.7,637.1 L705.9,635.8 L706.1,635.4 L706.4,635.4 L706.6,635.4 L706.8,635.4 L707.0,635.4 L707.2,635.2 L707.4,635.0 L707.7,634.8 L707.9,634.6 L708.0,634.2 L708.2,633.5 L708.4,632.7 L708.6,631.9 L708.8,631.2 L709.0,630.4 L709.2,629.8 L709.4,629.2 L709.5,628.6 L709.7,627.9 L709.9,627.3 L710.1,626.8 L710.2,626.5 L710.4,626.2 L710.6,625.9 L710.7,625.6 L710.9,625.4 L711.1,624.8 L711.2,623.9 L711.4,623.0 L711.6,622.1 L711.7,621.2 L711.9,620.3 L712.0,619.4 L712.2,618.5 L712.4,617.5 L712.5,616.5 L712.7,615.6 L712.8,614.6 L713.0,613.7 L713.2,613.9 L713.3,614.2 L713.5,614.4 L713.6,614.6 L713.8,614.9 L713.9,615.1 L714.1,614.7 L714.2,613.9 L714.4,613.1 L714.5,612.2 L714.7,611.4 L714.9,610.5 L715.0,609.7 L715.2,609.3 L715.3,608.9 L715.5,608.5 L715.6,608.1 L715.8,607.7 L715.9,607.2 L716.0,606.7 L716.2,605.7 L716.3,604.8 L716.5,603.9 L716.6,602.9 L716.8,602.0 L716.9,601.1 L717.1,600.3 L717.2,599.7 L717.4,599.1 L717.5,598.5 L717.6,597.9 L717.8,597.3 L717.9,596.7 L718.1,596.1 L718.2,595.4 L718.4,594.8 L718.5,594.1 L718.6,593.4 L718.8,592.8 L718.9,592.1 L719.1,591.3 L719.2,590.4 L719.3,589.5 L719.5,588.6 L719.6,587.7 L719.8,586.7 L719.9,585.8 L720.0,585.1 L720.2,584.9 L720.3,584.7 L720.4,584.5 L720.6,584.3 L720.7,584.1 L720.8,583.9 L721.0,583.8 L721.1,583.2 L721.3,582.6 L721.4,581.9 L721.5,581.3 L721.7,580.7 L721.8,580.1 L721.9,579.5 L722.1,579.1 L722.2,579.1 L722.3,579.1 L722.5,579.1 L722.6,579.1 L722.7,579.1 L722.9,579.1 L723.0,579.1 L723.1,577.6 L723.3,576.1 L723.4,574.6 L723.5,573.1 L723.7,571.6 L723.8,570.1 L723.9,568.6 L724.1,567.7 L724.2,567.6 L724.3,567.5 L724.5,567.4 L724.6,567.4 L724.7,567.3 L724.8,567.2 L725.0,567.1 L725.1,566.6 L725.2,565.9 L725.4,565.3 L725.5,564.6 L725.6,564.0 L725.8,563.4 L725.9,562.7 L726.0,562.1 L726.2,561.5 L726.3,561.0 L726.4,560.4 L726.6,559.8 L726.7,559.3 L726.8,558.7 L726.9,558.2 L727.1,557.6 L727.2,557.0 L727.3,556.4 L727.5,555.8 L727.6,555.2 L727.7,554.6 L727.9,553.9 L728.0,553.3 L728.1,552.8 L728.3,552.4 L728.4,551.9 L728.5,551.4 L728.7,550.9 L728.8,550.4 L728.9,549.9 L729.1,549.5 L729.2,549.0 L729.3,548.6 L729.5,548.2 L729.6,547.8 L729.7,547.4 L729.9,547.0 L730.0,546.5 L730.1,545.3 L730.3,544.1 L730.4,542.8 L730.5,541.5 L730.7,540.3 L730.8,539.0 L730.9,537.8 L731.1,537.2 L731.2,537.3 L731.3,537.4 L731.5,537.5 L731.6,537.6 L731.8,537.7 L731.9,537.8 L732.0,537.7 L732.2,536.8 L732.3,535.9 L732.4,535.0 L732.6,534.1 L732.7,533.2 L732.9,532.3 L733.0,531.4 L733.1,530.6 L733.3,529.8 L733.4,529.1 L733.6,528.3 L733.7,527.5 L733.9,526.7 L734.0,525.9 L734.1,525.1 L734.3,524.3 L734.4,523.4 L734.6,522.6 L734.7,521.7 L734.9,520.9 L735.0,520.1 L735.1,519.5 L735.3,518.9 L735.4,518.4 L735.6,517.8 L735.7,517.2 L735.9,516.6 L736.0,516.2 L736.2,516.1 L736.3,516.0 L736.5,516.0 L736.6,515.9 L736.8,515.8 L736.9,515.8 L737.1,515.3 L737.2,514.4 L737.4,513.5 L737.5,512.6 L737.7,511.7 L737.8,510.8 L738.0,509.9 L738.1,509.3 L738.3,508.7 L738.5,508.2 L738.6,507.6 L738.8,507.0 L738.9,506.4 L739.1,505.9 L739.2,505.6 L739.4,505.2 L739.6,504.8 L739.7,504.4 L739.9,504.0 L740.0,503.7 L740.2,503.2 L740.4,502.8 L740.5,502.4 L740.7,502.0 L740.8,501.6 L741.0,501.2 L741.2,500.4 L741.3,499.7 L741.5,498.9 L741.7,498.2 L741.8,497.5 L742.0,496.7 L742.2,495.9 L742.3,495.1 L742.5,494.3 L742.7,493.5 L742.9,492.7 L743.0,492.0 L743.2,491.6 L743.4,491.2 L743.5,490.8 L743.7,490.4 L743.9,490.0 L744.1,489.6 L744.2,489.2 L744.4,488.8 L744.6,488.4 L744.8,487.9 L745.0,487.5 L745.1,486.8 L745.3,485.9 L745.5,485.0 L745.7,484.1 L745.9,483.2 L746.0,482.6 L746.2,482.7 L746.4,482.9 L746.6,483.0 L746.8,483.2 L747.0,483.3 L747.2,483.0 L747.3,482.6 L747.5,482.1 L747.7,481.7 L747.9,481.3 L748.1,480.8 L748.3,480.2 L748.5,479.7 L748.7,479.1 L748.9,478.5 L749.1,477.8 L749.3,476.6 L749.5,475.4 L749.7,474.2 L749.8,473.0 L750.0,471.9 L750.2,471.4 L750.4,470.8 L750.6,470.2 L750.8,469.6 L751.0,469.0 L751.3,468.2 L751.5,467.4 L751.7,466.6 L751.9,465.8 L752.1,465.4 L752.3,465.8 L752.5,466.2 L752.7,466.6 L752.9,467.0 L753.1,466.4 L753.3,465.1 L753.5,463.8 L753.8,462.4 L754.0,461.1 L754.2,461.3 L754.4,461.9 L754.6,462.5 L754.8,463.1 L755.0,463.1 L755.3,460.7 L755.5,458.3 L755.7,455.8 L755.9,453.4 L756.1,452.9 L756.4,453.4 L756.6,453.8 L756.8,454.3 L757.0,454.6 L757.3,454.1 L757.5,453.7 L757.7,453.3 L758.0,452.8 L758.2,452.1 L758.4,451.3 L758.6,450.6 L758.9,449.8 L759.1,449.3 L759.4,449.0 L759.6,448.7 L759.8,448.4 L760.1,448.2 L760.3,448.4 L760.5,448.5 L760.8,448.6 L761.0,448.6 L761.3,447.0 L761.5,445.5 L761.8,444.0 L762.0,442.5 L762.3,442.3 L762.5,442.2 L762.8,442.1 L763.0,442.0 L763.3,440.8 L763.5,439.6 L763.8,438.4 L764.0,437.2 L764.3,436.3 L764.5,435.3 L764.8,434.4 L765.1,433.5 L765.3,433.1 L765.6,432.7 L765.9,432.2 L766.1,432.2 L766.4,432.7 L766.7,433.2 L766.9,433.7 L767.2,433.2 L767.5,432.4 L767.8,431.6 L768.0,430.6 L768.3,429.1 L768.6,427.6 L768.9,426.1 L769.2,425.7 L769.5,426.2 L769.7,426.7 L770.0,427.1 L770.3,426.7 L770.6,426.4 L770.9,426.0 L771.2,425.5 L771.5,424.9 L771.8,424.3 L772.1,423.9 L772.4,423.8 L772.7,423.6 L773.0,423.5 L773.3,421.4 L773.6,419.3 L773.9,417.2 L774.2,416.5 L774.5,416.3 L774.9,416.2 L775.2,415.7 L775.5,415.2 L775.8,414.6 L776.1,414.4 L776.5,414.7 L776.8,415.0 L777.1,415.2 L777.5,415.5 L777.8,415.8 L778.1,415.3 L778.5,413.7 L778.8,412.0 L779.1,411.0 L779.5,411.1 L779.8,411.1 L780.2,411.1 L780.5,411.0 L780.9,410.8 L781.2,409.9 L781.6,408.5 L781.9,407.1 L782.3,407.1 L782.7,407.6 L783.0,407.9 L783.4,406.8 L783.7,405.6 L784.1,405.1 L784.5,406.1 L784.9,407.0 L785.2,406.9 L785.6,406.1 L786.0,405.4 L786.4,403.6 L786.8,401.7 L787.1,400.3 L787.5,399.8 L787.9,399.3 L788.3,400.3 L788.7,401.7 L789.1,402.0 L789.5,399.4 L789.9,396.8 L790.3,397.2 L790.7,398.4 L791.1,398.7 L791.5,396.9 L792.0,395.2 L792.4,394.1 L792.8,393.0 L793.2,393.5 L793.6,395.5 L794.1,397.1 L794.5,395.5 L794.9,394.0 L795.3,392.4 L795.8,390.7 L796.2,390.0 L796.7,390.3 L797.1,390.3 L797.5,389.5 L798.0,388.6 L798.4,388.0 L798.9,387.4 L799.3,387.5 L799.8,387.9 L800.2,388.4 L800.7,389.1 L801.1,388.8 L801.6,386.1 L802.1,383.9 L802.5,385.3 L803.0,386.7 L803.5,384.6 L803.9,382.4 L804.4,382.8 L804.9,383.7 L805.3,382.8 L805.8,381.2 L806.3,380.3 L806.8,380.1 L807.3,380.1 L807.7,380.3 L808.2,381.1 L808.7,382.3 L809.2,382.9 L809.7,382.4 L810.2,381.6 L810.7,380.3 L811.2,379.3 L811.6,378.7 L812.1,378.4 L812.6,378.5 L813.1,379.3 L813.6,381.6 L814.1,382.5 L814.7,379.7 L815.2,377.5 L815.7,376.7 L816.2,375.9 L816.7,375.2 L817.2,374.8 L817.7,374.6 L818.2,374.8 L818.7,375.5 L819.3,375.7 L819.8,375.3 L820.3,373.3 L820.8,369.9 L821.3,371.4 L821.9,375.8 L822.4,375.6 L822.9,373.6 L823.4,372.5 L824.0,371.6 L824.5,374.0 L825.0,376.4 L825.6,371.6 L826.1,367.6 L826.6,367.7 L827.2,368.3 L827.7,370.6 L828.2,371.3 L828.8,369.9 L829.3,369.6 L829.8,370.3 L830.4,370.6 L830.9,370.7 L831.5,371.1 L832.0,371.4 L832.6,369.9 L833.1,368.3 L833.7,366.7 L834.2,365.1 L834.8,363.7 L835.3,364.1 L835.9,365.9 L836.4,364.6 L837.0,362.2 L837.5,363.8 L838.1,365.2 L838.6,364.0 L839.2,363.6 L839.7,364.7 L840.3,365.2 L840.9,365.4 L841.4,364.6 L842.0,363.6 L842.6,361.9 L843.1,360.8 L843.7,362.3 L844.2,362.7 L844.8,361.5 L845.4,361.7 L845.9,362.7 L846.5,361.9 L847.1,361.4 L847.6,364.4 L848.2,364.9 L848.8,361.4 L849.4,359.0 L849.9,357.2 L850.5,357.9 L851.1,358.9 L851.7,359.9 L852.2,361.6 L852.8,364.6 L853.4,364.4 L854.0,362.6 L854.5,360.2 L855.1,358.3 L855.7,358.9 L856.3,358.4 L856.9,356.9 L857.4,356.1 L858.0,355.7 L858.6,358.4 L859.2,360.0 L859.8,359.3 L860.3,358.1 L860.9,356.6 L861.5,356.3 L862.1,356.4 L862.7,357.6 L863.3,358.3 L863.8,358.5 L864.4,357.2 L865.0,355.3 L865.6,354.1 L866.2,354.3 L866.8,357.2 L867.4,357.1 L868.0,355.0 L868.5,353.5 L869.1,352.9 L869.7,354.7 L870.3,355.7 L870.9,356.1 L871.5,356.8 L872.1,357.3 L872.7,355.5 L873.3,354.8 L873.9,355.6 L874.4,354.3 L875.0,352.6 L875.6,354.6 L876.2,354.9 L876.8,352.4 L877.4,353.3 L878.0,355.7 L878.6,355.2 L879.2,354.1 L879.8,352.0 L880.4,351.8 L881.0,352.8 L881.6,355.3 L882.1,356.4 L882.7,353.1 L883.3,351.2 L883.9,350.4 L884.5,351.7 L885.1,353.0 L885.7,353.5 L886.3,354.1 L886.9,354.8 L887.5,353.9 L888.1,352.8 L888.7,352.3 L889.3,352.2 L889.9,352.4 L890.5,353.3 L891.1,354.2 L891.7,353.0 L892.3,352.7 L892.9,353.5 L893.5,351.5 L894.1,349.0 L894.7,350.6 L895.2,351.7 L895.8,352.0 L896.4,353.0 L897.0,354.1 L897.6,353.4 L898.2,352.8 L898.8,352.4 L899.4,353.0 L900.0,353.9 L900.6,352.8 L901.2,353.3 L901.8,356.8 L902.4,354.6 L903.0,349.7 L903.6,350.9 L904.2,352.4 L904.8,354.4 L905.4,354.2 L906.0,352.8 L906.6,352.2 L907.2,352.0 L907.8,352.8 L908.4,351.9 L909.0,350.1 L909.6,350.7 L910.2,351.1 L910.8,351.2 L911.4,352.5 L912.0,354.5 L912.6,352.8 L913.2,351.9 L913.8,354.0 L914.4,353.2 L915.0,350.6 L915.6,350.7 L916.2,350.3 L916.8,347.9 L917.4,348.5 L918.0,351.3 L918.6,348.6 L919.1,347.0 L919.7,350.1 L920.3,351.7 L920.9,352.0 L921.5,351.4 L922.1,350.4 L922.7,348.6 L923.3,348.3 L923.9,349.2 L924.5,346.7 L925.1,344.9 L925.7,347.2 L926.3,348.9 L926.9,350.0 L927.5,349.8 L928.1,349.5 L928.7,349.0 L929.3,349.8 L929.9,351.8 L930.5,351.0 L931.1,350.0 L931.7,349.5 L932.3,349.4 L932.9,349.6 L933.5,348.3 L934.1,347.2 L934.7,348.3 L935.3,347.6 L935.9,345.4 L936.5,344.2 L937.1,344.0 L937.7,346.8 L938.3,349.0 L938.9,350.5 L939.5,348.6 L940.1,346.9 L940.7,348.7 L941.3,348.2 L941.9,345.6 L942.5,346.9 L943.1,348.6 L943.7,348.6 L944.3,348.6 L944.9,348.6 L945.5,347.1 L946.1,346.0 L946.7,348.4 L947.3,349.7 L947.9,349.8 L948.5,349.7 L949.1,349.8 L949.7,351.9 L950.3,351.3 L950.9,348.1 L951.5,348.1 L952.1,348.8 L952.7,350.1 L953.3,349.2 L953.9,346.0 L954.5,345.9 L955.1,346.7 L955.7,349.1 L956.3,349.5 L956.9,347.7 L957.5,346.9 L958.1,346.7 L958.7,348.2 L959.3,347.9 L959.9,345.7 L960.5,346.7 L961.1,348.0 L961.7,346.6 L962.3,346.0 L962.9,346.5 L963.5,344.6 L964.1,343.0 L964.7,346.4 L965.3,348.3 L965.9,348.3 L966.5,347.8 L967.1,347.3 L967.7,346.7 L968.3,346.9 L968.9,347.9 L969.5,349.4 L970.1,350.5 L970.7,349.8 L971.3,348.5 L971.9,346.6 L972.5,347.1 L973.1,348.0 L973.7,347.4 L974.3,347.5 L974.9,348.4 L975.5,347.3 L976.1,346.3 L976.7,349.0 L977.3,349.2 L977.9,346.4 L978.5,345.7 L979.1,345.6 L979.7,347.2 L980.3,348.8 L980.9,350.4 L981.5,347.5 L982.1,344.2 L982.7,346.3 L983.3,347.8 L983.9,348.4 L984.5,350.6 L985.1,352.1 L985.7,347.0 L986.3,345.7 L986.9,348.9 L987.5,347.7 L988.1,345.8 L988.7,346.3 L989.3,347.2 L989.9,348.8 L990.5,348.2 L991.1,347.0 L991.7,345.3 L992.3,345.0 L992.9,346.4 L993.5,346.5 L994.1,346.4 L994.7,347.0 L995.3,346.8 L995.9,345.4 L996.5,345.4 L997.1,345.7 L997.7,346.1 L998.3,346.5 L998.9,346.9 L999.5,346.8 L1000.1,346.7 L1000.7,347.4 L1001.3,347.9 L1001.9,348.1 L1002.5,347.8 L1003.1,347.3 L1003.7,346.1 L1004.3,345.0 L1004.9,343.9 L1005.5,344.3 L1006.1,345.0 L1006.7,345.2 L1007.3,345.6 L1007.9,346.1 L1008.5,347.3 L1009.1,348.3 L1009.7,347.1 L1010.3,346.0 L1010.9,344.9 L1011.5,344.3 L1012.1,344.1 L1012.7,345.5 L1013.3,346.2 L1013.9,346.0 L1014.5,345.2 L1015.1,344.2 L1015.7,343.5 L1016.3,343.8 L1016.9,345.4 L1017.5,346.4 L1018.1,347.1 L1018.7,346.9 L1019.3,345.8 L1019.9,343.8 L1020.5,344.3 L1021.1,345.4 L1021.7,345.7 L1022.3,345.4 L1022.9,344.5 L1023.5,345.1 L1024.1,345.9 L1024.7,345.3 L1025.3,345.7 L1025.9,347.6 L1026.5,346.5 L1027.1,345.1 L1027.7,347.8 L1028.3,349.0 L1028.9,348.3 L1029.5,347.5 L1030.1,346.8 L1030.7,346.7 L1031.3,347.2 L1031.9,348.6 L1032.5,347.2 L1033.1,345.4 L1033.7,346.3 L1034.3,346.5 L1034.9,345.7 L1035.5,347.2 L1036.1,348.8 L1036.7,346.6 L1037.3,345.4 L1037.9,345.4 L1038.5,343.2 L1039.1,341.0 L1039.7,344.4 L1040.3,346.0 L1040.9,345.3 L1041.5,345.9 L1042.1,346.7 L1042.7,344.2 L1043.3,343.1 L1043.9,343.8 L1044.5,346.0 L1045.1,348.1 L1045.7,345.5 L1046.3,344.6 L1046.9,345.7 L1047.5,346.6 L1048.1,347.3 L1048.7,346.3 L1049.3,345.7 L1049.9,345.6 L1050.5,346.7 L1051.1,347.7 L1051.7,345.6 L1052.3,344.9 L1052.9,346.2 L1053.5,345.8 L1054.1,344.7 L1054.7,343.7 L1055.3,343.6 L1055.8,345.0 L1056.4,346.5 L1057.0,347.7 L1057.6,345.9 L1058.2,344.6 L1058.8,343.9 L1059.4,344.2 L1060.0,344.7 L1060.6,344.3 L1061.2,344.6 L1061.8,345.7 L1062.4,344.7 L1063.0,343.1 L1063.6,345.4" fill="none" stroke="#ff00ff" stroke-width="3.4" stroke-linejoin="round" stroke-linecap="round"/>
</g>
<path d="M146.5,1.5 V675.9 M145,674.5 H1065" fill="none" stroke="#000" stroke-width="3" stroke-linecap="butt"/>
<path d="M133,79.7 H146 M133,208.9 H146 M133,338.2 H146 M133,467.4 H146 M133,596.7 H146 M139.5,15.1 H146 M139.5,144.3 H146 M139.5,273.6 H146 M139.5,402.8 H146 M139.5,532.1 H146 M139.5,661.3 H146 M313.4,675 V688 M627.8,675 V688 M942.2,675 V688 M156.2,675 V681.5 M470.6,675 V681.5 M785.0,675 V681.5" fill="none" stroke="#000" stroke-width="3" stroke-linecap="round"/>
<circle cx="146.5" cy="1.5" r="1.5" fill="#000"/>
<text transform="translate(124.00,87.10) scale(1,1.050)" font-size="27" text-anchor="end">10000</text>
<text transform="translate(124.00,216.35) scale(1,1.050)" font-size="27" text-anchor="end">5000</text>
<text transform="translate(124.00,345.60) scale(1,1.050)" font-size="27" text-anchor="end">0</text>
<text transform="translate(124.00,474.85) scale(1,1.050)" font-size="27" text-anchor="end">-5000</text>
<text transform="translate(124.00,604.10) scale(1,1.050)" font-size="27" text-anchor="end">-10000</text>
<text transform="translate(313.40,718.70) scale(1,1.060)" font-size="27" text-anchor="middle">329.0</text>
<text transform="translate(627.80,718.70) scale(1,1.060)" font-size="27" text-anchor="middle">329.5</text>
<text transform="translate(942.20,718.70) scale(1,1.060)" font-size="27" text-anchor="middle">330.0</text>
<text x="604.7" y="770.6" font-size="33.2" text-anchor="middle">Magnetic Field (mT)</text>
<text transform="translate(24.7,336.6) rotate(-90)" x="0" y="0" font-size="33.2" text-anchor="middle">Derivative of absorbance (a.u)</text>
<text transform="translate(218.80,421.10) scale(1,1.050)" font-size="33.5">P5T350</text>
<text transform="translate(218.80,460.80) scale(1,1.050)" font-size="33.3">5GPa, 350°C</text>
<rect x="710" y="29.5" width="228" height="255.7" fill="#fff" stroke="#000" stroke-width="1.6"/>
<path d="M714,50.7 H782" stroke="#000" stroke-width="2" stroke-dasharray="4.2 6" fill="none"/>
<text transform="translate(789.00,61.60) scale(1,1.060)" font-size="30">0.001 GGy</text>
<path d="M715.0,87.0 H781.0" stroke="#0000ff" stroke-width="2.0" stroke-linecap="round" fill="none"/>
<text transform="translate(789.00,97.87) scale(1,1.060)" font-size="30">0.01 GGy</text>
<path d="M715.2,123.2 H780.8" stroke="#00ffff" stroke-width="2.5" stroke-linecap="round" fill="none"/>
<text transform="translate(789.00,134.14) scale(1,1.060)" font-size="30">0.1 GGy</text>
<path d="M715.4,159.5 H780.6" stroke="#00ff00" stroke-width="2.8" stroke-linecap="round" fill="none"/>
<text transform="translate(789.00,170.41) scale(1,1.060)" font-size="30">0.6 GGy</text>
<path d="M715.5,195.8 H780.5" stroke="#ff0000" stroke-width="3.0" stroke-linecap="round" fill="none"/>
<text transform="translate(789.00,206.68) scale(1,1.060)" font-size="30">2.4 GGy</text>
<path d="M715.1,232.1 H780.9" stroke="#000000" stroke-width="2.2" stroke-linecap="round" fill="none"/>
<text transform="translate(789.00,242.95) scale(1,1.060)" font-size="30">4.9 GGy</text>
<path d="M715.3,268.3 H780.7" stroke="#ff00ff" stroke-width="2.6" stroke-linecap="round" fill="none"/>
<text transform="translate(789.00,279.22) scale(1,1.060)" font-size="30">11 GGy</text>
<path d="M255.2,24.6 V196.8 M254.2,195.8 H470.5 M250.2,195.8 H255 M250.2,147.0 H255 M250.2,98.1 H255 M250.2,49.3 H255 M252.2,171.4 H255 M252.2,122.6 H255 M252.2,73.7 H255 M252.2,24.9 H255 M315.7,196 V201 M362.4,196 V201 M409.1,196 V201 M455.8,196 V201 M329.8,196 V199 M338.0,196 V199 M343.8,196 V199 M348.3,196 V199 M352.0,196 V199 M355.2,196 V199 M357.9,196 V199 M360.3,196 V199 M376.5,196 V199 M384.7,196 V199 M390.5,196 V199 M395.0,196 V199 M398.7,196 V199 M401.9,196 V199 M404.6,196 V199 M407.0,196 V199 M423.2,196 V199 M431.4,196 V199 M437.2,196 V199 M441.7,196 V199 M445.4,196 V199 M448.6,196 V199 M451.3,196 V199 M453.7,196 V199 M469.9,196 V199" fill="none" stroke="#111" stroke-width="1.8"/>
<text x="247.2" y="202.7" font-size="25" text-anchor="end">0.0</text>
<text x="247.2" y="153.9" font-size="25" text-anchor="end">0.1</text>
<text x="247.2" y="105.0" font-size="25" text-anchor="end">0.2</text>
<text x="247.2" y="56.2" font-size="25" text-anchor="end">0.3</text>
<text x="315.7" y="223.8" font-size="25" text-anchor="middle">0.01</text>
<text x="362.4" y="223.8" font-size="25" text-anchor="middle">0.1</text>
<text x="409.1" y="223.8" font-size="25" text-anchor="middle">1</text>
<text x="455.8" y="223.8" font-size="25" text-anchor="middle">10</text>
<text x="362.7" y="264.2" font-size="25" text-anchor="middle">GGy</text>
<text transform="translate(191.3,102.8) rotate(-90)" font-size="25" text-anchor="middle">fwhm (mT)</text>
<path d="M269.1,88.4 L315.8,73.6 L362.6,52.0 L398.8,43.3 L426.6,53.9 L441.3,56.2 L457.5,51.6" fill="none" stroke="#444" stroke-width="0.9"/>
<path d="M259.9,88.4 l9.2,-9.2 l9.2,9.2 l-9.2,9.2 z" fill="#fff" stroke="#000" stroke-width="2" stroke-linejoin="miter"/>
<path d="M306.6,73.6 l9.2,-9.2 l9.2,9.2 l-9.2,9.2 z" fill="#fff" stroke="#000" stroke-width="2" stroke-linejoin="miter"/>
<path d="M353.4,52.0 l9.2,-9.2 l9.2,9.2 l-9.2,9.2 z" fill="#fff" stroke="#000" stroke-width="2" stroke-linejoin="miter"/>
<path d="M389.6,43.3 l9.2,-9.2 l9.2,9.2 l-9.2,9.2 z" fill="#fff" stroke="#000" stroke-width="2" stroke-linejoin="miter"/>
<path d="M417.4,53.9 l9.2,-9.2 l9.2,9.2 l-9.2,9.2 z" fill="#fff" stroke="#000" stroke-width="2" stroke-linejoin="miter"/>
<path d="M432.1,56.2 l9.2,-9.2 l9.2,9.2 l-9.2,9.2 z" fill="#fff" stroke="#000" stroke-width="2" stroke-linejoin="miter"/>
<path d="M448.3,51.6 l9.2,-9.2 l9.2,9.2 l-9.2,9.2 z" fill="#fff" stroke="#000" stroke-width="2" stroke-linejoin="miter"/>
</svg></body></html>
